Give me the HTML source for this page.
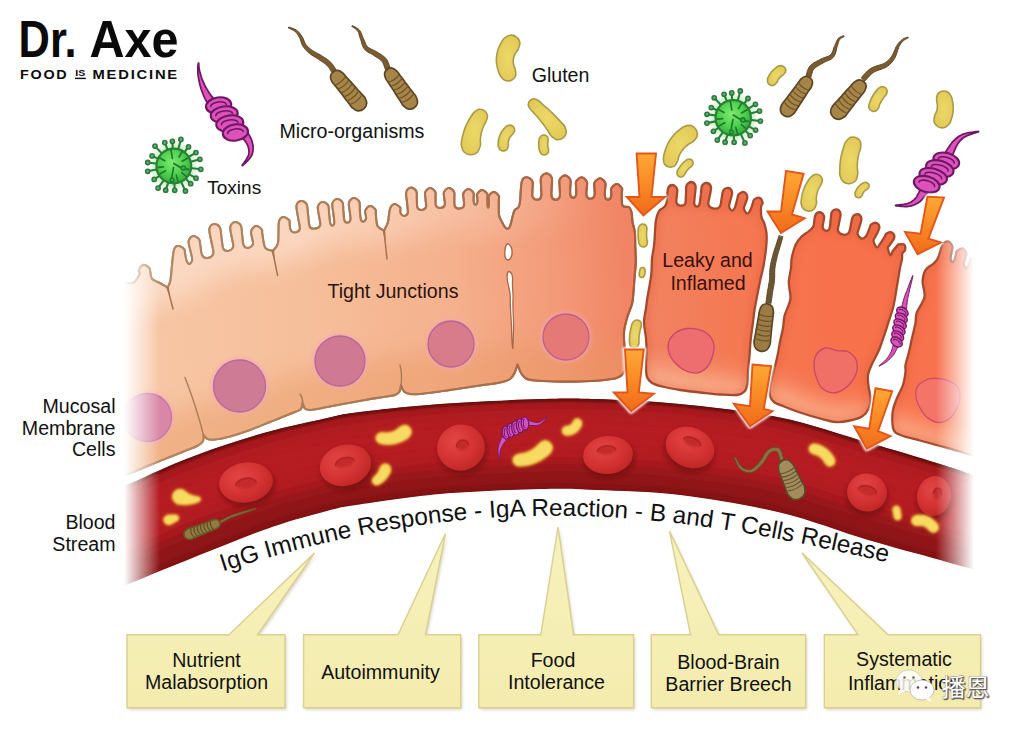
<!DOCTYPE html>
<html lang="en"><head><meta charset="utf-8"><title>Leaky Gut - Dr. Axe</title>
<style>
html,body{margin:0;padding:0;background:#fff;}
body{width:1024px;height:732px;overflow:hidden;font-family:"Liberation Sans",sans-serif;}
svg{display:block;}
</style></head><body>
<svg width="1024" height="732" viewBox="0 0 1024 732">
<defs>
<linearGradient id="gcell" gradientUnits="userSpaceOnUse" x1="120" y1="300" x2="960" y2="260">
 <stop offset="0" stop-color="#f7c7a5"/>
 <stop offset="0.22" stop-color="#f6bf9b"/>
 <stop offset="0.40" stop-color="#f5b08c"/>
 <stop offset="0.52" stop-color="#f39a78"/>
 <stop offset="0.60" stop-color="#f18565"/>
 <stop offset="0.72" stop-color="#f47a54"/>
 <stop offset="0.85" stop-color="#f7714b"/>
 <stop offset="1" stop-color="#f8744e"/>
</linearGradient>
<linearGradient id="gcellv" gradientUnits="userSpaceOnUse" x1="0" y1="200" x2="0" y2="460">
 <stop offset="0" stop-color="#f2a080" stop-opacity="0.25"/>
 <stop offset="0.5" stop-color="#f7c8a6" stop-opacity="0"/>
 <stop offset="1" stop-color="#fbd4b4" stop-opacity="0.35"/>
</linearGradient>
<linearGradient id="gstroke" gradientUnits="userSpaceOnUse" x1="120" y1="0" x2="640" y2="0">
 <stop offset="0" stop-color="#b48a64"/>
 <stop offset="0.6" stop-color="#a87450"/>
 <stop offset="1" stop-color="#a85c3c"/>
</linearGradient>

<clipPath id="hclip"><path d="M112 283C114 282.8 120.5 282 124 282C127.5 282 130.4 284.3 133 283C135.6 281.7 138.7 276.1 139.7 274C140.7 271.9 138.3 272 138.8 270.5C139.4 269 141.3 265.4 143 265C144.7 264.6 148.1 266.8 149.3 267.9C150.5 269 149.7 269.6 150.2 271.4C150.6 273.3 150.4 277.1 152 279C153.6 280.9 157.4 281.6 160 283C162.6 284.4 166.2 286.8 167.5 287.5C168 286.2 169.5 286 170.5 280C171.5 274 172.4 256.9 173.7 251.2C174.9 245.6 176.3 246.4 178 246C179.7 245.6 182.9 247.7 184.1 249C185.2 250.4 184.7 251.9 185.1 253.8C185.5 255.8 185.9 259.2 186.6 260.9C187.3 262.6 188.5 264.2 189.4 264C190.4 263.8 192 261.9 192.2 259.8C192.4 257.7 191.2 254.5 190.6 251.4C190 248.3 188.2 243.7 188.6 241.2C189 238.6 191.3 236.3 193 236C194.7 235.7 197.8 237.5 199 239.2C200.2 240.8 199.8 243.4 200.4 246.1C200.9 248.8 200.9 253.4 202.2 255.4C203.4 257.4 205.9 258.3 207.7 258C209.6 257.7 212.7 256.2 213.3 253.6C214 251 212.2 246.6 211.6 242.5C210.9 238.4 209 232.1 209.4 229C209.8 225.9 212.3 224.3 214 224C215.7 223.7 218.7 225.2 219.9 227.4C221.1 229.5 220.9 233.6 221.4 237.1C222 240.6 222.1 246 223.2 248.4C224.4 250.7 226.5 251.2 228.2 251C229.8 250.8 232.5 249.2 233.2 247C233.8 244.8 232.3 241.1 231.9 237.8C231.4 234.4 229.8 229.6 230.3 226.9C230.9 224.3 233.3 222.2 235 222C236.7 221.8 239.6 223.4 240.8 225.5C242 227.6 241.7 231.3 242.1 234.7C242.6 238 242.6 243.2 243.6 245.4C244.7 247.7 246.7 248.2 248.3 248C249.8 247.8 252.3 246 252.9 244.3C253.5 242.6 252.4 240.1 252.1 237.9C251.8 235.7 250.6 232.8 251.3 230.9C251.9 228.9 254.2 226.2 256 226C257.8 225.8 260.7 228.3 261.8 229.6C262.8 230.8 261.7 230.3 262.2 233.3C262.8 236.3 263.3 244.6 265 247.5C266.7 250.4 271.4 250.4 272.7 251C273.6 249.7 276.9 247.9 278 243C279.1 238.1 278.1 226.2 279 221.8C279.9 217.5 281.7 217.3 283.4 217C285.1 216.7 288 219.1 289.1 220.2C290.1 221.4 289.4 222.1 289.6 223.8C289.9 225.5 289.7 228.9 290.7 230.3C291.6 231.8 293.7 232.7 295.2 232.5C296.7 232.3 299.3 231.4 299.8 229C300.3 226.6 298.8 221.9 298.2 218.1C297.7 214.2 296.1 208.6 296.5 205.8C297 202.9 299.3 201.2 301 201C302.7 200.8 305.4 202.1 306.6 204.3C307.8 206.6 307.5 210.8 308 214.5C308.6 218.2 308.6 224.4 309.8 226.7C310.9 229.1 313.3 228.8 315 228.6C316.7 228.4 319.5 227.4 320.2 225.3C320.9 223.3 319.5 219.4 319.1 216.3C318.7 213.2 317.4 209.1 317.9 206.7C318.5 204.3 320.8 202.2 322.5 202C324.2 201.8 327 203.5 328.1 205.4C329.2 207.3 328.7 210.6 329.1 213.5C329.4 216.4 329.7 220.9 330.2 223C330.8 225 331.6 225.8 332.3 225.7C333 225.6 334.2 224.6 334.3 222.5C334.5 220.5 333.7 216.5 333.4 213.3C333 210.2 331.8 206 332.4 203.6C333 201.2 335.3 199.2 337 199C338.7 198.8 341.4 200.6 342.5 202.5C343.6 204.5 343 207.7 343.3 210.6C343.7 213.5 343.7 218 344.3 220.1C345 222.1 346.4 222.8 347.4 222.7C348.4 222.6 350.1 221.4 350.5 219.5C350.8 217.6 350 214 349.7 211.2C349.5 208.3 348.3 204.7 349 202.5C349.6 200.3 352 198.1 353.7 198C355.4 197.9 358.1 199.7 359.1 201.6C360.2 203.6 359.6 206.8 359.8 209.7C360.1 212.6 360.1 217.1 360.7 219.1C361.2 221 362.4 221.8 363.3 221.7C364.2 221.6 365.6 219.8 366 218.6C366.4 217.3 365.7 215.6 365.6 214.2C365.5 212.9 364.5 211.9 365.3 210.5C366 209.1 368.3 206.1 370 206C371.7 205.9 374.5 208.4 375.4 209.6C376.4 210.9 375.4 210.8 375.8 213.5C376.1 216.2 376.1 223.2 377.5 226C378.9 228.8 382.9 229.8 384 230.5C384.7 229.1 387 225.7 388 222C389 218.3 389 211.4 390.2 208.4C391.3 205.4 393.1 204.1 394.8 204C396.5 203.9 399.2 206.6 400.1 207.5C401 208.5 400.2 208.4 400.3 209.4C400.4 210.4 400 212.5 400.7 213.6C401.3 214.7 403 216.1 404.2 216C405.4 215.9 407.3 215.3 407.8 213.1C408.2 210.9 407.3 206.3 407.1 202.8C406.8 199.3 405.6 194.5 406.3 191.9C406.9 189.4 409.3 187.7 411 187.6C412.7 187.5 415.3 189.4 416.3 191.2C417.2 193.1 416.6 196.1 416.8 198.8C417 201.5 416.6 205.8 417.4 207.6C418.2 209.5 420.3 210.1 421.7 210C423.1 209.9 425.3 208.9 426 207.1C426.6 205.4 425.7 202.1 425.6 199.6C425.5 197.1 424.5 194.2 425.2 192.3C425.9 190.3 428.3 188.1 430 188C431.7 187.9 434.3 190.1 435.2 191.7C436.1 193.4 435.4 195.7 435.5 198C435.7 200.3 435.1 203.9 435.9 205.6C436.7 207.3 438.9 208.1 440.3 208C441.8 207.9 444 206.7 444.7 205.2C445.4 203.6 444.5 200.7 444.3 198.5C444.2 196.4 443.3 194 444 192.3C444.8 190.5 447.1 188.1 448.8 188C450.5 187.9 453.1 190 454 191.7C454.9 193.5 454.2 195.9 454.3 198.3C454.5 200.7 453.9 204.5 454.8 206.2C455.6 208 457.8 208.7 459.3 208.6C460.8 208.5 463.2 207.4 463.9 205.8C464.6 204.3 463.7 201.3 463.7 199.2C463.6 197.1 462.7 194.9 463.4 193.2C464.2 191.5 466.6 189.1 468.3 189C470 188.9 472.6 191.5 473.4 192.8C474.3 194.1 473.5 195.2 473.6 196.7C473.6 198.3 473.4 200.9 473.8 202.2C474.1 203.5 475 204.7 475.6 204.7C476.2 204.7 477.1 203.3 477.4 202.1C477.7 200.9 477.3 198.8 477.3 197.5C477.2 196.2 476.4 195.4 477.1 194.2C477.9 192.9 480.3 190.1 482 190C483.7 189.9 486.3 192.4 487.1 193.8C488 195.3 487.2 196.9 487.3 198.8C487.4 200.6 487.4 203.5 487.5 205C487.7 206.5 488 207.6 488.2 207.6C488.5 207.6 488.8 206.2 488.9 205C489 203.7 488.9 201.4 488.8 199.9C488.8 198.5 488 197.4 488.8 196.1C489.6 194.8 492 192 493.7 192C495.4 192 497.9 194.6 498.8 195.9C499.6 197.2 498.8 196.8 498.8 200C498.9 203.2 498.5 211.3 499 215C499.5 218.7 501 220 502 222C503 224 503.9 225.9 504.8 227C505.7 228.1 506.7 228.9 507.6 228.8C508.5 228.7 509.4 227.8 510 226.5C510.6 225.2 510.8 223.7 511.5 221C512.2 218.3 513.2 213.2 514.5 210.5C515.8 207.8 518.3 209.8 519.5 205C520.7 200.2 520.5 186.2 521.8 181.6C523 177 525.2 177.3 527 177.3C528.8 177.3 531.5 179.5 532.4 181.4C533.3 183.3 532.5 186.1 532.5 188.7C532.5 191.3 531.9 195 532.6 196.9C533.4 198.7 535.5 199.8 536.9 199.8C538.3 199.8 540.4 198.9 541.1 196.8C541.8 194.7 541.1 190.2 541.1 187C541.1 183.9 540.2 179.9 541.1 177.6C542 175.4 544.6 173.4 546.4 173.4C548.2 173.4 550.8 175.4 551.7 177.6C552.6 179.9 551.7 183.9 551.7 187C551.7 190.2 551 194.7 551.7 196.8C552.4 198.9 554.4 199.8 555.7 199.8C557 199.8 559 198.8 559.7 196.8C560.4 194.8 559.7 190.8 559.7 187.9C559.7 185.1 558.8 181.7 559.7 179.6C560.6 177.5 563.2 175.4 565 175.4C566.8 175.4 569.4 177.7 570.3 179.6C571.2 181.6 570.3 184.4 570.3 186.9C570.3 189.4 569.8 193.1 570.3 194.9C570.8 196.7 572.2 197.9 573.1 197.9C574.1 197.9 575.5 196.7 576 195C576.5 193.2 576.1 189.9 576.1 187.7C576.2 185.4 575.3 183.2 576.2 181.4C577.1 179.7 579.8 177.3 581.6 177.3C583.4 177.3 586 179.8 586.8 181.6C587.7 183.5 586.7 186 586.7 188.3C586.7 190.7 585.9 194 586.6 195.8C587.2 197.5 589.2 198.8 590.5 198.8C591.8 198.8 593.7 197.6 594.4 195.9C595.1 194.2 594.5 190.8 594.5 188.6C594.6 186.4 593.7 184.2 594.6 182.4C595.5 180.7 598.2 178.3 600 178.3C601.8 178.3 604.4 180.8 605.2 182.6C606.1 184.5 605.1 187 605.1 189.3C605.1 191.7 604.5 195 605 196.7C605.5 198.5 607 199.8 608 199.8C609 199.8 610.5 198.3 611 196.9C611.6 195.5 611.2 193.1 611.2 191.6C611.3 190.1 610.4 189.3 611.4 188.1C612.3 186.8 615 183.9 616.8 184C618.6 184.1 621.1 187.1 621.9 188.4C622.8 189.8 621.7 189.3 621.8 192.1C621.9 195 621.3 203 622.5 205.5C623.7 208 627.5 205.9 629 207C630.5 208.1 630.9 209.5 631.5 212C632.1 214.5 632 218.7 632.5 222C633 225.3 634.3 227.8 634.8 232C635.3 236.2 635.1 242 635.3 247C635.5 252 635.9 256.8 635.8 262C635.7 267.2 634.9 273 634.5 278C634.1 283 633.9 287.7 633.5 292C633.1 296.3 633.1 299.7 632 304C630.9 308.3 628.3 313.3 627 318C625.7 322.7 624.4 327.3 624 332C623.6 336.7 624.1 341.7 624.5 346C624.9 350.3 626.2 354.3 626.5 358C626.8 361.7 626.8 365.2 626 368C625.2 370.8 623.8 373.2 622 375C620.2 376.8 616.2 377.9 615 378.5C612.5 378.8 605.8 380 600 380.5C594.2 381 587.5 381.3 580 381.5C572.5 381.7 562.5 381.7 555 381.5C547.5 381.3 539.8 381 535 380.5C530.2 380 528.3 379.8 526 378.5C523.7 377.2 522.4 375.3 521 373C519.6 370.7 518.1 365.9 517.5 364.5C517 365.9 515.8 370.6 514.5 373C513.2 375.4 512.4 377.4 510 379C507.6 380.6 505 381.4 500 382.5C495 383.6 486.7 384.5 480 385.5C473.3 386.5 466.7 387.5 460 388.5C453.3 389.5 446.7 390.6 440 391.5C433.3 392.4 425 393.6 420 394C415 394.4 412.7 394.4 410 394C407.3 393.6 405.5 393 404 391.5C402.5 390 401.5 386.1 401 385C400.8 386.1 400.5 389.8 399.5 391.5C398.5 393.2 398.2 394 395 395C391.8 396 385 396.7 380 397.5C375 398.3 371.7 398.8 365 400C358.3 401.2 347.5 403.1 340 404.5C332.5 405.9 325 407.6 320 408.5C315 409.4 312.5 410 310 410C307.5 410 306.2 409.7 305 408.5C303.8 407.3 302.9 403.9 302.5 403C302.2 404 302.1 407.6 301 409C299.9 410.4 298.7 410.3 296 411.5C293.3 412.7 289.3 414.2 285 416C280.7 417.8 275.8 419.7 270 422C264.2 424.3 256.7 427.6 250 430C243.3 432.4 235.8 434.9 230 436.5C224.2 438.1 218.8 439.1 215 439.5C211.2 439.9 209.4 439.8 207.5 439C205.6 438.2 204.2 435.7 203.5 435C203.4 436 203.9 439.2 203 441C202.1 442.8 201 443.8 198 445.5C195 447.2 189.7 449.1 185 451C180.3 452.9 175.8 454.7 170 457C164.2 459.3 156.3 462.4 150 465C143.7 467.6 138.3 470 132 472.5C125.7 475 115.3 478.8 112 480L112 283Z"/></clipPath>
<linearGradient id="gmaskL" gradientUnits="userSpaceOnUse" x1="300" y1="0" x2="600" y2="0"><stop offset="0" stop-color="#fff"/><stop offset="1" stop-color="#000"/></linearGradient><mask id="maskL" maskUnits="userSpaceOnUse" x="0" y="0" width="1024" height="732"><rect width="1024" height="732" fill="url(#gmaskL)"/></mask>
<clipPath id="rclip0"><path d="M659 211C660.2 208.9 662.2 208.8 663.5 207.5C664.8 206.2 665.7 206.2 666.5 203C667.3 199.8 667 191.4 668.1 188.4C669.1 185.4 671.2 184.9 672.7 185C674.2 185.1 676.4 187 677.1 188.8C677.8 190.5 676.9 193.3 676.8 195.7C676.7 198 675.9 201.3 676.6 203C677.3 204.6 679.5 205.6 680.9 205.7C682.4 205.8 684.5 205.4 685.3 203.4C686.1 201.5 685.7 196.9 686 193.8C686.2 190.8 685.7 187.3 686.6 185.3C687.4 183.3 689.8 181.9 691.3 182C692.8 182.1 694.9 183.7 695.5 185.9C696.1 188.1 695.1 192 694.9 195C694.7 197.9 694 201.8 694.3 203.7C694.6 205.7 696 206.5 696.9 206.6C697.7 206.7 698.8 206.2 699.5 204.2C700.1 202.1 700.4 197.4 700.9 194.4C701.3 191.3 701 187.8 702 185.9C703.1 184 705.5 182.8 707 183C708.5 183.2 710.5 184.9 711 187.2C711.4 189.5 710 193.8 709.6 196.7C709.2 199.7 707.7 202.8 708.5 204.8C709.2 206.8 712.3 208.3 714.2 208.6C716.1 208.9 718.6 208.5 719.8 206.6C721.1 204.7 721.3 200 721.8 197.3C722.4 194.6 722.2 192.1 723.2 190.6C724.3 189 726.9 187.7 728.4 188C729.9 188.3 731.7 190.4 732.1 192.5C732.4 194.5 730.9 197.9 730.4 200.2C729.9 202.6 728.8 204.9 729.1 206.6C729.3 208.3 731 210.3 731.9 210.5C732.9 210.7 733.9 209.5 734.8 207.7C735.7 205.9 736.5 202 737.1 199.7C737.8 197.5 737.5 195.5 738.7 194.2C739.8 192.9 742.6 191.6 744 192C745.4 192.4 747.1 194.7 747.3 196.7C747.6 198.7 745.9 201.8 745.3 203.8C744.7 205.8 743.6 207.1 743.9 208.8C744.2 210.4 746 213.2 747 213.5C748.1 213.8 749.3 212.1 750.2 210.4C751.2 208.8 752.1 205.4 752.7 203.6C753.4 201.8 753 200.6 754.1 199.6C755.3 198.7 758.2 197.3 759.6 197.8C761 198.3 762.3 201.2 762.6 202.7C762.8 204.2 761.3 204.4 761.1 206.8C760.9 209.2 760.9 214.1 761.5 217C762.1 219.9 763.7 221.3 764.5 224C765.3 226.7 766.2 229.8 766.5 233C766.8 236.2 766.7 239.7 766.5 243C766.3 246.3 766 249.2 765.5 253C765 256.8 764.3 261.7 763.5 266C762.7 270.3 761.5 274.3 760.5 279C759.5 283.7 758.5 288.8 757.5 294C756.5 299.2 755.3 304.7 754.5 310C753.7 315.3 753.2 320.7 752.5 326C751.8 331.3 751 337 750.5 342C750 347 749.9 351 749.5 356C749.1 361 748.3 367.3 748 372C747.7 376.7 748.1 380.8 747.5 384C746.9 387.2 746.2 389.7 744.5 391.5C742.8 393.3 741.1 394.5 737 395C732.9 395.5 726.2 394.9 720 394.5C713.8 394.1 706.7 393.2 700 392.5C693.3 391.8 686.3 391 680 390C673.7 389 666.7 387.7 662 386.5C657.3 385.3 654.5 384.6 652 383C649.5 381.4 648 379.8 647 377C646 374.2 646.1 370.2 646 366C645.9 361.8 646.5 356.7 646.5 352C646.5 347.3 646.4 343 646 338C645.6 333 644 327 644 322C644 317 645.4 312.2 646 308C646.6 303.8 646.9 300.7 647.5 297C648.1 293.3 648.8 290.2 649.5 286C650.2 281.8 651.1 276.5 651.5 272C651.9 267.5 651.6 263.3 652 259C652.4 254.7 653.5 250.5 654 246C654.5 241.5 654.7 236.3 655 232C655.3 227.7 655.3 223.5 656 220C656.7 216.5 657.8 213.1 659 211Z"/></clipPath>
<clipPath id="rclip1"><path d="M801.5 236.6C803.8 234.3 807 232.8 809 231C811 229.2 812.5 228.6 813.5 226C814.5 223.4 814.2 217.5 815.3 215.2C816.3 212.9 818.5 212 820 212.2C821.5 212.4 823.4 214.5 824 216.2C824.6 217.8 823.6 220 823.4 222C823.2 223.9 822.3 226.3 822.8 227.8C823.2 229.2 825 230.7 826.1 230.8C827.2 230.9 828.7 230.4 829.5 228.5C830.2 226.7 830.3 222.3 830.7 219.5C831.1 216.8 830.8 213.9 831.8 212.2C832.7 210.5 835.1 209.1 836.6 209.3C838.1 209.5 840 211.1 840.5 213.4C840.9 215.7 839.5 220 839.1 222.9C838.7 225.8 837.3 228.9 838 230.9C838.7 232.9 841.6 234.4 843.4 234.7C845.2 235 847.6 234.5 848.9 232.6C850.2 230.7 850.5 225.9 851.2 223.2C851.9 220.5 851.7 218.1 852.9 216.6C854 215 856.6 213.8 858 214.2C859.4 214.6 861.2 216.5 861.4 218.7C861.6 220.9 859.9 224.9 859.2 227.4C858.6 230 857.2 232.2 857.6 234.1C858 235.9 860.4 238.2 861.8 238.6C863.2 239 864.7 237.9 866 236.2C867.3 234.5 868.7 230.2 869.5 228.2C870.4 226.3 870.1 225.3 871.2 224.4C872.4 223.6 875.4 222.4 876.7 223C878 223.6 879.5 225.8 879.3 228C879.1 230.2 876.6 234.1 875.6 236.2C874.7 238.4 873.3 239.1 873.5 241C873.7 242.8 875.8 247 876.9 247.4C878.1 247.8 879 245.4 880.3 243.5C881.6 241.7 883.7 238.2 884.8 236.5C885.8 234.8 885.4 234 886.7 233.4C888 232.7 891.1 231.9 892.3 232.7C893.5 233.5 894.6 236 894.2 238C893.8 240 891 243.1 889.9 244.8C888.9 246.5 887.8 246.4 887.9 248.1C887.9 249.8 889.6 254.8 890.4 255.2C891.3 255.6 891.9 252.4 893 250.7C894.2 249.1 896.5 246.6 897.4 245.5C898.3 244.4 897.3 244.5 898.4 244.4C899.5 244.2 902.9 243.6 904 244.5C905.1 245.4 905.4 248.5 905.1 250C904.8 251.5 902.8 251.9 902.3 253.4C901.8 254.9 902.4 256.6 902 259C901.6 261.4 900.7 264.5 900 268C899.3 271.5 898.8 275.5 898 280C897.2 284.5 896.3 290.3 895.5 295C894.7 299.7 894.2 303.5 893 308C891.8 312.5 890 317.3 888.5 322C887 326.7 885.6 331.3 884 336C882.4 340.7 881 345.3 879 350C877 354.7 873.8 359.8 872 364C870.2 368.2 868.6 371.3 868 375C867.4 378.7 868.1 382.2 868.5 386C868.9 389.8 870.5 394.2 870.5 398C870.5 401.8 869.9 405.9 868.5 409C867.1 412.1 865.1 414.6 862 416.5C858.9 418.4 854.3 419.6 850 420.5C845.7 421.4 841 422.3 836 422C831 421.7 826 420.1 820 418.5C814 416.9 806 414.5 800 412.5C794 410.5 788.3 408.2 784 406.5C779.7 404.8 776.3 403.8 774 402C771.7 400.2 770.7 398.3 770 396C769.3 393.7 769.5 391.7 770 388C770.5 384.3 771.8 379 773 374C774.2 369 775.8 363.3 777 358C778.2 352.7 779 347 780 342C781 337 782.2 332.3 783 328C783.8 323.7 783.5 320 784.5 316C785.5 312 788 307.2 789 304C790 300.8 790.5 300.7 790.5 297C790.5 293.3 788.7 286.8 788.8 282C788.9 277.2 790.5 272 791 268C791.5 264 791 261.8 791.7 258C792.5 254.2 793.9 248.6 795.5 245C797.1 241.4 799.2 238.9 801.5 236.6Z"/></clipPath>
<clipPath id="rclip2"><path d="M925.5 270C927.2 267.1 930.9 266 933 264C935.1 262 936.4 261.2 938 258C939.6 254.8 940.8 247.5 942.5 244.8C944.2 242 946.3 241.3 948 241.5C949.7 241.7 951.8 244.3 952.4 246.2C953 248 951.8 250.5 951.5 252.6C951.2 254.8 950.4 257.4 950.6 258.9C950.8 260.5 952 261.9 952.6 262C953.3 262.1 954.1 260.9 954.7 259.5C955.3 258.2 955.8 255.2 956.1 253.7C956.5 252.3 955.7 252 956.8 251.1C957.9 250.2 961 248 962.6 248.4C964.2 248.8 966.1 251.7 966.5 253.5C966.9 255.3 965.5 257.6 965 259.4C964.6 261.1 963.6 262.6 963.9 264C964.1 265.5 965.5 267.8 966.3 268C967.1 268.2 968 266.4 968.7 265.1C969.4 263.8 970.1 261.3 970.5 260.3C970.9 259.3 969.8 259.6 970.9 259C972 258.5 975.4 256.4 977 257C978.6 257.6 980 260.9 980.3 262.5C980.7 264 978.3 264.2 978.9 266.3C979.5 268.4 980.5 271.9 984 275C987.5 278.1 997.3 252.5 1000 285C1002.7 317.5 1002.5 440.8 1000 470C997.5 499.2 991.2 462.9 985 460C978.8 457.1 970.5 454.8 963 452.5C955.5 450.2 947.2 448 940 446C932.8 444 926.2 442.2 920 440.5C913.8 438.8 907.2 437.5 903 436C898.8 434.5 896.2 433.5 894.5 431.5C892.8 429.5 892.8 427.6 892.5 424C892.2 420.4 892.2 414.3 893 410C893.8 405.7 895.3 402.2 897 398C898.7 393.8 901.6 389.3 903 385C904.4 380.7 905.1 375.3 905.5 372C905.9 368.7 904.9 368.3 905.5 365C906.1 361.7 907.9 356.5 909 352C910.1 347.5 910.9 342.8 912 338C913.1 333.2 914.7 327.2 915.5 323C916.3 318.8 915.2 317.1 916.7 312.8C918.2 308.5 923.5 302.2 924.5 297C925.5 291.8 922.4 286 922.6 281.5C922.8 277 923.8 272.9 925.5 270Z"/></clipPath>

<filter id="blur2" x="-30%" y="-30%" width="160%" height="160%"><feGaussianBlur stdDeviation="2"/></filter>
<filter id="blur1" x="-30%" y="-30%" width="160%" height="160%"><feGaussianBlur stdDeviation="1"/></filter>
<filter id="blur3" x="-30%" y="-30%" width="160%" height="160%"><feGaussianBlur stdDeviation="3"/></filter>
<filter id="blur5" x="-30%" y="-30%" width="160%" height="160%"><feGaussianBlur stdDeviation="5"/></filter>
<filter id="blur12" x="-30%" y="-100%" width="160%" height="300%"><feGaussianBlur stdDeviation="12"/></filter>
<filter id="blur8" x="-30%" y="-60%" width="160%" height="220%"><feGaussianBlur stdDeviation="8"/></filter>

<clipPath id="bandclip"><path d="M100 495C105.4 492.9 120 487.8 132.5 482.5C145 477.2 159.6 469.8 175 463.5C190.4 457.2 208.3 450.6 225 445C241.7 439.4 258.3 434.4 275 430C291.7 425.6 311.5 421.4 325 418.5C338.5 415.6 336.8 414.9 356 412.5C375.2 410.1 409.3 406.2 440 404C470.7 401.8 514 399.8 540 399C566 398.2 572.7 398.2 596 399C619.3 399.8 649.3 400.9 680 404C710.7 407.1 748.7 411.1 780 417.5C811.3 423.9 841.3 434.8 868 442.5C894.7 450.2 918 457.1 940 464C962 470.9 990 480.7 1000 484L1000 577C990 574.2 962 566.2 940 560C918 553.8 894.7 547.9 868 540C841.3 532.1 811.3 520 780 512.5C748.7 505 710.7 498.8 680 495C649.3 491.2 619.3 491 596 490C572.7 489 566 488.3 540 489C514 489.7 470.7 491.3 440 494C409.3 496.7 375.2 502.1 356 505C336.8 507.9 338.5 508 325 511.5C311.5 515 291.7 520.4 275 526C258.3 531.6 241.7 538.5 225 545C208.3 551.5 190.4 558.8 175 565C159.6 571.2 145 577.3 132.5 582.5C120 587.7 105.4 593.8 100 596Z"/></clipPath>

<radialGradient id="grbc" cx="0.4" cy="0.35" r="0.7">
 <stop offset="0" stop-color="#e34646"/><stop offset="0.6" stop-color="#d43232"/><stop offset="1" stop-color="#bd2626"/>
</radialGradient>

<linearGradient id="fadeL" gradientUnits="userSpaceOnUse" x1="124" y1="0" x2="160" y2="0">
 <stop offset="0" stop-color="#fff" stop-opacity="1"/><stop offset="1" stop-color="#fff" stop-opacity="0"/></linearGradient>
<linearGradient id="fadeR" gradientUnits="userSpaceOnUse" x1="936" y1="0" x2="974" y2="0">
 <stop offset="0" stop-color="#fff" stop-opacity="0"/><stop offset="1" stop-color="#fff" stop-opacity="1"/></linearGradient>


<radialGradient id="gglu" cx="0.5" cy="0.5" r="0.6">
 <stop offset="0" stop-color="#ecd868"/><stop offset="1" stop-color="#e2c956"/></radialGradient>

<radialGradient id="gvir" cx="0.45" cy="0.4" r="0.65">
 <stop offset="0" stop-color="#7dea70"/><stop offset="0.55" stop-color="#4fd04c"/><stop offset="1" stop-color="#2ea83a"/></radialGradient>

<linearGradient id="garrow" x1="0" y1="0" x2="0" y2="1">
 <stop offset="0" stop-color="#fda836"/><stop offset="0.5" stop-color="#f98a25"/><stop offset="1" stop-color="#f06a1b"/></linearGradient>

<filter id="boxsh" x="-10%" y="-10%" width="120%" height="130%"><feGaussianBlur stdDeviation="1.6"/></filter>
<linearGradient id="gbox" x1="0" y1="0" x2="0" y2="1"><stop offset="0" stop-color="#f7f1bc"/><stop offset="1" stop-color="#f4ecae"/></linearGradient>

<path id="arc" d="M215 574.1C220.8 572.2 238.3 566.6 250 563.1C261.7 559.6 273.3 556.2 285 553.1C296.7 549.9 308.3 546.9 320 544.1C331.7 541.3 343.3 538.7 355 536.3C366.7 533.9 378.3 531.7 390 529.7C401.7 527.7 413.3 525.9 425 524.4C436.7 522.8 448.3 521.4 460 520.3C471.7 519.2 483.3 518.2 495 517.5C506.7 516.8 518.3 516.3 530 516C541.7 515.8 553.3 515.7 565 515.8C576.7 515.9 588.3 516.3 600 516.8C611.7 517.4 623.3 518.1 635 519C646.7 520 658.3 521.1 670 522.4C681.7 523.7 693.3 525.1 705 526.8C716.7 528.4 728.3 530.2 740 532.1C751.7 534 763.3 536.1 775 538.3C786.7 540.5 798.3 542.8 810 545.2C821.7 547.6 833.3 550.2 845 552.7C856.7 555.3 868.3 558 880 560.7C891.7 563.4 903.3 566.2 915 568.9C926.7 571.7 944.2 575.9 950 577.2"/></defs>
<rect width="1024" height="732" fill="#fff"/>
<g id="cells">
<path d="M112 283C114 282.8 120.5 282 124 282C127.5 282 130.4 284.3 133 283C135.6 281.7 138.7 276.1 139.7 274C140.7 271.9 138.3 272 138.8 270.5C139.4 269 141.3 265.4 143 265C144.7 264.6 148.1 266.8 149.3 267.9C150.5 269 149.7 269.6 150.2 271.4C150.6 273.3 150.4 277.1 152 279C153.6 280.9 157.4 281.6 160 283C162.6 284.4 166.2 286.8 167.5 287.5C168 286.2 169.5 286 170.5 280C171.5 274 172.4 256.9 173.7 251.2C174.9 245.6 176.3 246.4 178 246C179.7 245.6 182.9 247.7 184.1 249C185.2 250.4 184.7 251.9 185.1 253.8C185.5 255.8 185.9 259.2 186.6 260.9C187.3 262.6 188.5 264.2 189.4 264C190.4 263.8 192 261.9 192.2 259.8C192.4 257.7 191.2 254.5 190.6 251.4C190 248.3 188.2 243.7 188.6 241.2C189 238.6 191.3 236.3 193 236C194.7 235.7 197.8 237.5 199 239.2C200.2 240.8 199.8 243.4 200.4 246.1C200.9 248.8 200.9 253.4 202.2 255.4C203.4 257.4 205.9 258.3 207.7 258C209.6 257.7 212.7 256.2 213.3 253.6C214 251 212.2 246.6 211.6 242.5C210.9 238.4 209 232.1 209.4 229C209.8 225.9 212.3 224.3 214 224C215.7 223.7 218.7 225.2 219.9 227.4C221.1 229.5 220.9 233.6 221.4 237.1C222 240.6 222.1 246 223.2 248.4C224.4 250.7 226.5 251.2 228.2 251C229.8 250.8 232.5 249.2 233.2 247C233.8 244.8 232.3 241.1 231.9 237.8C231.4 234.4 229.8 229.6 230.3 226.9C230.9 224.3 233.3 222.2 235 222C236.7 221.8 239.6 223.4 240.8 225.5C242 227.6 241.7 231.3 242.1 234.7C242.6 238 242.6 243.2 243.6 245.4C244.7 247.7 246.7 248.2 248.3 248C249.8 247.8 252.3 246 252.9 244.3C253.5 242.6 252.4 240.1 252.1 237.9C251.8 235.7 250.6 232.8 251.3 230.9C251.9 228.9 254.2 226.2 256 226C257.8 225.8 260.7 228.3 261.8 229.6C262.8 230.8 261.7 230.3 262.2 233.3C262.8 236.3 263.3 244.6 265 247.5C266.7 250.4 271.4 250.4 272.7 251C273.6 249.7 276.9 247.9 278 243C279.1 238.1 278.1 226.2 279 221.8C279.9 217.5 281.7 217.3 283.4 217C285.1 216.7 288 219.1 289.1 220.2C290.1 221.4 289.4 222.1 289.6 223.8C289.9 225.5 289.7 228.9 290.7 230.3C291.6 231.8 293.7 232.7 295.2 232.5C296.7 232.3 299.3 231.4 299.8 229C300.3 226.6 298.8 221.9 298.2 218.1C297.7 214.2 296.1 208.6 296.5 205.8C297 202.9 299.3 201.2 301 201C302.7 200.8 305.4 202.1 306.6 204.3C307.8 206.6 307.5 210.8 308 214.5C308.6 218.2 308.6 224.4 309.8 226.7C310.9 229.1 313.3 228.8 315 228.6C316.7 228.4 319.5 227.4 320.2 225.3C320.9 223.3 319.5 219.4 319.1 216.3C318.7 213.2 317.4 209.1 317.9 206.7C318.5 204.3 320.8 202.2 322.5 202C324.2 201.8 327 203.5 328.1 205.4C329.2 207.3 328.7 210.6 329.1 213.5C329.4 216.4 329.7 220.9 330.2 223C330.8 225 331.6 225.8 332.3 225.7C333 225.6 334.2 224.6 334.3 222.5C334.5 220.5 333.7 216.5 333.4 213.3C333 210.2 331.8 206 332.4 203.6C333 201.2 335.3 199.2 337 199C338.7 198.8 341.4 200.6 342.5 202.5C343.6 204.5 343 207.7 343.3 210.6C343.7 213.5 343.7 218 344.3 220.1C345 222.1 346.4 222.8 347.4 222.7C348.4 222.6 350.1 221.4 350.5 219.5C350.8 217.6 350 214 349.7 211.2C349.5 208.3 348.3 204.7 349 202.5C349.6 200.3 352 198.1 353.7 198C355.4 197.9 358.1 199.7 359.1 201.6C360.2 203.6 359.6 206.8 359.8 209.7C360.1 212.6 360.1 217.1 360.7 219.1C361.2 221 362.4 221.8 363.3 221.7C364.2 221.6 365.6 219.8 366 218.6C366.4 217.3 365.7 215.6 365.6 214.2C365.5 212.9 364.5 211.9 365.3 210.5C366 209.1 368.3 206.1 370 206C371.7 205.9 374.5 208.4 375.4 209.6C376.4 210.9 375.4 210.8 375.8 213.5C376.1 216.2 376.1 223.2 377.5 226C378.9 228.8 382.9 229.8 384 230.5C384.7 229.1 387 225.7 388 222C389 218.3 389 211.4 390.2 208.4C391.3 205.4 393.1 204.1 394.8 204C396.5 203.9 399.2 206.6 400.1 207.5C401 208.5 400.2 208.4 400.3 209.4C400.4 210.4 400 212.5 400.7 213.6C401.3 214.7 403 216.1 404.2 216C405.4 215.9 407.3 215.3 407.8 213.1C408.2 210.9 407.3 206.3 407.1 202.8C406.8 199.3 405.6 194.5 406.3 191.9C406.9 189.4 409.3 187.7 411 187.6C412.7 187.5 415.3 189.4 416.3 191.2C417.2 193.1 416.6 196.1 416.8 198.8C417 201.5 416.6 205.8 417.4 207.6C418.2 209.5 420.3 210.1 421.7 210C423.1 209.9 425.3 208.9 426 207.1C426.6 205.4 425.7 202.1 425.6 199.6C425.5 197.1 424.5 194.2 425.2 192.3C425.9 190.3 428.3 188.1 430 188C431.7 187.9 434.3 190.1 435.2 191.7C436.1 193.4 435.4 195.7 435.5 198C435.7 200.3 435.1 203.9 435.9 205.6C436.7 207.3 438.9 208.1 440.3 208C441.8 207.9 444 206.7 444.7 205.2C445.4 203.6 444.5 200.7 444.3 198.5C444.2 196.4 443.3 194 444 192.3C444.8 190.5 447.1 188.1 448.8 188C450.5 187.9 453.1 190 454 191.7C454.9 193.5 454.2 195.9 454.3 198.3C454.5 200.7 453.9 204.5 454.8 206.2C455.6 208 457.8 208.7 459.3 208.6C460.8 208.5 463.2 207.4 463.9 205.8C464.6 204.3 463.7 201.3 463.7 199.2C463.6 197.1 462.7 194.9 463.4 193.2C464.2 191.5 466.6 189.1 468.3 189C470 188.9 472.6 191.5 473.4 192.8C474.3 194.1 473.5 195.2 473.6 196.7C473.6 198.3 473.4 200.9 473.8 202.2C474.1 203.5 475 204.7 475.6 204.7C476.2 204.7 477.1 203.3 477.4 202.1C477.7 200.9 477.3 198.8 477.3 197.5C477.2 196.2 476.4 195.4 477.1 194.2C477.9 192.9 480.3 190.1 482 190C483.7 189.9 486.3 192.4 487.1 193.8C488 195.3 487.2 196.9 487.3 198.8C487.4 200.6 487.4 203.5 487.5 205C487.7 206.5 488 207.6 488.2 207.6C488.5 207.6 488.8 206.2 488.9 205C489 203.7 488.9 201.4 488.8 199.9C488.8 198.5 488 197.4 488.8 196.1C489.6 194.8 492 192 493.7 192C495.4 192 497.9 194.6 498.8 195.9C499.6 197.2 498.8 196.8 498.8 200C498.9 203.2 498.5 211.3 499 215C499.5 218.7 501 220 502 222C503 224 503.9 225.9 504.8 227C505.7 228.1 506.7 228.9 507.6 228.8C508.5 228.7 509.4 227.8 510 226.5C510.6 225.2 510.8 223.7 511.5 221C512.2 218.3 513.2 213.2 514.5 210.5C515.8 207.8 518.3 209.8 519.5 205C520.7 200.2 520.5 186.2 521.8 181.6C523 177 525.2 177.3 527 177.3C528.8 177.3 531.5 179.5 532.4 181.4C533.3 183.3 532.5 186.1 532.5 188.7C532.5 191.3 531.9 195 532.6 196.9C533.4 198.7 535.5 199.8 536.9 199.8C538.3 199.8 540.4 198.9 541.1 196.8C541.8 194.7 541.1 190.2 541.1 187C541.1 183.9 540.2 179.9 541.1 177.6C542 175.4 544.6 173.4 546.4 173.4C548.2 173.4 550.8 175.4 551.7 177.6C552.6 179.9 551.7 183.9 551.7 187C551.7 190.2 551 194.7 551.7 196.8C552.4 198.9 554.4 199.8 555.7 199.8C557 199.8 559 198.8 559.7 196.8C560.4 194.8 559.7 190.8 559.7 187.9C559.7 185.1 558.8 181.7 559.7 179.6C560.6 177.5 563.2 175.4 565 175.4C566.8 175.4 569.4 177.7 570.3 179.6C571.2 181.6 570.3 184.4 570.3 186.9C570.3 189.4 569.8 193.1 570.3 194.9C570.8 196.7 572.2 197.9 573.1 197.9C574.1 197.9 575.5 196.7 576 195C576.5 193.2 576.1 189.9 576.1 187.7C576.2 185.4 575.3 183.2 576.2 181.4C577.1 179.7 579.8 177.3 581.6 177.3C583.4 177.3 586 179.8 586.8 181.6C587.7 183.5 586.7 186 586.7 188.3C586.7 190.7 585.9 194 586.6 195.8C587.2 197.5 589.2 198.8 590.5 198.8C591.8 198.8 593.7 197.6 594.4 195.9C595.1 194.2 594.5 190.8 594.5 188.6C594.6 186.4 593.7 184.2 594.6 182.4C595.5 180.7 598.2 178.3 600 178.3C601.8 178.3 604.4 180.8 605.2 182.6C606.1 184.5 605.1 187 605.1 189.3C605.1 191.7 604.5 195 605 196.7C605.5 198.5 607 199.8 608 199.8C609 199.8 610.5 198.3 611 196.9C611.6 195.5 611.2 193.1 611.2 191.6C611.3 190.1 610.4 189.3 611.4 188.1C612.3 186.8 615 183.9 616.8 184C618.6 184.1 621.1 187.1 621.9 188.4C622.8 189.8 621.7 189.3 621.8 192.1C621.9 195 621.3 203 622.5 205.5C623.7 208 627.5 205.9 629 207C630.5 208.1 630.9 209.5 631.5 212C632.1 214.5 632 218.7 632.5 222C633 225.3 634.3 227.8 634.8 232C635.3 236.2 635.1 242 635.3 247C635.5 252 635.9 256.8 635.8 262C635.7 267.2 634.9 273 634.5 278C634.1 283 633.9 287.7 633.5 292C633.1 296.3 633.1 299.7 632 304C630.9 308.3 628.3 313.3 627 318C625.7 322.7 624.4 327.3 624 332C623.6 336.7 624.1 341.7 624.5 346C624.9 350.3 626.2 354.3 626.5 358C626.8 361.7 626.8 365.2 626 368C625.2 370.8 623.8 373.2 622 375C620.2 376.8 616.2 377.9 615 378.5C612.5 378.8 605.8 380 600 380.5C594.2 381 587.5 381.3 580 381.5C572.5 381.7 562.5 381.7 555 381.5C547.5 381.3 539.8 381 535 380.5C530.2 380 528.3 379.8 526 378.5C523.7 377.2 522.4 375.3 521 373C519.6 370.7 518.1 365.9 517.5 364.5C517 365.9 515.8 370.6 514.5 373C513.2 375.4 512.4 377.4 510 379C507.6 380.6 505 381.4 500 382.5C495 383.6 486.7 384.5 480 385.5C473.3 386.5 466.7 387.5 460 388.5C453.3 389.5 446.7 390.6 440 391.5C433.3 392.4 425 393.6 420 394C415 394.4 412.7 394.4 410 394C407.3 393.6 405.5 393 404 391.5C402.5 390 401.5 386.1 401 385C400.8 386.1 400.5 389.8 399.5 391.5C398.5 393.2 398.2 394 395 395C391.8 396 385 396.7 380 397.5C375 398.3 371.7 398.8 365 400C358.3 401.2 347.5 403.1 340 404.5C332.5 405.9 325 407.6 320 408.5C315 409.4 312.5 410 310 410C307.5 410 306.2 409.7 305 408.5C303.8 407.3 302.9 403.9 302.5 403C302.2 404 302.1 407.6 301 409C299.9 410.4 298.7 410.3 296 411.5C293.3 412.7 289.3 414.2 285 416C280.7 417.8 275.8 419.7 270 422C264.2 424.3 256.7 427.6 250 430C243.3 432.4 235.8 434.9 230 436.5C224.2 438.1 218.8 439.1 215 439.5C211.2 439.9 209.4 439.8 207.5 439C205.6 438.2 204.2 435.7 203.5 435C203.4 436 203.9 439.2 203 441C202.1 442.8 201 443.8 198 445.5C195 447.2 189.7 449.1 185 451C180.3 452.9 175.8 454.7 170 457C164.2 459.3 156.3 462.4 150 465C143.7 467.6 138.3 470 132 472.5C125.7 475 115.3 478.8 112 480L112 283Z" fill="url(#gcell)" stroke="url(#gstroke)" stroke-width="2.1" stroke-linejoin="round"/>
<g clip-path="url(#hclip)">
<g mask="url(#maskL)"><path d="M100 290C111.3 287 148 279.7 168 272C188 264.3 202.7 250 220 244C237.3 238 253.7 240.7 272 236C290.3 231.3 311.3 219.7 330 216C348.7 212.3 364 216.7 384 214C404 211.3 429.5 201.3 450 200C470.5 198.7 487 207.7 507 206C527 204.3 547.8 191.7 570 190C592.2 188.3 628.3 195 640 196" fill="none" stroke="#fde4d4" stroke-width="60" filter="url(#blur12)" opacity="0.62"/></g>
<path d="M100 486C108.3 482.5 132.8 472.7 150 465C167.2 457.3 186.3 445.8 203 440C219.7 434.2 233.5 435.3 250 430C266.5 424.7 285.3 412.7 302 408C318.7 403.3 333.5 405 350 402C366.5 399 382.7 392.3 401 390C419.3 387.7 440.7 389.8 460 388C479.3 386.2 498.7 380.2 517 379C535.3 377.8 549.5 381.2 570 381C590.5 380.8 628.3 378.5 640 378" fill="none" stroke="#e8965f" stroke-width="70" filter="url(#blur12)" opacity="0.42"/>
</g>
<path d="M112 283C114 282.8 120.5 282 124 282C127.5 282 130.4 284.3 133 283C135.6 281.7 138.7 276.1 139.7 274C140.7 271.9 138.3 272 138.8 270.5C139.4 269 141.3 265.4 143 265C144.7 264.6 148.1 266.8 149.3 267.9C150.5 269 149.7 269.6 150.2 271.4C150.6 273.3 150.4 277.1 152 279C153.6 280.9 157.4 281.6 160 283C162.6 284.4 166.2 286.8 167.5 287.5C168 286.2 169.5 286 170.5 280C171.5 274 172.4 256.9 173.7 251.2C174.9 245.6 176.3 246.4 178 246C179.7 245.6 182.9 247.7 184.1 249C185.2 250.4 184.7 251.9 185.1 253.8C185.5 255.8 185.9 259.2 186.6 260.9C187.3 262.6 188.5 264.2 189.4 264C190.4 263.8 192 261.9 192.2 259.8C192.4 257.7 191.2 254.5 190.6 251.4C190 248.3 188.2 243.7 188.6 241.2C189 238.6 191.3 236.3 193 236C194.7 235.7 197.8 237.5 199 239.2C200.2 240.8 199.8 243.4 200.4 246.1C200.9 248.8 200.9 253.4 202.2 255.4C203.4 257.4 205.9 258.3 207.7 258C209.6 257.7 212.7 256.2 213.3 253.6C214 251 212.2 246.6 211.6 242.5C210.9 238.4 209 232.1 209.4 229C209.8 225.9 212.3 224.3 214 224C215.7 223.7 218.7 225.2 219.9 227.4C221.1 229.5 220.9 233.6 221.4 237.1C222 240.6 222.1 246 223.2 248.4C224.4 250.7 226.5 251.2 228.2 251C229.8 250.8 232.5 249.2 233.2 247C233.8 244.8 232.3 241.1 231.9 237.8C231.4 234.4 229.8 229.6 230.3 226.9C230.9 224.3 233.3 222.2 235 222C236.7 221.8 239.6 223.4 240.8 225.5C242 227.6 241.7 231.3 242.1 234.7C242.6 238 242.6 243.2 243.6 245.4C244.7 247.7 246.7 248.2 248.3 248C249.8 247.8 252.3 246 252.9 244.3C253.5 242.6 252.4 240.1 252.1 237.9C251.8 235.7 250.6 232.8 251.3 230.9C251.9 228.9 254.2 226.2 256 226C257.8 225.8 260.7 228.3 261.8 229.6C262.8 230.8 261.7 230.3 262.2 233.3C262.8 236.3 263.3 244.6 265 247.5C266.7 250.4 271.4 250.4 272.7 251C273.6 249.7 276.9 247.9 278 243C279.1 238.1 278.1 226.2 279 221.8C279.9 217.5 281.7 217.3 283.4 217C285.1 216.7 288 219.1 289.1 220.2C290.1 221.4 289.4 222.1 289.6 223.8C289.9 225.5 289.7 228.9 290.7 230.3C291.6 231.8 293.7 232.7 295.2 232.5C296.7 232.3 299.3 231.4 299.8 229C300.3 226.6 298.8 221.9 298.2 218.1C297.7 214.2 296.1 208.6 296.5 205.8C297 202.9 299.3 201.2 301 201C302.7 200.8 305.4 202.1 306.6 204.3C307.8 206.6 307.5 210.8 308 214.5C308.6 218.2 308.6 224.4 309.8 226.7C310.9 229.1 313.3 228.8 315 228.6C316.7 228.4 319.5 227.4 320.2 225.3C320.9 223.3 319.5 219.4 319.1 216.3C318.7 213.2 317.4 209.1 317.9 206.7C318.5 204.3 320.8 202.2 322.5 202C324.2 201.8 327 203.5 328.1 205.4C329.2 207.3 328.7 210.6 329.1 213.5C329.4 216.4 329.7 220.9 330.2 223C330.8 225 331.6 225.8 332.3 225.7C333 225.6 334.2 224.6 334.3 222.5C334.5 220.5 333.7 216.5 333.4 213.3C333 210.2 331.8 206 332.4 203.6C333 201.2 335.3 199.2 337 199C338.7 198.8 341.4 200.6 342.5 202.5C343.6 204.5 343 207.7 343.3 210.6C343.7 213.5 343.7 218 344.3 220.1C345 222.1 346.4 222.8 347.4 222.7C348.4 222.6 350.1 221.4 350.5 219.5C350.8 217.6 350 214 349.7 211.2C349.5 208.3 348.3 204.7 349 202.5C349.6 200.3 352 198.1 353.7 198C355.4 197.9 358.1 199.7 359.1 201.6C360.2 203.6 359.6 206.8 359.8 209.7C360.1 212.6 360.1 217.1 360.7 219.1C361.2 221 362.4 221.8 363.3 221.7C364.2 221.6 365.6 219.8 366 218.6C366.4 217.3 365.7 215.6 365.6 214.2C365.5 212.9 364.5 211.9 365.3 210.5C366 209.1 368.3 206.1 370 206C371.7 205.9 374.5 208.4 375.4 209.6C376.4 210.9 375.4 210.8 375.8 213.5C376.1 216.2 376.1 223.2 377.5 226C378.9 228.8 382.9 229.8 384 230.5C384.7 229.1 387 225.7 388 222C389 218.3 389 211.4 390.2 208.4C391.3 205.4 393.1 204.1 394.8 204C396.5 203.9 399.2 206.6 400.1 207.5C401 208.5 400.2 208.4 400.3 209.4C400.4 210.4 400 212.5 400.7 213.6C401.3 214.7 403 216.1 404.2 216C405.4 215.9 407.3 215.3 407.8 213.1C408.2 210.9 407.3 206.3 407.1 202.8C406.8 199.3 405.6 194.5 406.3 191.9C406.9 189.4 409.3 187.7 411 187.6C412.7 187.5 415.3 189.4 416.3 191.2C417.2 193.1 416.6 196.1 416.8 198.8C417 201.5 416.6 205.8 417.4 207.6C418.2 209.5 420.3 210.1 421.7 210C423.1 209.9 425.3 208.9 426 207.1C426.6 205.4 425.7 202.1 425.6 199.6C425.5 197.1 424.5 194.2 425.2 192.3C425.9 190.3 428.3 188.1 430 188C431.7 187.9 434.3 190.1 435.2 191.7C436.1 193.4 435.4 195.7 435.5 198C435.7 200.3 435.1 203.9 435.9 205.6C436.7 207.3 438.9 208.1 440.3 208C441.8 207.9 444 206.7 444.7 205.2C445.4 203.6 444.5 200.7 444.3 198.5C444.2 196.4 443.3 194 444 192.3C444.8 190.5 447.1 188.1 448.8 188C450.5 187.9 453.1 190 454 191.7C454.9 193.5 454.2 195.9 454.3 198.3C454.5 200.7 453.9 204.5 454.8 206.2C455.6 208 457.8 208.7 459.3 208.6C460.8 208.5 463.2 207.4 463.9 205.8C464.6 204.3 463.7 201.3 463.7 199.2C463.6 197.1 462.7 194.9 463.4 193.2C464.2 191.5 466.6 189.1 468.3 189C470 188.9 472.6 191.5 473.4 192.8C474.3 194.1 473.5 195.2 473.6 196.7C473.6 198.3 473.4 200.9 473.8 202.2C474.1 203.5 475 204.7 475.6 204.7C476.2 204.7 477.1 203.3 477.4 202.1C477.7 200.9 477.3 198.8 477.3 197.5C477.2 196.2 476.4 195.4 477.1 194.2C477.9 192.9 480.3 190.1 482 190C483.7 189.9 486.3 192.4 487.1 193.8C488 195.3 487.2 196.9 487.3 198.8C487.4 200.6 487.4 203.5 487.5 205C487.7 206.5 488 207.6 488.2 207.6C488.5 207.6 488.8 206.2 488.9 205C489 203.7 488.9 201.4 488.8 199.9C488.8 198.5 488 197.4 488.8 196.1C489.6 194.8 492 192 493.7 192C495.4 192 497.9 194.6 498.8 195.9C499.6 197.2 498.8 196.8 498.8 200C498.9 203.2 498.5 211.3 499 215C499.5 218.7 501 220 502 222C503 224 503.9 225.9 504.8 227C505.7 228.1 506.7 228.9 507.6 228.8C508.5 228.7 509.4 227.8 510 226.5C510.6 225.2 510.8 223.7 511.5 221C512.2 218.3 513.2 213.2 514.5 210.5C515.8 207.8 518.3 209.8 519.5 205C520.7 200.2 520.5 186.2 521.8 181.6C523 177 525.2 177.3 527 177.3C528.8 177.3 531.5 179.5 532.4 181.4C533.3 183.3 532.5 186.1 532.5 188.7C532.5 191.3 531.9 195 532.6 196.9C533.4 198.7 535.5 199.8 536.9 199.8C538.3 199.8 540.4 198.9 541.1 196.8C541.8 194.7 541.1 190.2 541.1 187C541.1 183.9 540.2 179.9 541.1 177.6C542 175.4 544.6 173.4 546.4 173.4C548.2 173.4 550.8 175.4 551.7 177.6C552.6 179.9 551.7 183.9 551.7 187C551.7 190.2 551 194.7 551.7 196.8C552.4 198.9 554.4 199.8 555.7 199.8C557 199.8 559 198.8 559.7 196.8C560.4 194.8 559.7 190.8 559.7 187.9C559.7 185.1 558.8 181.7 559.7 179.6C560.6 177.5 563.2 175.4 565 175.4C566.8 175.4 569.4 177.7 570.3 179.6C571.2 181.6 570.3 184.4 570.3 186.9C570.3 189.4 569.8 193.1 570.3 194.9C570.8 196.7 572.2 197.9 573.1 197.9C574.1 197.9 575.5 196.7 576 195C576.5 193.2 576.1 189.9 576.1 187.7C576.2 185.4 575.3 183.2 576.2 181.4C577.1 179.7 579.8 177.3 581.6 177.3C583.4 177.3 586 179.8 586.8 181.6C587.7 183.5 586.7 186 586.7 188.3C586.7 190.7 585.9 194 586.6 195.8C587.2 197.5 589.2 198.8 590.5 198.8C591.8 198.8 593.7 197.6 594.4 195.9C595.1 194.2 594.5 190.8 594.5 188.6C594.6 186.4 593.7 184.2 594.6 182.4C595.5 180.7 598.2 178.3 600 178.3C601.8 178.3 604.4 180.8 605.2 182.6C606.1 184.5 605.1 187 605.1 189.3C605.1 191.7 604.5 195 605 196.7C605.5 198.5 607 199.8 608 199.8C609 199.8 610.5 198.3 611 196.9C611.6 195.5 611.2 193.1 611.2 191.6C611.3 190.1 610.4 189.3 611.4 188.1C612.3 186.8 615 183.9 616.8 184C618.6 184.1 621.1 187.1 621.9 188.4C622.8 189.8 621.7 189.3 621.8 192.1C621.9 195 621.3 203 622.5 205.5C623.7 208 627.5 205.9 629 207C630.5 208.1 630.9 209.5 631.5 212C632.1 214.5 632 218.7 632.5 222C633 225.3 634.3 227.8 634.8 232C635.3 236.2 635.1 242 635.3 247C635.5 252 635.9 256.8 635.8 262C635.7 267.2 634.9 273 634.5 278C634.1 283 633.9 287.7 633.5 292C633.1 296.3 633.1 299.7 632 304C630.9 308.3 628.3 313.3 627 318C625.7 322.7 624.4 327.3 624 332C623.6 336.7 624.1 341.7 624.5 346C624.9 350.3 626.2 354.3 626.5 358C626.8 361.7 626.8 365.2 626 368C625.2 370.8 623.8 373.2 622 375C620.2 376.8 616.2 377.9 615 378.5C612.5 378.8 605.8 380 600 380.5C594.2 381 587.5 381.3 580 381.5C572.5 381.7 562.5 381.7 555 381.5C547.5 381.3 539.8 381 535 380.5C530.2 380 528.3 379.8 526 378.5C523.7 377.2 522.4 375.3 521 373C519.6 370.7 518.1 365.9 517.5 364.5C517 365.9 515.8 370.6 514.5 373C513.2 375.4 512.4 377.4 510 379C507.6 380.6 505 381.4 500 382.5C495 383.6 486.7 384.5 480 385.5C473.3 386.5 466.7 387.5 460 388.5C453.3 389.5 446.7 390.6 440 391.5C433.3 392.4 425 393.6 420 394C415 394.4 412.7 394.4 410 394C407.3 393.6 405.5 393 404 391.5C402.5 390 401.5 386.1 401 385C400.8 386.1 400.5 389.8 399.5 391.5C398.5 393.2 398.2 394 395 395C391.8 396 385 396.7 380 397.5C375 398.3 371.7 398.8 365 400C358.3 401.2 347.5 403.1 340 404.5C332.5 405.9 325 407.6 320 408.5C315 409.4 312.5 410 310 410C307.5 410 306.2 409.7 305 408.5C303.8 407.3 302.9 403.9 302.5 403C302.2 404 302.1 407.6 301 409C299.9 410.4 298.7 410.3 296 411.5C293.3 412.7 289.3 414.2 285 416C280.7 417.8 275.8 419.7 270 422C264.2 424.3 256.7 427.6 250 430C243.3 432.4 235.8 434.9 230 436.5C224.2 438.1 218.8 439.1 215 439.5C211.2 439.9 209.4 439.8 207.5 439C205.6 438.2 204.2 435.7 203.5 435C203.4 436 203.9 439.2 203 441C202.1 442.8 201 443.8 198 445.5C195 447.2 189.7 449.1 185 451C180.3 452.9 175.8 454.7 170 457C164.2 459.3 156.3 462.4 150 465C143.7 467.6 138.3 470 132 472.5C125.7 475 115.3 478.8 112 480L112 283Z" fill="none" stroke="url(#gstroke)" stroke-width="2.1" stroke-linejoin="round"/>
<path d="M659 211C660.2 208.9 662.2 208.8 663.5 207.5C664.8 206.2 665.7 206.2 666.5 203C667.3 199.8 667 191.4 668.1 188.4C669.1 185.4 671.2 184.9 672.7 185C674.2 185.1 676.4 187 677.1 188.8C677.8 190.5 676.9 193.3 676.8 195.7C676.7 198 675.9 201.3 676.6 203C677.3 204.6 679.5 205.6 680.9 205.7C682.4 205.8 684.5 205.4 685.3 203.4C686.1 201.5 685.7 196.9 686 193.8C686.2 190.8 685.7 187.3 686.6 185.3C687.4 183.3 689.8 181.9 691.3 182C692.8 182.1 694.9 183.7 695.5 185.9C696.1 188.1 695.1 192 694.9 195C694.7 197.9 694 201.8 694.3 203.7C694.6 205.7 696 206.5 696.9 206.6C697.7 206.7 698.8 206.2 699.5 204.2C700.1 202.1 700.4 197.4 700.9 194.4C701.3 191.3 701 187.8 702 185.9C703.1 184 705.5 182.8 707 183C708.5 183.2 710.5 184.9 711 187.2C711.4 189.5 710 193.8 709.6 196.7C709.2 199.7 707.7 202.8 708.5 204.8C709.2 206.8 712.3 208.3 714.2 208.6C716.1 208.9 718.6 208.5 719.8 206.6C721.1 204.7 721.3 200 721.8 197.3C722.4 194.6 722.2 192.1 723.2 190.6C724.3 189 726.9 187.7 728.4 188C729.9 188.3 731.7 190.4 732.1 192.5C732.4 194.5 730.9 197.9 730.4 200.2C729.9 202.6 728.8 204.9 729.1 206.6C729.3 208.3 731 210.3 731.9 210.5C732.9 210.7 733.9 209.5 734.8 207.7C735.7 205.9 736.5 202 737.1 199.7C737.8 197.5 737.5 195.5 738.7 194.2C739.8 192.9 742.6 191.6 744 192C745.4 192.4 747.1 194.7 747.3 196.7C747.6 198.7 745.9 201.8 745.3 203.8C744.7 205.8 743.6 207.1 743.9 208.8C744.2 210.4 746 213.2 747 213.5C748.1 213.8 749.3 212.1 750.2 210.4C751.2 208.8 752.1 205.4 752.7 203.6C753.4 201.8 753 200.6 754.1 199.6C755.3 198.7 758.2 197.3 759.6 197.8C761 198.3 762.3 201.2 762.6 202.7C762.8 204.2 761.3 204.4 761.1 206.8C760.9 209.2 760.9 214.1 761.5 217C762.1 219.9 763.7 221.3 764.5 224C765.3 226.7 766.2 229.8 766.5 233C766.8 236.2 766.7 239.7 766.5 243C766.3 246.3 766 249.2 765.5 253C765 256.8 764.3 261.7 763.5 266C762.7 270.3 761.5 274.3 760.5 279C759.5 283.7 758.5 288.8 757.5 294C756.5 299.2 755.3 304.7 754.5 310C753.7 315.3 753.2 320.7 752.5 326C751.8 331.3 751 337 750.5 342C750 347 749.9 351 749.5 356C749.1 361 748.3 367.3 748 372C747.7 376.7 748.1 380.8 747.5 384C746.9 387.2 746.2 389.7 744.5 391.5C742.8 393.3 741.1 394.5 737 395C732.9 395.5 726.2 394.9 720 394.5C713.8 394.1 706.7 393.2 700 392.5C693.3 391.8 686.3 391 680 390C673.7 389 666.7 387.7 662 386.5C657.3 385.3 654.5 384.6 652 383C649.5 381.4 648 379.8 647 377C646 374.2 646.1 370.2 646 366C645.9 361.8 646.5 356.7 646.5 352C646.5 347.3 646.4 343 646 338C645.6 333 644 327 644 322C644 317 645.4 312.2 646 308C646.6 303.8 646.9 300.7 647.5 297C648.1 293.3 648.8 290.2 649.5 286C650.2 281.8 651.1 276.5 651.5 272C651.9 267.5 651.6 263.3 652 259C652.4 254.7 653.5 250.5 654 246C654.5 241.5 654.7 236.3 655 232C655.3 227.7 655.3 223.5 656 220C656.7 216.5 657.8 213.1 659 211Z" fill="url(#gcell)"/>
<g clip-path="url(#rclip0)"><path d="M630 386C641.7 387.8 680.5 394.2 700 397C719.5 399.8 735.3 401.3 747 403C758.7 404.7 757.8 403.2 770 407C782.2 410.8 804.5 422.3 820 426C835.5 429.7 850.8 426.7 863 429C875.2 431.3 880.2 435.8 893 440C905.8 444.2 922.2 447.7 940 454C957.8 460.3 990 474 1000 478" fill="none" stroke="#fcc4a2" stroke-width="46" filter="url(#blur12)" opacity="0.7"/><path d="M659 211C660.2 208.9 662.2 208.8 663.5 207.5C664.8 206.2 665.7 206.2 666.5 203C667.3 199.8 667 191.4 668.1 188.4C669.1 185.4 671.2 184.9 672.7 185C674.2 185.1 676.4 187 677.1 188.8C677.8 190.5 676.9 193.3 676.8 195.7C676.7 198 675.9 201.3 676.6 203C677.3 204.6 679.5 205.6 680.9 205.7C682.4 205.8 684.5 205.4 685.3 203.4C686.1 201.5 685.7 196.9 686 193.8C686.2 190.8 685.7 187.3 686.6 185.3C687.4 183.3 689.8 181.9 691.3 182C692.8 182.1 694.9 183.7 695.5 185.9C696.1 188.1 695.1 192 694.9 195C694.7 197.9 694 201.8 694.3 203.7C694.6 205.7 696 206.5 696.9 206.6C697.7 206.7 698.8 206.2 699.5 204.2C700.1 202.1 700.4 197.4 700.9 194.4C701.3 191.3 701 187.8 702 185.9C703.1 184 705.5 182.8 707 183C708.5 183.2 710.5 184.9 711 187.2C711.4 189.5 710 193.8 709.6 196.7C709.2 199.7 707.7 202.8 708.5 204.8C709.2 206.8 712.3 208.3 714.2 208.6C716.1 208.9 718.6 208.5 719.8 206.6C721.1 204.7 721.3 200 721.8 197.3C722.4 194.6 722.2 192.1 723.2 190.6C724.3 189 726.9 187.7 728.4 188C729.9 188.3 731.7 190.4 732.1 192.5C732.4 194.5 730.9 197.9 730.4 200.2C729.9 202.6 728.8 204.9 729.1 206.6C729.3 208.3 731 210.3 731.9 210.5C732.9 210.7 733.9 209.5 734.8 207.7C735.7 205.9 736.5 202 737.1 199.7C737.8 197.5 737.5 195.5 738.7 194.2C739.8 192.9 742.6 191.6 744 192C745.4 192.4 747.1 194.7 747.3 196.7C747.6 198.7 745.9 201.8 745.3 203.8C744.7 205.8 743.6 207.1 743.9 208.8C744.2 210.4 746 213.2 747 213.5C748.1 213.8 749.3 212.1 750.2 210.4C751.2 208.8 752.1 205.4 752.7 203.6C753.4 201.8 753 200.6 754.1 199.6C755.3 198.7 758.2 197.3 759.6 197.8C761 198.3 762.3 201.2 762.6 202.7C762.8 204.2 761.3 204.4 761.1 206.8C760.9 209.2 760.9 214.1 761.5 217C762.1 219.9 763.7 221.3 764.5 224C765.3 226.7 766.2 229.8 766.5 233C766.8 236.2 766.7 239.7 766.5 243C766.3 246.3 766 249.2 765.5 253C765 256.8 764.3 261.7 763.5 266C762.7 270.3 761.5 274.3 760.5 279C759.5 283.7 758.5 288.8 757.5 294C756.5 299.2 755.3 304.7 754.5 310C753.7 315.3 753.2 320.7 752.5 326C751.8 331.3 751 337 750.5 342C750 347 749.9 351 749.5 356C749.1 361 748.3 367.3 748 372C747.7 376.7 748.1 380.8 747.5 384C746.9 387.2 746.2 389.7 744.5 391.5C742.8 393.3 741.1 394.5 737 395C732.9 395.5 726.2 394.9 720 394.5C713.8 394.1 706.7 393.2 700 392.5C693.3 391.8 686.3 391 680 390C673.7 389 666.7 387.7 662 386.5C657.3 385.3 654.5 384.6 652 383C649.5 381.4 648 379.8 647 377C646 374.2 646.1 370.2 646 366C645.9 361.8 646.5 356.7 646.5 352C646.5 347.3 646.4 343 646 338C645.6 333 644 327 644 322C644 317 645.4 312.2 646 308C646.6 303.8 646.9 300.7 647.5 297C648.1 293.3 648.8 290.2 649.5 286C650.2 281.8 651.1 276.5 651.5 272C651.9 267.5 651.6 263.3 652 259C652.4 254.7 653.5 250.5 654 246C654.5 241.5 654.7 236.3 655 232C655.3 227.7 655.3 223.5 656 220C656.7 216.5 657.8 213.1 659 211Z" fill="none" stroke="#e2583a" stroke-width="9" filter="url(#blur3)" opacity="0.32"/></g>
<path d="M659 211C660.2 208.9 662.2 208.8 663.5 207.5C664.8 206.2 665.7 206.2 666.5 203C667.3 199.8 667 191.4 668.1 188.4C669.1 185.4 671.2 184.9 672.7 185C674.2 185.1 676.4 187 677.1 188.8C677.8 190.5 676.9 193.3 676.8 195.7C676.7 198 675.9 201.3 676.6 203C677.3 204.6 679.5 205.6 680.9 205.7C682.4 205.8 684.5 205.4 685.3 203.4C686.1 201.5 685.7 196.9 686 193.8C686.2 190.8 685.7 187.3 686.6 185.3C687.4 183.3 689.8 181.9 691.3 182C692.8 182.1 694.9 183.7 695.5 185.9C696.1 188.1 695.1 192 694.9 195C694.7 197.9 694 201.8 694.3 203.7C694.6 205.7 696 206.5 696.9 206.6C697.7 206.7 698.8 206.2 699.5 204.2C700.1 202.1 700.4 197.4 700.9 194.4C701.3 191.3 701 187.8 702 185.9C703.1 184 705.5 182.8 707 183C708.5 183.2 710.5 184.9 711 187.2C711.4 189.5 710 193.8 709.6 196.7C709.2 199.7 707.7 202.8 708.5 204.8C709.2 206.8 712.3 208.3 714.2 208.6C716.1 208.9 718.6 208.5 719.8 206.6C721.1 204.7 721.3 200 721.8 197.3C722.4 194.6 722.2 192.1 723.2 190.6C724.3 189 726.9 187.7 728.4 188C729.9 188.3 731.7 190.4 732.1 192.5C732.4 194.5 730.9 197.9 730.4 200.2C729.9 202.6 728.8 204.9 729.1 206.6C729.3 208.3 731 210.3 731.9 210.5C732.9 210.7 733.9 209.5 734.8 207.7C735.7 205.9 736.5 202 737.1 199.7C737.8 197.5 737.5 195.5 738.7 194.2C739.8 192.9 742.6 191.6 744 192C745.4 192.4 747.1 194.7 747.3 196.7C747.6 198.7 745.9 201.8 745.3 203.8C744.7 205.8 743.6 207.1 743.9 208.8C744.2 210.4 746 213.2 747 213.5C748.1 213.8 749.3 212.1 750.2 210.4C751.2 208.8 752.1 205.4 752.7 203.6C753.4 201.8 753 200.6 754.1 199.6C755.3 198.7 758.2 197.3 759.6 197.8C761 198.3 762.3 201.2 762.6 202.7C762.8 204.2 761.3 204.4 761.1 206.8C760.9 209.2 760.9 214.1 761.5 217C762.1 219.9 763.7 221.3 764.5 224C765.3 226.7 766.2 229.8 766.5 233C766.8 236.2 766.7 239.7 766.5 243C766.3 246.3 766 249.2 765.5 253C765 256.8 764.3 261.7 763.5 266C762.7 270.3 761.5 274.3 760.5 279C759.5 283.7 758.5 288.8 757.5 294C756.5 299.2 755.3 304.7 754.5 310C753.7 315.3 753.2 320.7 752.5 326C751.8 331.3 751 337 750.5 342C750 347 749.9 351 749.5 356C749.1 361 748.3 367.3 748 372C747.7 376.7 748.1 380.8 747.5 384C746.9 387.2 746.2 389.7 744.5 391.5C742.8 393.3 741.1 394.5 737 395C732.9 395.5 726.2 394.9 720 394.5C713.8 394.1 706.7 393.2 700 392.5C693.3 391.8 686.3 391 680 390C673.7 389 666.7 387.7 662 386.5C657.3 385.3 654.5 384.6 652 383C649.5 381.4 648 379.8 647 377C646 374.2 646.1 370.2 646 366C645.9 361.8 646.5 356.7 646.5 352C646.5 347.3 646.4 343 646 338C645.6 333 644 327 644 322C644 317 645.4 312.2 646 308C646.6 303.8 646.9 300.7 647.5 297C648.1 293.3 648.8 290.2 649.5 286C650.2 281.8 651.1 276.5 651.5 272C651.9 267.5 651.6 263.3 652 259C652.4 254.7 653.5 250.5 654 246C654.5 241.5 654.7 236.3 655 232C655.3 227.7 655.3 223.5 656 220C656.7 216.5 657.8 213.1 659 211Z" fill="none" stroke="#a34a2c" stroke-width="2.3" stroke-linejoin="round"/>
<path d="M801.5 236.6C803.8 234.3 807 232.8 809 231C811 229.2 812.5 228.6 813.5 226C814.5 223.4 814.2 217.5 815.3 215.2C816.3 212.9 818.5 212 820 212.2C821.5 212.4 823.4 214.5 824 216.2C824.6 217.8 823.6 220 823.4 222C823.2 223.9 822.3 226.3 822.8 227.8C823.2 229.2 825 230.7 826.1 230.8C827.2 230.9 828.7 230.4 829.5 228.5C830.2 226.7 830.3 222.3 830.7 219.5C831.1 216.8 830.8 213.9 831.8 212.2C832.7 210.5 835.1 209.1 836.6 209.3C838.1 209.5 840 211.1 840.5 213.4C840.9 215.7 839.5 220 839.1 222.9C838.7 225.8 837.3 228.9 838 230.9C838.7 232.9 841.6 234.4 843.4 234.7C845.2 235 847.6 234.5 848.9 232.6C850.2 230.7 850.5 225.9 851.2 223.2C851.9 220.5 851.7 218.1 852.9 216.6C854 215 856.6 213.8 858 214.2C859.4 214.6 861.2 216.5 861.4 218.7C861.6 220.9 859.9 224.9 859.2 227.4C858.6 230 857.2 232.2 857.6 234.1C858 235.9 860.4 238.2 861.8 238.6C863.2 239 864.7 237.9 866 236.2C867.3 234.5 868.7 230.2 869.5 228.2C870.4 226.3 870.1 225.3 871.2 224.4C872.4 223.6 875.4 222.4 876.7 223C878 223.6 879.5 225.8 879.3 228C879.1 230.2 876.6 234.1 875.6 236.2C874.7 238.4 873.3 239.1 873.5 241C873.7 242.8 875.8 247 876.9 247.4C878.1 247.8 879 245.4 880.3 243.5C881.6 241.7 883.7 238.2 884.8 236.5C885.8 234.8 885.4 234 886.7 233.4C888 232.7 891.1 231.9 892.3 232.7C893.5 233.5 894.6 236 894.2 238C893.8 240 891 243.1 889.9 244.8C888.9 246.5 887.8 246.4 887.9 248.1C887.9 249.8 889.6 254.8 890.4 255.2C891.3 255.6 891.9 252.4 893 250.7C894.2 249.1 896.5 246.6 897.4 245.5C898.3 244.4 897.3 244.5 898.4 244.4C899.5 244.2 902.9 243.6 904 244.5C905.1 245.4 905.4 248.5 905.1 250C904.8 251.5 902.8 251.9 902.3 253.4C901.8 254.9 902.4 256.6 902 259C901.6 261.4 900.7 264.5 900 268C899.3 271.5 898.8 275.5 898 280C897.2 284.5 896.3 290.3 895.5 295C894.7 299.7 894.2 303.5 893 308C891.8 312.5 890 317.3 888.5 322C887 326.7 885.6 331.3 884 336C882.4 340.7 881 345.3 879 350C877 354.7 873.8 359.8 872 364C870.2 368.2 868.6 371.3 868 375C867.4 378.7 868.1 382.2 868.5 386C868.9 389.8 870.5 394.2 870.5 398C870.5 401.8 869.9 405.9 868.5 409C867.1 412.1 865.1 414.6 862 416.5C858.9 418.4 854.3 419.6 850 420.5C845.7 421.4 841 422.3 836 422C831 421.7 826 420.1 820 418.5C814 416.9 806 414.5 800 412.5C794 410.5 788.3 408.2 784 406.5C779.7 404.8 776.3 403.8 774 402C771.7 400.2 770.7 398.3 770 396C769.3 393.7 769.5 391.7 770 388C770.5 384.3 771.8 379 773 374C774.2 369 775.8 363.3 777 358C778.2 352.7 779 347 780 342C781 337 782.2 332.3 783 328C783.8 323.7 783.5 320 784.5 316C785.5 312 788 307.2 789 304C790 300.8 790.5 300.7 790.5 297C790.5 293.3 788.7 286.8 788.8 282C788.9 277.2 790.5 272 791 268C791.5 264 791 261.8 791.7 258C792.5 254.2 793.9 248.6 795.5 245C797.1 241.4 799.2 238.9 801.5 236.6Z" fill="url(#gcell)"/>
<g clip-path="url(#rclip1)"><path d="M630 386C641.7 387.8 680.5 394.2 700 397C719.5 399.8 735.3 401.3 747 403C758.7 404.7 757.8 403.2 770 407C782.2 410.8 804.5 422.3 820 426C835.5 429.7 850.8 426.7 863 429C875.2 431.3 880.2 435.8 893 440C905.8 444.2 922.2 447.7 940 454C957.8 460.3 990 474 1000 478" fill="none" stroke="#fcc4a2" stroke-width="46" filter="url(#blur12)" opacity="0.7"/><path d="M801.5 236.6C803.8 234.3 807 232.8 809 231C811 229.2 812.5 228.6 813.5 226C814.5 223.4 814.2 217.5 815.3 215.2C816.3 212.9 818.5 212 820 212.2C821.5 212.4 823.4 214.5 824 216.2C824.6 217.8 823.6 220 823.4 222C823.2 223.9 822.3 226.3 822.8 227.8C823.2 229.2 825 230.7 826.1 230.8C827.2 230.9 828.7 230.4 829.5 228.5C830.2 226.7 830.3 222.3 830.7 219.5C831.1 216.8 830.8 213.9 831.8 212.2C832.7 210.5 835.1 209.1 836.6 209.3C838.1 209.5 840 211.1 840.5 213.4C840.9 215.7 839.5 220 839.1 222.9C838.7 225.8 837.3 228.9 838 230.9C838.7 232.9 841.6 234.4 843.4 234.7C845.2 235 847.6 234.5 848.9 232.6C850.2 230.7 850.5 225.9 851.2 223.2C851.9 220.5 851.7 218.1 852.9 216.6C854 215 856.6 213.8 858 214.2C859.4 214.6 861.2 216.5 861.4 218.7C861.6 220.9 859.9 224.9 859.2 227.4C858.6 230 857.2 232.2 857.6 234.1C858 235.9 860.4 238.2 861.8 238.6C863.2 239 864.7 237.9 866 236.2C867.3 234.5 868.7 230.2 869.5 228.2C870.4 226.3 870.1 225.3 871.2 224.4C872.4 223.6 875.4 222.4 876.7 223C878 223.6 879.5 225.8 879.3 228C879.1 230.2 876.6 234.1 875.6 236.2C874.7 238.4 873.3 239.1 873.5 241C873.7 242.8 875.8 247 876.9 247.4C878.1 247.8 879 245.4 880.3 243.5C881.6 241.7 883.7 238.2 884.8 236.5C885.8 234.8 885.4 234 886.7 233.4C888 232.7 891.1 231.9 892.3 232.7C893.5 233.5 894.6 236 894.2 238C893.8 240 891 243.1 889.9 244.8C888.9 246.5 887.8 246.4 887.9 248.1C887.9 249.8 889.6 254.8 890.4 255.2C891.3 255.6 891.9 252.4 893 250.7C894.2 249.1 896.5 246.6 897.4 245.5C898.3 244.4 897.3 244.5 898.4 244.4C899.5 244.2 902.9 243.6 904 244.5C905.1 245.4 905.4 248.5 905.1 250C904.8 251.5 902.8 251.9 902.3 253.4C901.8 254.9 902.4 256.6 902 259C901.6 261.4 900.7 264.5 900 268C899.3 271.5 898.8 275.5 898 280C897.2 284.5 896.3 290.3 895.5 295C894.7 299.7 894.2 303.5 893 308C891.8 312.5 890 317.3 888.5 322C887 326.7 885.6 331.3 884 336C882.4 340.7 881 345.3 879 350C877 354.7 873.8 359.8 872 364C870.2 368.2 868.6 371.3 868 375C867.4 378.7 868.1 382.2 868.5 386C868.9 389.8 870.5 394.2 870.5 398C870.5 401.8 869.9 405.9 868.5 409C867.1 412.1 865.1 414.6 862 416.5C858.9 418.4 854.3 419.6 850 420.5C845.7 421.4 841 422.3 836 422C831 421.7 826 420.1 820 418.5C814 416.9 806 414.5 800 412.5C794 410.5 788.3 408.2 784 406.5C779.7 404.8 776.3 403.8 774 402C771.7 400.2 770.7 398.3 770 396C769.3 393.7 769.5 391.7 770 388C770.5 384.3 771.8 379 773 374C774.2 369 775.8 363.3 777 358C778.2 352.7 779 347 780 342C781 337 782.2 332.3 783 328C783.8 323.7 783.5 320 784.5 316C785.5 312 788 307.2 789 304C790 300.8 790.5 300.7 790.5 297C790.5 293.3 788.7 286.8 788.8 282C788.9 277.2 790.5 272 791 268C791.5 264 791 261.8 791.7 258C792.5 254.2 793.9 248.6 795.5 245C797.1 241.4 799.2 238.9 801.5 236.6Z" fill="none" stroke="#e2583a" stroke-width="9" filter="url(#blur3)" opacity="0.32"/></g>
<path d="M801.5 236.6C803.8 234.3 807 232.8 809 231C811 229.2 812.5 228.6 813.5 226C814.5 223.4 814.2 217.5 815.3 215.2C816.3 212.9 818.5 212 820 212.2C821.5 212.4 823.4 214.5 824 216.2C824.6 217.8 823.6 220 823.4 222C823.2 223.9 822.3 226.3 822.8 227.8C823.2 229.2 825 230.7 826.1 230.8C827.2 230.9 828.7 230.4 829.5 228.5C830.2 226.7 830.3 222.3 830.7 219.5C831.1 216.8 830.8 213.9 831.8 212.2C832.7 210.5 835.1 209.1 836.6 209.3C838.1 209.5 840 211.1 840.5 213.4C840.9 215.7 839.5 220 839.1 222.9C838.7 225.8 837.3 228.9 838 230.9C838.7 232.9 841.6 234.4 843.4 234.7C845.2 235 847.6 234.5 848.9 232.6C850.2 230.7 850.5 225.9 851.2 223.2C851.9 220.5 851.7 218.1 852.9 216.6C854 215 856.6 213.8 858 214.2C859.4 214.6 861.2 216.5 861.4 218.7C861.6 220.9 859.9 224.9 859.2 227.4C858.6 230 857.2 232.2 857.6 234.1C858 235.9 860.4 238.2 861.8 238.6C863.2 239 864.7 237.9 866 236.2C867.3 234.5 868.7 230.2 869.5 228.2C870.4 226.3 870.1 225.3 871.2 224.4C872.4 223.6 875.4 222.4 876.7 223C878 223.6 879.5 225.8 879.3 228C879.1 230.2 876.6 234.1 875.6 236.2C874.7 238.4 873.3 239.1 873.5 241C873.7 242.8 875.8 247 876.9 247.4C878.1 247.8 879 245.4 880.3 243.5C881.6 241.7 883.7 238.2 884.8 236.5C885.8 234.8 885.4 234 886.7 233.4C888 232.7 891.1 231.9 892.3 232.7C893.5 233.5 894.6 236 894.2 238C893.8 240 891 243.1 889.9 244.8C888.9 246.5 887.8 246.4 887.9 248.1C887.9 249.8 889.6 254.8 890.4 255.2C891.3 255.6 891.9 252.4 893 250.7C894.2 249.1 896.5 246.6 897.4 245.5C898.3 244.4 897.3 244.5 898.4 244.4C899.5 244.2 902.9 243.6 904 244.5C905.1 245.4 905.4 248.5 905.1 250C904.8 251.5 902.8 251.9 902.3 253.4C901.8 254.9 902.4 256.6 902 259C901.6 261.4 900.7 264.5 900 268C899.3 271.5 898.8 275.5 898 280C897.2 284.5 896.3 290.3 895.5 295C894.7 299.7 894.2 303.5 893 308C891.8 312.5 890 317.3 888.5 322C887 326.7 885.6 331.3 884 336C882.4 340.7 881 345.3 879 350C877 354.7 873.8 359.8 872 364C870.2 368.2 868.6 371.3 868 375C867.4 378.7 868.1 382.2 868.5 386C868.9 389.8 870.5 394.2 870.5 398C870.5 401.8 869.9 405.9 868.5 409C867.1 412.1 865.1 414.6 862 416.5C858.9 418.4 854.3 419.6 850 420.5C845.7 421.4 841 422.3 836 422C831 421.7 826 420.1 820 418.5C814 416.9 806 414.5 800 412.5C794 410.5 788.3 408.2 784 406.5C779.7 404.8 776.3 403.8 774 402C771.7 400.2 770.7 398.3 770 396C769.3 393.7 769.5 391.7 770 388C770.5 384.3 771.8 379 773 374C774.2 369 775.8 363.3 777 358C778.2 352.7 779 347 780 342C781 337 782.2 332.3 783 328C783.8 323.7 783.5 320 784.5 316C785.5 312 788 307.2 789 304C790 300.8 790.5 300.7 790.5 297C790.5 293.3 788.7 286.8 788.8 282C788.9 277.2 790.5 272 791 268C791.5 264 791 261.8 791.7 258C792.5 254.2 793.9 248.6 795.5 245C797.1 241.4 799.2 238.9 801.5 236.6Z" fill="none" stroke="#a34a2c" stroke-width="2.3" stroke-linejoin="round"/>
<path d="M925.5 270C927.2 267.1 930.9 266 933 264C935.1 262 936.4 261.2 938 258C939.6 254.8 940.8 247.5 942.5 244.8C944.2 242 946.3 241.3 948 241.5C949.7 241.7 951.8 244.3 952.4 246.2C953 248 951.8 250.5 951.5 252.6C951.2 254.8 950.4 257.4 950.6 258.9C950.8 260.5 952 261.9 952.6 262C953.3 262.1 954.1 260.9 954.7 259.5C955.3 258.2 955.8 255.2 956.1 253.7C956.5 252.3 955.7 252 956.8 251.1C957.9 250.2 961 248 962.6 248.4C964.2 248.8 966.1 251.7 966.5 253.5C966.9 255.3 965.5 257.6 965 259.4C964.6 261.1 963.6 262.6 963.9 264C964.1 265.5 965.5 267.8 966.3 268C967.1 268.2 968 266.4 968.7 265.1C969.4 263.8 970.1 261.3 970.5 260.3C970.9 259.3 969.8 259.6 970.9 259C972 258.5 975.4 256.4 977 257C978.6 257.6 980 260.9 980.3 262.5C980.7 264 978.3 264.2 978.9 266.3C979.5 268.4 980.5 271.9 984 275C987.5 278.1 997.3 252.5 1000 285C1002.7 317.5 1002.5 440.8 1000 470C997.5 499.2 991.2 462.9 985 460C978.8 457.1 970.5 454.8 963 452.5C955.5 450.2 947.2 448 940 446C932.8 444 926.2 442.2 920 440.5C913.8 438.8 907.2 437.5 903 436C898.8 434.5 896.2 433.5 894.5 431.5C892.8 429.5 892.8 427.6 892.5 424C892.2 420.4 892.2 414.3 893 410C893.8 405.7 895.3 402.2 897 398C898.7 393.8 901.6 389.3 903 385C904.4 380.7 905.1 375.3 905.5 372C905.9 368.7 904.9 368.3 905.5 365C906.1 361.7 907.9 356.5 909 352C910.1 347.5 910.9 342.8 912 338C913.1 333.2 914.7 327.2 915.5 323C916.3 318.8 915.2 317.1 916.7 312.8C918.2 308.5 923.5 302.2 924.5 297C925.5 291.8 922.4 286 922.6 281.5C922.8 277 923.8 272.9 925.5 270Z" fill="url(#gcell)"/>
<g clip-path="url(#rclip2)"><path d="M630 386C641.7 387.8 680.5 394.2 700 397C719.5 399.8 735.3 401.3 747 403C758.7 404.7 757.8 403.2 770 407C782.2 410.8 804.5 422.3 820 426C835.5 429.7 850.8 426.7 863 429C875.2 431.3 880.2 435.8 893 440C905.8 444.2 922.2 447.7 940 454C957.8 460.3 990 474 1000 478" fill="none" stroke="#fcc4a2" stroke-width="46" filter="url(#blur12)" opacity="0.7"/><path d="M925.5 270C927.2 267.1 930.9 266 933 264C935.1 262 936.4 261.2 938 258C939.6 254.8 940.8 247.5 942.5 244.8C944.2 242 946.3 241.3 948 241.5C949.7 241.7 951.8 244.3 952.4 246.2C953 248 951.8 250.5 951.5 252.6C951.2 254.8 950.4 257.4 950.6 258.9C950.8 260.5 952 261.9 952.6 262C953.3 262.1 954.1 260.9 954.7 259.5C955.3 258.2 955.8 255.2 956.1 253.7C956.5 252.3 955.7 252 956.8 251.1C957.9 250.2 961 248 962.6 248.4C964.2 248.8 966.1 251.7 966.5 253.5C966.9 255.3 965.5 257.6 965 259.4C964.6 261.1 963.6 262.6 963.9 264C964.1 265.5 965.5 267.8 966.3 268C967.1 268.2 968 266.4 968.7 265.1C969.4 263.8 970.1 261.3 970.5 260.3C970.9 259.3 969.8 259.6 970.9 259C972 258.5 975.4 256.4 977 257C978.6 257.6 980 260.9 980.3 262.5C980.7 264 978.3 264.2 978.9 266.3C979.5 268.4 980.5 271.9 984 275C987.5 278.1 997.3 252.5 1000 285C1002.7 317.5 1002.5 440.8 1000 470C997.5 499.2 991.2 462.9 985 460C978.8 457.1 970.5 454.8 963 452.5C955.5 450.2 947.2 448 940 446C932.8 444 926.2 442.2 920 440.5C913.8 438.8 907.2 437.5 903 436C898.8 434.5 896.2 433.5 894.5 431.5C892.8 429.5 892.8 427.6 892.5 424C892.2 420.4 892.2 414.3 893 410C893.8 405.7 895.3 402.2 897 398C898.7 393.8 901.6 389.3 903 385C904.4 380.7 905.1 375.3 905.5 372C905.9 368.7 904.9 368.3 905.5 365C906.1 361.7 907.9 356.5 909 352C910.1 347.5 910.9 342.8 912 338C913.1 333.2 914.7 327.2 915.5 323C916.3 318.8 915.2 317.1 916.7 312.8C918.2 308.5 923.5 302.2 924.5 297C925.5 291.8 922.4 286 922.6 281.5C922.8 277 923.8 272.9 925.5 270Z" fill="none" stroke="#e2583a" stroke-width="9" filter="url(#blur3)" opacity="0.32"/></g>
<path d="M925.5 270C927.2 267.1 930.9 266 933 264C935.1 262 936.4 261.2 938 258C939.6 254.8 940.8 247.5 942.5 244.8C944.2 242 946.3 241.3 948 241.5C949.7 241.7 951.8 244.3 952.4 246.2C953 248 951.8 250.5 951.5 252.6C951.2 254.8 950.4 257.4 950.6 258.9C950.8 260.5 952 261.9 952.6 262C953.3 262.1 954.1 260.9 954.7 259.5C955.3 258.2 955.8 255.2 956.1 253.7C956.5 252.3 955.7 252 956.8 251.1C957.9 250.2 961 248 962.6 248.4C964.2 248.8 966.1 251.7 966.5 253.5C966.9 255.3 965.5 257.6 965 259.4C964.6 261.1 963.6 262.6 963.9 264C964.1 265.5 965.5 267.8 966.3 268C967.1 268.2 968 266.4 968.7 265.1C969.4 263.8 970.1 261.3 970.5 260.3C970.9 259.3 969.8 259.6 970.9 259C972 258.5 975.4 256.4 977 257C978.6 257.6 980 260.9 980.3 262.5C980.7 264 978.3 264.2 978.9 266.3C979.5 268.4 980.5 271.9 984 275C987.5 278.1 997.3 252.5 1000 285C1002.7 317.5 1002.5 440.8 1000 470C997.5 499.2 991.2 462.9 985 460C978.8 457.1 970.5 454.8 963 452.5C955.5 450.2 947.2 448 940 446C932.8 444 926.2 442.2 920 440.5C913.8 438.8 907.2 437.5 903 436C898.8 434.5 896.2 433.5 894.5 431.5C892.8 429.5 892.8 427.6 892.5 424C892.2 420.4 892.2 414.3 893 410C893.8 405.7 895.3 402.2 897 398C898.7 393.8 901.6 389.3 903 385C904.4 380.7 905.1 375.3 905.5 372C905.9 368.7 904.9 368.3 905.5 365C906.1 361.7 907.9 356.5 909 352C910.1 347.5 910.9 342.8 912 338C913.1 333.2 914.7 327.2 915.5 323C916.3 318.8 915.2 317.1 916.7 312.8C918.2 308.5 923.5 302.2 924.5 297C925.5 291.8 922.4 286 922.6 281.5C922.8 277 923.8 272.9 925.5 270Z" fill="none" stroke="#a34a2c" stroke-width="2.3" stroke-linejoin="round"/>
<path d="M167.5 287.5L173 309" stroke="#a87450" stroke-width="1.5" stroke-linecap="round" fill="none"/>
<path d="M166.1 287L168.9 287L170.2 298.2Z" fill="#a87450"/>
<path d="M272.7 251L277.6 275.5" stroke="#a87450" stroke-width="1.5" stroke-linecap="round" fill="none"/>
<path d="M271.3 250.5L274.1 250.5L275.1 263.2Z" fill="#a87450"/>
<path d="M384 230.5L387 259" stroke="#a87450" stroke-width="1.5" stroke-linecap="round" fill="none"/>
<path d="M382.6 230L385.4 230L385.5 244.8Z" fill="#a87450"/>
<path d="M203.5 435Q196.2 406.2 185 377.5" stroke="#ac7c58" stroke-width="1.4" stroke-linecap="round" fill="none"/>
<path d="M302.5 403Q303.2 398.5 300 394" stroke="#ac7c58" stroke-width="1.4" stroke-linecap="round" fill="none"/>
<path d="M401 385Q402.5 375 400 365" stroke="#ac7c58" stroke-width="1.4" stroke-linecap="round" fill="none"/>
<path d="M508 243.8C511 245 512.5 250 512 254C511.5 258 509.5 260.5 507.5 260C505 259 504.5 254 505 250C505.5 246 506.5 243.5 508 243.8Z" fill="#fff" stroke="#a86848" stroke-width="1.4"/>
<path d="M509 271.5C511.5 272 513 276 512.5 281C512 287 513.5 293 513 300C512.5 310 514 320 513.5 330C513.3 338 513 345 512.8 349C511.5 342 511.8 334 511.5 326C511 316 510 306 510.3 298C510.5 291 508.5 287 507.5 281C506.8 276 507 271.5 509 271.5Z" fill="#fff" stroke="#a86848" stroke-width="1.3"/>
</g>
<g id="nuclei">
<circle cx="147.5" cy="417.5" r="26" fill="#f4a6b4" opacity="0.8" filter="url(#blur2)"/>
<circle cx="147.5" cy="417.5" r="24" fill="#d888a6" stroke="#c07aa8" stroke-width="1.3"/>
<circle cx="239.5" cy="386" r="28" fill="#f4a6b4" opacity="0.8" filter="url(#blur2)"/>
<circle cx="239.5" cy="386" r="26" fill="#ce7b96" stroke="#b56a9e" stroke-width="1.3"/>
<circle cx="340" cy="361" r="27" fill="#f4a6b4" opacity="0.8" filter="url(#blur2)"/>
<circle cx="340" cy="361" r="25" fill="#cf7992" stroke="#b5689a" stroke-width="1.3"/>
<circle cx="451" cy="344" r="25" fill="#f4a6b4" opacity="0.8" filter="url(#blur2)"/>
<circle cx="451" cy="344" r="23" fill="#d87b8a" stroke="#b56698" stroke-width="1.3"/>
<circle cx="566" cy="337" r="25" fill="#f4a6b4" opacity="0.8" filter="url(#blur2)"/>
<circle cx="566" cy="337" r="23" fill="#e57976" stroke="#c0608a" stroke-width="1.3"/>
<path d="M712.5 356C711.4 359.7 710.1 363.9 707.5 366.7C704.9 369.6 700.6 372.3 696.8 372.9C693.1 373.5 688.5 372 685 370.5C681.5 369 678.7 366.4 676.1 363.8C673.5 361.1 670.8 358 669.6 354.5C668.3 350.9 667.5 346.1 668.6 342.4C669.6 338.8 672.8 334.9 675.9 332.6C678.9 330.3 683.1 329.1 686.7 328.5C690.4 328 694.2 328.5 697.7 329.4C701.3 330.4 705.3 331.7 708 334.2C710.7 336.7 713.2 340.8 713.9 344.4C714.7 348 713.6 352.3 712.5 356Z" fill="#ee6e70" stroke="#c44870" stroke-width="1.3"/>
<path d="M856.9 371.2C856.2 374.8 854.2 378.3 852 381.3C849.9 384.2 847.3 387.1 844 389.1C840.8 391 836.3 393.1 832.6 392.9C828.9 392.6 824.3 390.2 821.6 387.7C818.9 385.1 817.6 380.9 816.3 377.4C815.1 374 814.2 370.6 814.1 366.9C814 363.2 814 358.4 815.9 355.3C817.8 352.1 822.1 348.8 825.5 348C829 347.3 833.2 350 836.8 350.6C840.5 351.2 844.4 350.1 847.6 351.5C850.7 353 854.4 356.3 856 359.5C857.5 362.8 857.5 367.6 856.9 371.2Z" fill="#f07068" stroke="#c84868" stroke-width="1.3"/>
<path d="M956.4 409.1C954.7 412.4 952.7 416 949.7 418.2C946.7 420.5 942.2 422.6 938.6 422.5C934.9 422.4 930.6 420 927.7 417.9C924.8 415.7 922.8 412.5 920.9 409.4C919.1 406.3 917.2 403.2 916.5 399.5C915.8 395.9 915.3 390.8 916.9 387.5C918.6 384.2 922.9 381.3 926.3 379.8C929.7 378.3 933.9 378.4 937.5 378.5C941.1 378.6 944.7 379.1 948.1 380.6C951.4 382 955.7 384 957.6 387C959.6 390 960.2 394.8 960 398.5C959.8 402.2 958.1 405.8 956.4 409.1Z" fill="#f47468" stroke="#cc4c6c" stroke-width="1.3"/>
</g>
<g id="blood" clip-path="url(#bandclip)">
<path d="M100 495C105.4 492.9 120 487.8 132.5 482.5C145 477.2 159.6 469.8 175 463.5C190.4 457.2 208.3 450.6 225 445C241.7 439.4 258.3 434.4 275 430C291.7 425.6 311.5 421.4 325 418.5C338.5 415.6 336.8 414.9 356 412.5C375.2 410.1 409.3 406.2 440 404C470.7 401.8 514 399.8 540 399C566 398.2 572.7 398.2 596 399C619.3 399.8 649.3 400.9 680 404C710.7 407.1 748.7 411.1 780 417.5C811.3 423.9 841.3 434.8 868 442.5C894.7 450.2 918 457.1 940 464C962 470.9 990 480.7 1000 484L1000 577C990 574.2 962 566.2 940 560C918 553.8 894.7 547.9 868 540C841.3 532.1 811.3 520 780 512.5C748.7 505 710.7 498.8 680 495C649.3 491.2 619.3 491 596 490C572.7 489 566 488.3 540 489C514 489.7 470.7 491.3 440 494C409.3 496.7 375.2 502.1 356 505C336.8 507.9 338.5 508 325 511.5C311.5 515 291.7 520.4 275 526C258.3 531.6 241.7 538.5 225 545C208.3 551.5 190.4 558.8 175 565C159.6 571.2 145 577.3 132.5 582.5C120 587.7 105.4 593.8 100 596Z" fill="#8e1618"/>
<path d="M100 533.4C105.4 531.2 120 525.7 132.5 520.5C145 515.3 159.6 508.3 175 502.1C190.4 495.8 208.3 488.9 225 483C241.7 477.1 258.3 471.3 275 466.5C291.7 461.6 311.5 457 325 453.8C338.5 450.7 336.8 450.3 356 447.6C375.2 445 409.3 440.6 440 438.2C470.7 435.8 514 434 540 433.2C566 432.4 572.7 432.7 596 433.6C619.3 434.5 649.3 435.2 680 438.6C710.7 441.9 748.7 446.8 780 453.6C811.3 460.4 841.3 471.7 868 479.6C894.7 487.4 918 493.8 940 500.5C962 507.1 990 516.2 1000 519.3" fill="none" stroke="#b21d20" stroke-width="62" filter="url(#blur8)" opacity="1"/>
<path d="M100 533.4C105.4 531.2 120 525.7 132.5 520.5C145 515.3 159.6 508.3 175 502.1C190.4 495.8 208.3 488.9 225 483C241.7 477.1 258.3 471.3 275 466.5C291.7 461.6 311.5 457 325 453.8C338.5 450.7 336.8 450.3 356 447.6C375.2 445 409.3 440.6 440 438.2C470.7 435.8 514 434 540 433.2C566 432.4 572.7 432.7 596 433.6C619.3 434.5 649.3 435.2 680 438.6C710.7 441.9 748.7 446.8 780 453.6C811.3 460.4 841.3 471.7 868 479.6C894.7 487.4 918 493.8 940 500.5C962 507.1 990 516.2 1000 519.3" fill="none" stroke="#b61f22" stroke-width="34" filter="url(#blur8)" opacity="0.75"/>
<path d="M100 495C105.4 492.9 120 487.8 132.5 482.5C145 477.2 159.6 469.8 175 463.5C190.4 457.2 208.3 450.6 225 445C241.7 439.4 258.3 434.4 275 430C291.7 425.6 311.5 421.4 325 418.5C338.5 415.6 336.8 414.9 356 412.5C375.2 410.1 409.3 406.2 440 404C470.7 401.8 514 399.8 540 399C566 398.2 572.7 398.2 596 399C619.3 399.8 649.3 400.9 680 404C710.7 407.1 748.7 411.1 780 417.5C811.3 423.9 841.3 434.8 868 442.5C894.7 450.2 918 457.1 940 464C962 470.9 990 480.7 1000 484" fill="none" stroke="#5e0a0a" stroke-width="5" filter="url(#blur1)" opacity="0.9"/>
<path d="M100 596C105.4 593.8 120 587.7 132.5 582.5C145 577.3 159.6 571.2 175 565C190.4 558.8 208.3 551.5 225 545C241.7 538.5 258.3 531.6 275 526C291.7 520.4 311.5 515 325 511.5C338.5 508 336.8 507.9 356 505C375.2 502.1 409.3 496.7 440 494C470.7 491.3 514 489.7 540 489C566 488.3 572.7 489 596 490C619.3 491 649.3 491.2 680 495C710.7 498.8 748.7 505 780 512.5C811.3 520 841.3 532.1 868 540C894.7 547.9 918 553.8 940 560C962 566.2 990 574.2 1000 577" fill="none" stroke="#7a1010" stroke-width="8" filter="url(#blur2)" opacity="0.7"/>
</g>
<g id="rbc">
<g transform="translate(246 482.5) rotate(-8)">
<ellipse cx="1" cy="4" rx="28" ry="21" fill="#6a0c0c" opacity="0.55" filter="url(#blur2)"/>
<ellipse cx="0" cy="0" rx="27" ry="20" fill="url(#grbc)"/>
<ellipse cx="0" cy="1" rx="10" ry="5.5" fill="#c42a2a" filter="url(#blur1)"/>
<path d="M-10 1.5A10 5.5 0 0 1 10 1.5" fill="none" stroke="#a81e1e" stroke-width="1.5" stroke-linecap="round" opacity="0.8"/>
</g>
<g transform="translate(345.5 465.3) rotate(-15)">
<ellipse cx="1" cy="4" rx="27" ry="21.5" fill="#6a0c0c" opacity="0.55" filter="url(#blur2)"/>
<ellipse cx="0" cy="0" rx="26" ry="20.5" fill="url(#grbc)"/>
<ellipse cx="0" cy="-3" rx="9.5" ry="5" fill="#c42a2a" filter="url(#blur1)"/>
<path d="M-9.5 -2.5A9.5 5 0 0 1 9.5 -2.5" fill="none" stroke="#a81e1e" stroke-width="1.5" stroke-linecap="round" opacity="0.8"/>
</g>
<g transform="translate(461 447.5) rotate(-10)">
<ellipse cx="1" cy="4" rx="25" ry="24" fill="#6a0c0c" opacity="0.55" filter="url(#blur2)"/>
<ellipse cx="0" cy="0" rx="24" ry="23" fill="url(#grbc)"/>
<ellipse cx="2" cy="-2" rx="6" ry="5.5" fill="#c42a2a" filter="url(#blur1)"/>
<path d="M-4 -1.5A6 5.5 0 0 1 8 -1.5" fill="none" stroke="#a81e1e" stroke-width="1.5" stroke-linecap="round" opacity="0.8"/>
</g>
<g transform="translate(608 455) rotate(-5)">
<ellipse cx="1" cy="4" rx="26" ry="20" fill="#6a0c0c" opacity="0.55" filter="url(#blur2)"/>
<ellipse cx="0" cy="0" rx="25" ry="19" fill="url(#grbc)"/>
<ellipse cx="-1" cy="-5" rx="9" ry="4.5" fill="#c42a2a" filter="url(#blur1)"/>
<path d="M-10 -4.5A9 4.5 0 0 1 8 -4.5" fill="none" stroke="#a81e1e" stroke-width="1.5" stroke-linecap="round" opacity="0.8"/>
</g>
<g transform="translate(690 447.5) rotate(22)">
<ellipse cx="1" cy="4" rx="26" ry="21" fill="#6a0c0c" opacity="0.55" filter="url(#blur2)"/>
<ellipse cx="0" cy="0" rx="25" ry="20" fill="url(#grbc)"/>
<ellipse cx="0" cy="-6" rx="9" ry="4.5" fill="#c42a2a" filter="url(#blur1)"/>
<path d="M-9 -5.5A9 4.5 0 0 1 9 -5.5" fill="none" stroke="#a81e1e" stroke-width="1.5" stroke-linecap="round" opacity="0.8"/>
</g>
<g transform="translate(867 492.5) rotate(15)">
<ellipse cx="1" cy="4" rx="21" ry="20" fill="#6a0c0c" opacity="0.55" filter="url(#blur2)"/>
<ellipse cx="0" cy="0" rx="20" ry="19" fill="url(#grbc)"/>
<ellipse cx="0" cy="-2" rx="9" ry="5" fill="#c42a2a" filter="url(#blur1)"/>
<path d="M-9 -1.5A9 5 0 0 1 9 -1.5" fill="none" stroke="#a81e1e" stroke-width="1.5" stroke-linecap="round" opacity="0.8"/>
</g>
<g transform="translate(934 496) rotate(10)">
<ellipse cx="1" cy="4" rx="18" ry="21" fill="#6a0c0c" opacity="0.55" filter="url(#blur2)"/>
<ellipse cx="0" cy="0" rx="17" ry="20" fill="url(#grbc)"/>
<ellipse cx="3" cy="-3" rx="4" ry="6" fill="#c42a2a" filter="url(#blur1)"/>
<path d="M-1 -2.5A4 6 0 0 1 7 -2.5" fill="none" stroke="#a81e1e" stroke-width="1.5" stroke-linecap="round" opacity="0.8"/>
</g>
</g>
<g id="bloodgluten">
<path d="M176.9 503.5C178.2 504.4 179.4 504.1 180.7 504.2C182 504.4 183.2 504.5 184.5 504.5C185.7 504.5 186.9 504.4 188.1 504.3C189.3 504.2 190.5 504 191.6 503.8C192.8 503.6 193.9 503.3 195 502.9C196.2 502.6 197.5 502.1 198.3 501.7C199.1 501.3 199.6 501.2 200 500.7C200.3 500.2 200.5 499.4 200.4 498.9C200.3 498.3 199.9 497.6 199.4 497.2C198.9 496.9 198.3 496.9 197.5 496.8C196.7 496.6 195.5 496.5 194.6 496.3C193.7 496.1 192.8 495.8 191.9 495.5C191.1 495.2 190.3 494.8 189.5 494.4C188.7 494 188 493.6 187.3 493.2C186.5 492.7 185.9 492.2 185.2 491.7C184.5 491.1 184.6 490.3 183.3 490C182 489.6 179.1 489.1 177.4 489.7C175.8 490.3 174 492 173.3 493.6C172.6 495.1 172.4 497.5 173 499.2C173.6 500.9 175.6 502.7 176.9 503.5Z" fill="#f5c83c" opacity="0.7" filter="url(#blur2)"/>
<path d="M176.9 503.5C178.2 504.4 179.4 504.1 180.7 504.2C182 504.4 183.2 504.5 184.5 504.5C185.7 504.5 186.9 504.4 188.1 504.3C189.3 504.2 190.5 504 191.6 503.8C192.8 503.6 193.9 503.3 195 502.9C196.2 502.6 197.5 502.1 198.3 501.7C199.1 501.3 199.6 501.2 200 500.7C200.3 500.2 200.5 499.4 200.4 498.9C200.3 498.3 199.9 497.6 199.4 497.2C198.9 496.9 198.3 496.9 197.5 496.8C196.7 496.6 195.5 496.5 194.6 496.3C193.7 496.1 192.8 495.8 191.9 495.5C191.1 495.2 190.3 494.8 189.5 494.4C188.7 494 188 493.6 187.3 493.2C186.5 492.7 185.9 492.2 185.2 491.7C184.5 491.1 184.6 490.3 183.3 490C182 489.6 179.1 489.1 177.4 489.7C175.8 490.3 174 492 173.3 493.6C172.6 495.1 172.4 497.5 173 499.2C173.6 500.9 175.6 502.7 176.9 503.5Z" fill="#f7da62" filter="url(#blur1)" stroke="#f0bc38" stroke-width="0.8"/>
<path d="M169.9 524.5C170.7 524.5 170.6 524.2 170.9 524C171.3 523.8 171.6 523.6 172 523.4C172.3 523.2 172.7 523.1 173 522.9C173.4 522.7 173.7 522.5 174.1 522.3C174.4 522.1 174.8 521.9 175.2 521.7C175.5 521.6 175.7 521.5 176.2 521.2C176.7 520.8 177.8 520.3 178.2 519.7C178.6 519 178.7 518 178.5 517.3C178.3 516.5 177.7 515.7 177 515.3C176.4 515 175.2 515.1 174.6 515C173.9 515 173.8 515 173.4 515C173 515.1 172.6 515.1 172.2 515.1C171.8 515.1 171.4 515.1 171 515.1C170.6 515.2 170.2 515.2 169.8 515.2C169.4 515.2 169 515.2 168.6 515.2C168.2 515.2 168.1 514.9 167.4 515.3C166.7 515.7 165 516.6 164.4 517.6C163.8 518.5 163.7 520.1 164 521.1C164.3 522.2 165.2 523.5 166.2 524C167.1 524.6 169.1 524.6 169.9 524.5Z" fill="#f5c83c" opacity="0.7" filter="url(#blur2)"/>
<path d="M169.9 524.5C170.7 524.5 170.6 524.2 170.9 524C171.3 523.8 171.6 523.6 172 523.4C172.3 523.2 172.7 523.1 173 522.9C173.4 522.7 173.7 522.5 174.1 522.3C174.4 522.1 174.8 521.9 175.2 521.7C175.5 521.6 175.7 521.5 176.2 521.2C176.7 520.8 177.8 520.3 178.2 519.7C178.6 519 178.7 518 178.5 517.3C178.3 516.5 177.7 515.7 177 515.3C176.4 515 175.2 515.1 174.6 515C173.9 515 173.8 515 173.4 515C173 515.1 172.6 515.1 172.2 515.1C171.8 515.1 171.4 515.1 171 515.1C170.6 515.2 170.2 515.2 169.8 515.2C169.4 515.2 169 515.2 168.6 515.2C168.2 515.2 168.1 514.9 167.4 515.3C166.7 515.7 165 516.6 164.4 517.6C163.8 518.5 163.7 520.1 164 521.1C164.3 522.2 165.2 523.5 166.2 524C167.1 524.6 169.1 524.6 169.9 524.5Z" fill="#f7da62" filter="url(#blur1)" stroke="#f0bc38" stroke-width="0.8"/>
<path d="M380.4 443.4C381.8 443.9 383.8 444.1 385.4 444.2C387.1 444.4 388.7 444.4 390.4 444.3C392 444.2 393.7 443.9 395.3 443.6C396.9 443.2 398.5 442.7 400.1 442.1C401.6 441.5 403.1 440.7 404.6 439.9C406.1 439 407.8 438.2 408.9 436.9C410 435.6 411.1 433.9 411.2 432.3C411.3 430.8 410.6 428.8 409.6 427.6C408.6 426.4 406.8 425.4 405.2 425.3C403.7 425.2 401.5 426.3 400.3 426.9C399 427.5 398.6 428.4 397.7 429.1C396.8 429.7 395.9 430.3 395 430.8C394.1 431.3 393.2 431.7 392.2 432C391.2 432.3 390.2 432.6 389.2 432.7C388.2 432.9 387.1 433 386 433C384.8 433 383.7 432.7 382.4 432.8C381.1 432.9 379.3 433 378.3 433.7C377.2 434.4 376.3 435.9 376.1 437.1C375.9 438.4 376.2 440.1 376.9 441.1C377.6 442.2 379 442.9 380.4 443.4Z" fill="#f5c83c" opacity="0.7" filter="url(#blur2)"/>
<path d="M380.4 443.4C381.8 443.9 383.8 444.1 385.4 444.2C387.1 444.4 388.7 444.4 390.4 444.3C392 444.2 393.7 443.9 395.3 443.6C396.9 443.2 398.5 442.7 400.1 442.1C401.6 441.5 403.1 440.7 404.6 439.9C406.1 439 407.8 438.2 408.9 436.9C410 435.6 411.1 433.9 411.2 432.3C411.3 430.8 410.6 428.8 409.6 427.6C408.6 426.4 406.8 425.4 405.2 425.3C403.7 425.2 401.5 426.3 400.3 426.9C399 427.5 398.6 428.4 397.7 429.1C396.8 429.7 395.9 430.3 395 430.8C394.1 431.3 393.2 431.7 392.2 432C391.2 432.3 390.2 432.6 389.2 432.7C388.2 432.9 387.1 433 386 433C384.8 433 383.7 432.7 382.4 432.8C381.1 432.9 379.3 433 378.3 433.7C377.2 434.4 376.3 435.9 376.1 437.1C375.9 438.4 376.2 440.1 376.9 441.1C377.6 442.2 379 442.9 380.4 443.4Z" fill="#f7da62" filter="url(#blur1)" stroke="#f0bc38" stroke-width="0.8"/>
<path d="M379.1 484.3C380.1 483.9 380.8 483.3 381.6 482.7C382.4 482.1 383.1 481.5 383.9 480.9C384.6 480.2 385.2 479.5 385.9 478.8C386.5 478.1 387.1 477.3 387.7 476.5C388.2 475.7 388.8 474.9 389.2 474C389.7 473.1 390.3 472.4 390.5 471.3C390.7 470.1 390.8 468.2 390.3 467C389.7 465.8 388.3 464.7 387.1 464.3C385.9 463.9 384.1 463.9 383 464.5C381.8 465 380.7 466.9 380.1 467.7C379.5 468.5 379.8 468.9 379.6 469.5C379.4 470 379.1 470.6 378.9 471.1C378.6 471.7 378.3 472.2 378 472.7C377.7 473.2 377.3 473.6 377 474.1C376.6 474.6 376.2 475 375.7 475.5C375.3 475.9 374.8 476 374.2 476.7C373.7 477.4 372.5 478.6 372.3 479.7C372 480.7 372.4 482.1 372.9 483C373.5 483.9 374.7 484.7 375.7 484.9C376.7 485.1 378.2 484.7 379.1 484.3Z" fill="#f5c83c" opacity="0.7" filter="url(#blur2)"/>
<path d="M379.1 484.3C380.1 483.9 380.8 483.3 381.6 482.7C382.4 482.1 383.1 481.5 383.9 480.9C384.6 480.2 385.2 479.5 385.9 478.8C386.5 478.1 387.1 477.3 387.7 476.5C388.2 475.7 388.8 474.9 389.2 474C389.7 473.1 390.3 472.4 390.5 471.3C390.7 470.1 390.8 468.2 390.3 467C389.7 465.8 388.3 464.7 387.1 464.3C385.9 463.9 384.1 463.9 383 464.5C381.8 465 380.7 466.9 380.1 467.7C379.5 468.5 379.8 468.9 379.6 469.5C379.4 470 379.1 470.6 378.9 471.1C378.6 471.7 378.3 472.2 378 472.7C377.7 473.2 377.3 473.6 377 474.1C376.6 474.6 376.2 475 375.7 475.5C375.3 475.9 374.8 476 374.2 476.7C373.7 477.4 372.5 478.6 372.3 479.7C372 480.7 372.4 482.1 372.9 483C373.5 483.9 374.7 484.7 375.7 484.9C376.7 485.1 378.2 484.7 379.1 484.3Z" fill="#f7da62" filter="url(#blur1)" stroke="#f0bc38" stroke-width="0.8"/>
<path d="M519.2 466C520.8 466.2 523.1 465.8 525 465.5C526.9 465.3 528.8 464.9 530.6 464.4C532.4 463.9 534.2 463.3 536 462.6C537.7 461.8 539.5 461 541.1 460C542.8 459 544.4 457.9 545.9 456.7C547.5 455.5 549.3 454.3 550.4 452.7C551.4 451.2 552.4 449.2 552.3 447.5C552.3 445.9 551.2 443.8 550 442.7C548.8 441.5 546.7 440.6 545 440.7C543.3 440.8 541.2 442.1 539.9 443C538.6 443.9 538 445.1 537 446.1C536 447 534.9 447.9 533.9 448.7C532.8 449.5 531.7 450.2 530.5 450.8C529.3 451.4 528.1 451.9 526.9 452.4C525.6 452.9 524.3 453.3 522.9 453.6C521.5 453.9 520 453.8 518.6 454.3C517.1 454.7 515.4 455.2 514.4 456.3C513.5 457.3 512.9 459.1 513 460.4C513.1 461.8 513.9 463.5 514.9 464.4C515.9 465.4 517.5 465.8 519.2 466Z" fill="#f5c83c" opacity="0.7" filter="url(#blur2)"/>
<path d="M519.2 466C520.8 466.2 523.1 465.8 525 465.5C526.9 465.3 528.8 464.9 530.6 464.4C532.4 463.9 534.2 463.3 536 462.6C537.7 461.8 539.5 461 541.1 460C542.8 459 544.4 457.9 545.9 456.7C547.5 455.5 549.3 454.3 550.4 452.7C551.4 451.2 552.4 449.2 552.3 447.5C552.3 445.9 551.2 443.8 550 442.7C548.8 441.5 546.7 440.6 545 440.7C543.3 440.8 541.2 442.1 539.9 443C538.6 443.9 538 445.1 537 446.1C536 447 534.9 447.9 533.9 448.7C532.8 449.5 531.7 450.2 530.5 450.8C529.3 451.4 528.1 451.9 526.9 452.4C525.6 452.9 524.3 453.3 522.9 453.6C521.5 453.9 520 453.8 518.6 454.3C517.1 454.7 515.4 455.2 514.4 456.3C513.5 457.3 512.9 459.1 513 460.4C513.1 461.8 513.9 463.5 514.9 464.4C515.9 465.4 517.5 465.8 519.2 466Z" fill="#f7da62" filter="url(#blur1)" stroke="#f0bc38" stroke-width="0.8"/>
<path d="M566.7 435.2C567.8 435.4 568.9 435.1 570 434.9C571 434.7 572.1 434.4 573.1 434C574 433.6 575 433.1 575.8 432.5C576.7 431.9 577.5 431.2 578.2 430.4C578.9 429.6 579.6 428.7 580.1 427.8C580.7 426.9 581.3 425.9 581.5 424.9C581.7 423.8 581.9 422.4 581.4 421.4C581 420.4 579.9 419.5 578.9 419.1C578 418.7 576.5 418.7 575.6 419.1C574.6 419.5 573.6 421 573.1 421.7C572.6 422.4 572.6 422.8 572.4 423.2C572.1 423.7 571.9 424 571.6 424.3C571.3 424.6 571 424.9 570.7 425.1C570.4 425.3 570 425.5 569.6 425.7C569.2 425.8 568.8 426 568.3 426.1C567.8 426.2 567.4 426 566.6 426.2C565.8 426.5 564.1 426.9 563.4 427.6C562.6 428.4 562.2 429.8 562.2 430.8C562.2 431.9 562.7 433.2 563.5 433.9C564.3 434.7 565.7 435.1 566.7 435.2Z" fill="#f5c83c" opacity="0.7" filter="url(#blur2)"/>
<path d="M566.7 435.2C567.8 435.4 568.9 435.1 570 434.9C571 434.7 572.1 434.4 573.1 434C574 433.6 575 433.1 575.8 432.5C576.7 431.9 577.5 431.2 578.2 430.4C578.9 429.6 579.6 428.7 580.1 427.8C580.7 426.9 581.3 425.9 581.5 424.9C581.7 423.8 581.9 422.4 581.4 421.4C581 420.4 579.9 419.5 578.9 419.1C578 418.7 576.5 418.7 575.6 419.1C574.6 419.5 573.6 421 573.1 421.7C572.6 422.4 572.6 422.8 572.4 423.2C572.1 423.7 571.9 424 571.6 424.3C571.3 424.6 571 424.9 570.7 425.1C570.4 425.3 570 425.5 569.6 425.7C569.2 425.8 568.8 426 568.3 426.1C567.8 426.2 567.4 426 566.6 426.2C565.8 426.5 564.1 426.9 563.4 427.6C562.6 428.4 562.2 429.8 562.2 430.8C562.2 431.9 562.7 433.2 563.5 433.9C564.3 434.7 565.7 435.1 566.7 435.2Z" fill="#f7da62" filter="url(#blur1)" stroke="#f0bc38" stroke-width="0.8"/>
<path d="M813 453.7C814 454.2 815 454.2 815.8 454.5C816.7 454.9 817.5 455.2 818.3 455.6C819 456.1 819.7 456.5 820.4 457C821.1 457.6 821.7 458.1 822.3 458.8C822.9 459.4 823.4 460.1 823.9 460.9C824.5 461.6 824.7 462.5 825.4 463.4C826.1 464.2 827.2 465.6 828.4 465.9C829.5 466.3 831.1 466.2 832.1 465.6C833.2 465.1 834.2 463.9 834.6 462.8C835 461.7 834.8 460.2 834.4 458.9C834 457.7 833 456.4 832.2 455.2C831.4 454.1 830.5 453 829.6 452C828.7 451 827.6 450 826.6 449.2C825.5 448.3 824.3 447.6 823.1 446.9C821.9 446.2 820.6 445.6 819.3 445.2C818 444.7 816.5 444 815.2 444C813.9 443.9 812.4 444 811.4 444.6C810.4 445.3 809.5 446.6 809.2 447.8C809 448.9 809.2 450.5 809.8 451.5C810.5 452.5 812.1 453.2 813 453.7Z" fill="#f5c83c" opacity="0.7" filter="url(#blur2)"/>
<path d="M813 453.7C814 454.2 815 454.2 815.8 454.5C816.7 454.9 817.5 455.2 818.3 455.6C819 456.1 819.7 456.5 820.4 457C821.1 457.6 821.7 458.1 822.3 458.8C822.9 459.4 823.4 460.1 823.9 460.9C824.5 461.6 824.7 462.5 825.4 463.4C826.1 464.2 827.2 465.6 828.4 465.9C829.5 466.3 831.1 466.2 832.1 465.6C833.2 465.1 834.2 463.9 834.6 462.8C835 461.7 834.8 460.2 834.4 458.9C834 457.7 833 456.4 832.2 455.2C831.4 454.1 830.5 453 829.6 452C828.7 451 827.6 450 826.6 449.2C825.5 448.3 824.3 447.6 823.1 446.9C821.9 446.2 820.6 445.6 819.3 445.2C818 444.7 816.5 444 815.2 444C813.9 443.9 812.4 444 811.4 444.6C810.4 445.3 809.5 446.6 809.2 447.8C809 448.9 809.2 450.5 809.8 451.5C810.5 452.5 812.1 453.2 813 453.7Z" fill="#f7da62" filter="url(#blur1)" stroke="#f0bc38" stroke-width="0.8"/>
<path d="M892.9 510.2C892.9 510.8 893.1 510.9 893.1 511.3C893.2 511.7 893.3 512.1 893.4 512.5C893.4 512.8 893.5 513.2 893.6 513.6C893.6 514 893.7 514.4 893.8 514.8C893.8 515.1 893.9 515.5 894 515.9C894 516.3 893.9 516.5 894.2 517.1C894.4 517.6 895 518.9 895.6 519.4C896.3 519.8 897.4 520 898.2 519.9C899 519.8 900 519.2 900.5 518.5C900.9 517.8 901 516.5 901.1 515.8C901.1 515.2 900.9 515.1 900.9 514.7C900.8 514.3 900.7 513.9 900.6 513.5C900.6 513.2 900.5 512.8 900.4 512.4C900.4 512 900.3 511.6 900.2 511.2C900.2 510.9 900.1 510.5 900 510.1C900 509.7 900.1 509.5 899.8 508.9C899.6 508.4 899 507.1 898.4 506.6C897.7 506.2 896.6 506 895.8 506.1C895 506.2 894 506.8 893.5 507.5C893.1 508.2 893 509.5 892.9 510.2Z" fill="#f5c83c" opacity="0.7" filter="url(#blur2)"/>
<path d="M892.9 510.2C892.9 510.8 893.1 510.9 893.1 511.3C893.2 511.7 893.3 512.1 893.4 512.5C893.4 512.8 893.5 513.2 893.6 513.6C893.6 514 893.7 514.4 893.8 514.8C893.8 515.1 893.9 515.5 894 515.9C894 516.3 893.9 516.5 894.2 517.1C894.4 517.6 895 518.9 895.6 519.4C896.3 519.8 897.4 520 898.2 519.9C899 519.8 900 519.2 900.5 518.5C900.9 517.8 901 516.5 901.1 515.8C901.1 515.2 900.9 515.1 900.9 514.7C900.8 514.3 900.7 513.9 900.6 513.5C900.6 513.2 900.5 512.8 900.4 512.4C900.4 512 900.3 511.6 900.2 511.2C900.2 510.9 900.1 510.5 900 510.1C900 509.7 900.1 509.5 899.8 508.9C899.6 508.4 899 507.1 898.4 506.6C897.7 506.2 896.6 506 895.8 506.1C895 506.2 894 506.8 893.5 507.5C893.1 508.2 893 509.5 892.9 510.2Z" fill="#f7da62" filter="url(#blur1)" stroke="#f0bc38" stroke-width="0.8"/>
<path d="M917.5 525.6C918.6 525.7 919.3 525.3 920.1 525.3C920.9 525.3 921.6 525.4 922.3 525.5C922.9 525.6 923.6 525.8 924.2 526C924.8 526.3 925.4 526.6 925.9 527C926.5 527.4 927.1 527.8 927.6 528.4C928.2 528.9 928.5 529.7 929.3 530.3C930.1 531 931.5 532.2 932.7 532.3C933.8 532.5 935.4 532.1 936.3 531.4C937.2 530.7 938.1 529.4 938.3 528.2C938.5 527 938 525.6 937.4 524.4C936.8 523.3 935.6 522.2 934.7 521.2C933.7 520.3 932.6 519.4 931.5 518.7C930.4 517.9 929.2 517.3 927.9 516.8C926.7 516.3 925.4 515.9 924 515.6C922.7 515.4 921.3 515.3 920 515.3C918.6 515.3 917 515.3 915.8 515.7C914.6 516.1 913.2 516.8 912.5 517.8C911.8 518.7 911.5 520.3 911.7 521.5C911.9 522.6 912.7 524 913.7 524.7C914.7 525.4 916.5 525.4 917.5 525.6Z" fill="#f5c83c" opacity="0.7" filter="url(#blur2)"/>
<path d="M917.5 525.6C918.6 525.7 919.3 525.3 920.1 525.3C920.9 525.3 921.6 525.4 922.3 525.5C922.9 525.6 923.6 525.8 924.2 526C924.8 526.3 925.4 526.6 925.9 527C926.5 527.4 927.1 527.8 927.6 528.4C928.2 528.9 928.5 529.7 929.3 530.3C930.1 531 931.5 532.2 932.7 532.3C933.8 532.5 935.4 532.1 936.3 531.4C937.2 530.7 938.1 529.4 938.3 528.2C938.5 527 938 525.6 937.4 524.4C936.8 523.3 935.6 522.2 934.7 521.2C933.7 520.3 932.6 519.4 931.5 518.7C930.4 517.9 929.2 517.3 927.9 516.8C926.7 516.3 925.4 515.9 924 515.6C922.7 515.4 921.3 515.3 920 515.3C918.6 515.3 917 515.3 915.8 515.7C914.6 516.1 913.2 516.8 912.5 517.8C911.8 518.7 911.5 520.3 911.7 521.5C911.9 522.6 912.7 524 913.7 524.7C914.7 525.4 916.5 525.4 917.5 525.6Z" fill="#f7da62" filter="url(#blur1)" stroke="#f0bc38" stroke-width="0.8"/>
</g>
<rect x="90" y="200" width="70" height="420" fill="url(#fadeL)"/>
<rect x="930" y="200" width="94" height="420" fill="url(#fadeR)"/>
<g id="gluten" fill="url(#gglu)" stroke="#a89a48" stroke-width="1.6">
<path d="M504 38.5C502.4 40.1 501.3 42.4 500.3 44.4C499.2 46.4 498.4 48.5 497.7 50.6C497.1 52.7 496.7 54.9 496.5 57.1C496.3 59.3 496.3 61.6 496.6 63.7C496.9 65.9 497.4 68.1 498.1 70.2C498.8 72.4 499.5 74.8 500.8 76.5C502 78.2 503.7 80 505.5 80.6C507.3 81.2 509.8 81 511.5 80.2C513.2 79.3 515 77.5 515.6 75.7C516.2 73.8 515.5 71 515.2 69.3C514.9 67.6 514.1 66.7 513.8 65.5C513.5 64.2 513.3 63.1 513.2 62C513.2 60.9 513.2 59.9 513.4 58.9C513.5 57.9 513.8 56.9 514.2 55.9C514.5 54.9 515 53.9 515.7 52.9C516.3 51.8 517.3 51.3 518 49.6C518.7 48 520.1 45 519.9 42.9C519.7 40.8 518.2 38.3 516.5 37.1C514.9 35.8 512.2 34.9 510.1 35.2C508 35.4 505.7 37 504 38.5Z"/>
<path d="M474 112.4C472.6 113.7 471.6 115.6 470.6 117.2C469.5 118.8 468.5 120.5 467.6 122.3C466.7 124 465.9 125.8 465.2 127.6C464.5 129.5 463.8 131.4 463.3 133.3C462.8 135.2 462.4 137.1 462 139.1C461.7 141.1 461 143 461.3 145.2C461.7 147.3 462.5 150.4 464.1 152C465.7 153.6 468.5 154.8 470.7 154.8C473 154.8 475.8 153.8 477.4 152.2C479 150.6 479.9 147.2 480.4 145.4C480.9 143.5 480.3 142.5 480.3 141.1C480.3 139.7 480.4 138.3 480.6 137C480.8 135.6 481 134.2 481.3 132.9C481.7 131.6 482.1 130.2 482.5 128.9C483 127.6 483.5 126.3 484.1 125C484.8 123.7 485.7 122.7 486.2 121.1C486.8 119.5 487.8 117.1 487.5 115.4C487.2 113.6 485.9 111.6 484.5 110.6C483 109.6 480.7 109 479 109.3C477.2 109.6 475.4 111.1 474 112.4Z"/>
<path d="M506.4 126.3C505.3 127 504.5 128.1 503.7 129C502.9 130 502.2 131 501.5 132C500.9 133.1 500.3 134.2 499.9 135.3C499.4 136.5 499 137.6 498.8 138.8C498.5 140 498.3 141.3 498.3 142.5C498.2 143.8 498 145.1 498.3 146.3C498.6 147.5 499.2 149 500.1 149.8C501 150.5 502.6 151 503.7 150.9C504.9 150.8 506.3 150.1 507.1 149.2C507.9 148.3 508.1 146.5 508.3 145.5C508.5 144.4 508.2 143.8 508.3 143.1C508.3 142.3 508.4 141.7 508.5 141C508.7 140.3 508.9 139.7 509.1 139.1C509.4 138.4 509.7 137.9 510 137.3C510.4 136.7 510.8 136.1 511.3 135.6C511.8 135 512.4 134.8 513 133.9C513.5 133 514.6 131.6 514.7 130.4C514.8 129.2 514.2 127.7 513.4 126.8C512.7 125.9 511.3 125.2 510.1 125.1C508.9 125 507.5 125.7 506.4 126.3Z"/>
<path d="M530.1 108.9C531.1 110.3 532.8 111.7 534.1 113.2C535.4 114.6 536.7 116.1 537.9 117.5C539.2 119 540.4 120.5 541.5 122C542.7 123.5 543.9 125.1 545 126.6C546.1 128.2 547.2 129.8 548.2 131.3C549.3 132.9 549.9 134.8 551.3 136.2C552.8 137.6 554.9 139.3 556.8 139.6C558.7 139.9 561.3 139.2 562.9 138.1C564.4 137 565.9 134.7 566.2 132.8C566.5 130.9 565.7 128.4 564.8 126.6C563.8 124.7 562 123.3 560.6 121.7C559.2 120.2 557.8 118.6 556.4 117.1C554.9 115.6 553.4 114.1 551.9 112.6C550.4 111.2 548.9 109.8 547.4 108.4C545.8 107 544.2 105.6 542.6 104.3C541 102.9 539.3 101.2 537.8 100.3C536.3 99.4 534.9 98.8 533.5 98.9C532.2 99 530.6 99.8 529.7 100.8C528.8 101.8 528.1 103.5 528.2 104.9C528.3 106.2 529.2 107.5 530.1 108.9Z"/>
<path d="M539.4 138.4C539 139.2 539.1 139.9 539 140.6C538.9 141.4 538.8 142.2 538.7 142.9C538.7 143.7 538.7 144.4 538.7 145.2C538.7 145.9 538.8 146.7 538.9 147.4C539 148.2 539.1 148.9 539.3 149.7C539.5 150.4 539.4 151.1 539.9 151.9C540.4 152.7 541.3 154.1 542.2 154.6C543.1 155 544.6 155.1 545.6 154.8C546.6 154.4 547.7 153.5 548.2 152.6C548.7 151.7 548.5 149.9 548.5 149.1C548.4 148.3 548.2 148.1 548.1 147.7C548 147.2 547.9 146.7 547.8 146.3C547.8 145.8 547.7 145.3 547.7 144.9C547.7 144.4 547.7 143.9 547.7 143.5C547.7 143 547.8 142.5 547.9 142.1C547.9 141.6 548.2 141.4 548.2 140.6C548.1 139.8 548.2 138 547.7 137.1C547.1 136.2 545.9 135.4 544.9 135.1C543.9 134.9 542.4 135.1 541.5 135.6C540.6 136.1 539.9 137.6 539.4 138.4Z"/>
<path d="M684.2 126.4C682.2 127.2 680.4 129 678.6 130.4C676.9 131.8 675.3 133.4 673.8 135C672.3 136.6 671 138.4 669.8 140.2C668.7 142.1 667.6 144 666.8 146C665.9 148 665.2 150.1 664.6 152.2C664 154.3 663.4 156.7 663.4 158.7C663.4 160.7 663.7 162.8 664.6 164.2C665.6 165.6 667.6 166.7 669.3 167C670.9 167.3 673.2 166.8 674.6 165.8C676 164.9 676.9 162.6 677.6 161.1C678.3 159.5 678.4 158 678.9 156.6C679.4 155.2 680 153.9 680.7 152.7C681.4 151.5 682.1 150.4 682.9 149.4C683.8 148.4 684.7 147.4 685.7 146.5C686.7 145.6 687.8 144.8 688.9 144C690.1 143.2 691.5 143.1 692.8 141.8C694.2 140.5 696.5 138.3 697.1 136.3C697.6 134.3 697.2 131.6 696.2 129.8C695.2 128 693 126.2 691 125.6C689 125.1 686.3 125.6 684.2 126.4Z"/>
<path d="M686.9 159.8C686 160.1 685.5 160.8 684.8 161.3C684.2 161.9 683.6 162.4 683 163C682.4 163.6 681.8 164.2 681.3 164.9C680.8 165.5 680.2 166.2 679.8 166.9C679.3 167.6 678.8 168.3 678.4 169C678 169.7 677.4 170.4 677.2 171.3C677 172.1 676.7 173.5 677.1 174.4C677.4 175.3 678.2 176.2 679.1 176.6C679.9 177 681.2 177.1 682.1 176.8C683 176.5 683.9 175.3 684.4 174.7C685 174.1 685 173.6 685.3 173C685.6 172.5 686 172 686.3 171.5C686.7 171 687 170.5 687.4 170C687.8 169.6 688.2 169.1 688.7 168.7C689.1 168.3 689.5 167.8 690 167.4C690.5 167 691 166.9 691.5 166.3C692 165.6 693 164.5 693.2 163.6C693.3 162.7 693 161.4 692.4 160.7C691.9 159.9 690.8 159.2 689.9 159.1C689 158.9 687.7 159.4 686.9 159.8Z"/>
<path d="M778.1 66.2C777.1 66.6 776.5 67.2 775.8 67.8C775.1 68.3 774.4 68.9 773.7 69.5C773 70.2 772.4 70.8 771.8 71.5C771.2 72.2 770.6 73 770.1 73.8C769.6 74.5 769.2 75.3 768.8 76.2C768.3 77 767.8 77.7 767.6 78.7C767.5 79.8 767.3 81.5 767.8 82.6C768.3 83.7 769.5 84.7 770.6 85.2C771.6 85.6 773.2 85.6 774.3 85.1C775.4 84.6 776.4 83 777 82.2C777.6 81.5 777.4 81.2 777.7 80.7C777.9 80.2 778.2 79.7 778.5 79.2C778.8 78.8 779.1 78.4 779.4 78C779.8 77.6 780.1 77.2 780.5 76.8C780.9 76.5 781.3 76.1 781.8 75.8C782.2 75.4 782.6 75.5 783.2 74.8C783.8 74.1 785.3 72.8 785.6 71.7C785.9 70.5 785.6 69 785 68C784.4 67 783.1 66 782 65.7C780.8 65.4 779.2 65.9 778.1 66.2Z"/>
<path d="M878.7 88.1C877.7 88.8 877.2 89.8 876.5 90.6C875.8 91.4 875.1 92.3 874.5 93.2C873.9 94.1 873.3 95 872.7 96C872.2 96.9 871.7 97.9 871.2 98.8C870.8 99.8 870.3 100.8 870 101.9C869.6 102.9 869 103.8 868.9 105C868.8 106.2 868.8 107.8 869.4 108.9C870 109.9 871.3 110.9 872.4 111.2C873.5 111.5 875.1 111.4 876.1 110.8C877.2 110.2 878 108.6 878.6 107.7C879.1 106.8 879 106.1 879.3 105.3C879.6 104.6 879.9 103.8 880.3 103.1C880.6 102.4 881 101.7 881.4 101C881.8 100.3 882.2 99.6 882.7 98.9C883.2 98.3 883.6 97.6 884.2 97C884.7 96.3 885.3 96 885.8 95.1C886.3 94.2 887.3 92.7 887.3 91.5C887.3 90.3 886.6 88.9 885.7 88C884.9 87.2 883.4 86.6 882.2 86.6C881.1 86.6 879.6 87.5 878.7 88.1Z"/>
<path d="M936.7 100.9C936.7 102.3 937.1 102.7 937.2 103.6C937.4 104.4 937.4 105.3 937.4 106.1C937.4 106.9 937.4 107.7 937.2 108.5C937.1 109.3 937 110 936.7 110.8C936.5 111.6 936.2 112.4 935.9 113.2C935.5 113.9 935 114 934.7 115.5C934.4 117 933.5 120.2 934.1 122.1C934.7 124 936.4 126 938.2 126.9C939.9 127.8 942.6 128.1 944.5 127.5C946.4 127 948.4 124.8 949.5 123.4C950.7 122 950.8 120.5 951.3 119C951.9 117.5 952.3 116 952.6 114.5C952.9 113 953.1 111.4 953.2 109.9C953.3 108.4 953.3 106.8 953.1 105.3C953 103.7 952.8 102.2 952.4 100.7C952.1 99.2 952 97.7 951.1 96.2C950.3 94.7 948.9 92.5 947.3 91.7C945.7 90.9 943.3 90.8 941.6 91.3C939.9 91.8 938 93.3 937.2 94.9C936.4 96.5 936.7 99.4 936.7 100.9Z"/>
<path d="M845.6 142.1C844.5 143.8 844.1 145.7 843.5 147.5C842.9 149.3 842.4 151.1 841.9 153C841.4 154.8 841 156.7 840.7 158.6C840.4 160.4 840.2 162.3 840 164.2C839.9 166.1 839.8 168.1 839.8 170C839.8 171.9 839.4 173.8 840 175.8C840.6 177.8 841.7 180.6 843.4 181.9C845 183.2 847.8 183.9 849.8 183.7C851.9 183.5 854.5 182.2 855.8 180.6C857.1 179 857.5 175.8 857.8 173.9C858 172.1 857.4 171 857.4 169.5C857.3 168.1 857.2 166.6 857.3 165.2C857.3 163.8 857.4 162.3 857.6 160.9C857.7 159.5 857.9 158.1 858.2 156.7C858.5 155.2 858.8 153.8 859.2 152.4C859.6 151 860.4 149.9 860.6 148.2C860.8 146.4 861.2 143.6 860.5 141.9C859.8 140.1 857.9 138.4 856.1 137.7C854.4 137 851.8 136.9 850 137.6C848.3 138.4 846.7 140.5 845.6 142.1Z"/>
<path d="M811.3 176.6C810.1 177.7 809.2 179.2 808.2 180.5C807.3 181.9 806.4 183.3 805.7 184.7C804.9 186.1 804.3 187.6 803.7 189.1C803.1 190.7 802.6 192.2 802.2 193.8C801.8 195.4 801.6 197.1 801.4 198.7C801.2 200.4 800.7 202 801.1 203.8C801.5 205.5 802.3 208 803.7 209.2C805 210.4 807.3 211.2 809.1 211.1C810.9 211 813.2 210 814.4 208.7C815.7 207.4 816.2 204.5 816.5 203C816.8 201.5 816.3 200.8 816.3 199.7C816.3 198.6 816.3 197.6 816.4 196.5C816.6 195.5 816.7 194.5 817 193.5C817.2 192.4 817.5 191.4 817.9 190.5C818.3 189.5 818.8 188.5 819.3 187.5C819.8 186.5 820.6 185.8 821.1 184.5C821.6 183.3 822.6 181.3 822.5 179.8C822.3 178.3 821.3 176.6 820.1 175.7C819 174.7 817.1 174.1 815.6 174.3C814.1 174.5 812.5 175.6 811.3 176.6Z"/>
<path d="M863.6 182.7C862.8 182.9 862.3 183.4 861.7 183.8C861 184.3 860.4 184.8 859.9 185.3C859.3 185.8 858.8 186.3 858.3 186.9C857.8 187.5 857.4 188.1 857 188.7C856.6 189.4 856.2 190 855.9 190.7C855.6 191.4 855.1 192 855.1 192.9C855 193.7 854.9 195 855.3 195.8C855.7 196.6 856.6 197.3 857.5 197.6C858.3 197.9 859.5 197.8 860.3 197.4C861.1 197 861.8 195.7 862.2 195.2C862.6 194.6 862.5 194.3 862.7 193.9C862.9 193.5 863.1 193.1 863.3 192.7C863.5 192.4 863.8 192 864 191.7C864.3 191.4 864.6 191.1 864.9 190.8C865.2 190.5 865.6 190.3 865.9 190C866.3 189.8 866.6 189.8 867.1 189.3C867.6 188.8 868.7 187.9 869 187C869.3 186.2 869.1 185 868.7 184.2C868.3 183.5 867.4 182.7 866.5 182.4C865.7 182.1 864.4 182.4 863.6 182.7Z"/>
<path d="M638.5 227.6C638.2 228.5 638.3 229.4 638.2 230.3C638.1 231.2 638.1 232.1 638.1 233C638 233.9 638 234.8 638.1 235.7C638.1 236.6 638.2 237.5 638.2 238.4C638.3 239.2 638.4 240.1 638.6 241C638.7 241.9 638.7 242.8 639.1 243.7C639.5 244.6 640.2 245.8 641 246.4C641.9 246.9 643.2 247.1 644.2 246.9C645.2 246.7 646.3 245.9 646.8 245.1C647.4 244.2 647.4 242.7 647.4 241.8C647.4 240.9 647.1 240.4 647 239.7C646.9 238.9 646.8 238.2 646.7 237.5C646.6 236.8 646.6 236.1 646.6 235.4C646.5 234.7 646.5 233.9 646.6 233.2C646.6 232.5 646.6 231.8 646.7 231.1C646.7 230.3 647 229.8 646.9 228.9C646.9 228 646.7 226.5 646.1 225.7C645.6 224.9 644.4 224.2 643.4 224.1C642.4 223.9 641.1 224.2 640.3 224.8C639.5 225.4 638.9 226.7 638.5 227.6Z"/>
<path d="M639.9 269.8C639.7 270.2 639.8 270.3 639.8 270.5C639.7 270.8 639.7 271 639.6 271.3C639.6 271.5 639.5 271.8 639.5 272C639.4 272.3 639.4 272.5 639.4 272.8C639.3 273 639.3 273.3 639.2 273.5C639.2 273.7 639 273.8 639.1 274.2C639.2 274.7 639.2 275.8 639.6 276.3C639.9 276.9 640.7 277.3 641.3 277.4C642 277.5 642.8 277.4 643.4 277C643.9 276.6 644.3 275.6 644.5 275.2C644.7 274.8 644.6 274.7 644.6 274.5C644.7 274.2 644.7 274 644.8 273.7C644.8 273.5 644.9 273.2 644.9 273C645 272.7 645 272.5 645 272.2C645.1 272 645.1 271.7 645.2 271.5C645.2 271.3 645.4 271.2 645.3 270.8C645.2 270.3 645.2 269.2 644.8 268.7C644.5 268.1 643.7 267.7 643.1 267.6C642.4 267.5 641.6 267.6 641 268C640.5 268.4 640.1 269.4 639.9 269.8Z"/>
<path d="M632.3 323.3C631.7 324.4 631.6 325.5 631.3 326.6C631 327.7 630.8 328.8 630.5 329.9C630.3 331 630.1 332.1 630 333.2C629.8 334.3 629.7 335.5 629.6 336.6C629.5 337.7 629.5 338.8 629.4 340C629.4 341.1 629.2 342.2 629.5 343.4C629.7 344.5 630.2 345.9 631 346.7C631.8 347.5 633.3 347.9 634.4 347.9C635.5 347.9 636.9 347.3 637.7 346.5C638.4 345.6 638.7 344 639 343C639.2 341.9 638.9 341.1 638.9 340.1C638.9 339.2 639 338.3 639.1 337.3C639.1 336.4 639.2 335.5 639.4 334.5C639.5 333.6 639.7 332.7 639.8 331.8C640 330.9 640.2 330 640.5 329.1C640.7 328.1 641.2 327.4 641.3 326.3C641.4 325.3 641.5 323.6 641 322.6C640.5 321.6 639.3 320.7 638.3 320.3C637.2 320 635.7 320 634.7 320.6C633.7 321.1 632.8 322.3 632.3 323.3Z"/>
</g>
<g id="flagellates">
<g opacity="1.0"><path d="M336.6 70.6L336.2 70.1L335.7 69.3L335.1 68.2L334.4 67.1L333.6 65.9L332.7 64.6L331.8 63.4L330.7 62.3L329.6 61.3L328.5 60.3L327.3 59.5L326.1 58.6L324.8 57.8L323.6 57L322.4 56.3L321.3 55.6L320 54.8L318.8 54.1L317.6 53.5L316.4 52.8L315.3 52.2L314.2 51.6L313.2 51L312.2 50.4L311.3 49.7L310.4 49L309.6 48.3L308.7 47.6L308 46.8L307.2 46.1L306.6 45.3L305.9 44.5L305.4 43.8L305 42.9L304.5 42L304.1 41L303.7 39.9L303.3 38.9L302.8 37.8L302.2 36.8L301.6 35.9L301 35L300.4 34.1L299.7 33.3L299 32.4L298.3 31.7L297.5 30.9L296.6 30.2L295.6 29.6L294.5 29.1L293.4 28.6L292.2 28.2L291.1 27.8L290.1 27.5L289.3 27.2L288.7 27L288.7 27L288.3 28L288.9 28.3L289.7 28.6L290.6 29L291.7 29.5L292.7 30L293.7 30.6L294.6 31.2L295.4 31.8L296.1 32.4L296.7 33.1L297.2 33.9L297.8 34.7L298.3 35.5L298.8 36.4L299.3 37.3L299.8 38.2L300.2 39L300.5 40L300.9 41L301.2 42L301.5 43.1L301.9 44.2L302.4 45.4L303.1 46.5L303.7 47.5L304.5 48.4L305.3 49.4L306.1 50.3L306.9 51.1L307.8 52L308.8 52.8L309.8 53.6L310.8 54.4L312 55.2L313.1 55.9L314.3 56.7L315.4 57.3L316.6 58L317.7 58.7L318.7 59.4L319.9 60.2L321.1 61L322.2 61.8L323.4 62.6L324.5 63.4L325.5 64.2L326.4 65L327.3 65.7L328 66.6L328.8 67.5L329.5 68.6L330.2 69.7L330.9 70.8L331.4 71.8L332 72.7L332.4 73.4L332.4 73.4Z" fill="#7a5c30" stroke="#5c4524" stroke-width="1" stroke-linejoin="round"/><path d="M332.1 81.8C332.9 83.4 334.4 84.7 335.5 86.1C336.6 87.6 337.7 89 338.9 90.5C340 91.9 341.1 93.4 342.3 94.8C343.4 96.3 344.5 97.7 345.6 99.2C346.8 100.6 347.9 102.1 349 103.5C350.1 105 350.9 106.6 352.4 107.8C353.9 109.1 356.1 110.6 358 110.8C359.9 110.9 362.4 110.1 363.8 108.8C365.3 107.6 366.5 105.4 366.7 103.5C366.9 101.6 365.7 99.1 364.8 97.4C363.9 95.7 362.4 94.7 361.1 93.3C359.9 92 358.7 90.6 357.4 89.3C356.2 87.9 355 86.5 353.7 85.2C352.5 83.8 351.3 82.5 350.1 81.1C348.8 79.7 347.6 78.4 346.4 77C345.1 75.6 344.1 74 342.7 72.9C341.3 71.8 339.5 70.6 337.9 70.4C336.3 70.3 334.2 71 333 72.1C331.7 73.1 330.6 75 330.5 76.7C330.4 78.3 331.3 80.2 332.1 81.8Z" fill="#a58548" stroke="#5c4524" stroke-width="1.7"/><path d="M345.3 76.8Q341.8 82.6 335.4 85" fill="none" stroke="#6e5226" stroke-width="1.2" stroke-linecap="round"/><path d="M348.5 80.5Q345 86.4 338.6 88.8" fill="none" stroke="#6e5226" stroke-width="1.2" stroke-linecap="round"/><path d="M351.7 84.3Q348.1 90.2 341.8 92.6" fill="none" stroke="#6e5226" stroke-width="1.2" stroke-linecap="round"/><path d="M354.9 88.1Q351.3 94 345 96.4" fill="none" stroke="#6e5226" stroke-width="1.2" stroke-linecap="round"/><path d="M358 91.9Q354.5 97.8 348.1 100.2" fill="none" stroke="#6e5226" stroke-width="1.2" stroke-linecap="round"/><path d="M361.2 95.7Q357.7 101.5 351.3 104" fill="none" stroke="#6e5226" stroke-width="1.2" stroke-linecap="round"/></g>
<g opacity="1.0"><path d="M390.3 68.6L390.1 68L389.8 67L389.4 65.7L388.9 64.3L388.3 62.8L387.7 61.3L386.9 59.8L385.9 58.5L384.8 57.3L383.6 56.3L382.4 55.4L381.1 54.5L379.8 53.7L378.6 53L377.4 52.3L376.2 51.6L374.9 50.9L373.6 50.2L372.4 49.6L371.1 49.1L370 48.5L369 47.9L368.1 47.3L367.4 46.7L366.8 46L366.3 45.1L365.7 44.2L365.3 43.1L364.8 42L364.4 40.8L363.9 39.6L363.4 38.4L362.9 37.4L362.5 36.3L362 35.2L361.6 34.1L361.1 32.9L360.6 31.9L360 30.8L359.3 29.9L358.4 29L357.5 28.3L356.4 27.7L355.4 27.1L354.4 26.6L353.5 26.2L352.8 25.8L352.3 25.6L352.3 25.6L351.7 26.4L352.3 26.8L353 27.2L353.8 27.8L354.7 28.3L355.6 29L356.4 29.7L357.1 30.4L357.7 31.1L358.2 31.9L358.6 32.8L358.9 33.8L359.2 34.9L359.5 36L359.9 37.2L360.2 38.4L360.6 39.6L361 40.7L361.3 41.8L361.7 43L362 44.3L362.5 45.5L363 46.8L363.7 48.1L364.6 49.3L365.6 50.4L366.8 51.3L368 52.1L369.2 52.8L370.5 53.4L371.6 54.1L372.7 54.7L373.8 55.4L375 56.2L376.2 57L377.4 57.7L378.5 58.5L379.6 59.2L380.6 60L381.4 60.8L382.1 61.5L382.7 62.4L383.2 63.4L383.7 64.7L384.2 66L384.6 67.3L385 68.5L385.4 69.5L385.7 70.4L385.7 70.4Z" fill="#7a5c30" stroke="#5c4524" stroke-width="1" stroke-linejoin="round"/><path d="M385.7 78.5C386.4 80.1 387.7 81.5 388.7 83.1C389.6 84.6 390.6 86.1 391.6 87.6C392.6 89.1 393.6 90.6 394.6 92.2C395.5 93.7 396.5 95.2 397.5 96.7C398.5 98.2 399.5 99.7 400.5 101.3C401.4 102.8 402.1 104.5 403.4 105.8C404.8 107.1 406.7 108.8 408.6 109.1C410.4 109.4 412.8 108.8 414.3 107.7C415.8 106.7 417.2 104.6 417.5 102.8C417.9 101 417 98.5 416.2 96.8C415.5 95.1 414.1 93.9 413 92.5C411.9 91.1 410.8 89.6 409.7 88.2C408.6 86.7 407.5 85.3 406.4 83.8C405.4 82.4 404.3 81 403.2 79.5C402.1 78.1 401 76.6 399.9 75.2C398.8 73.7 397.9 72 396.6 70.9C395.4 69.7 393.8 68.3 392.2 68.1C390.7 67.8 388.6 68.3 387.4 69.2C386.1 70.1 384.9 71.9 384.6 73.4C384.3 75 385 76.9 385.7 78.5Z" fill="#a58548" stroke="#5c4524" stroke-width="1.7"/><path d="M398.9 74.8Q395.1 80.2 388.7 82" fill="none" stroke="#6e5226" stroke-width="1.2" stroke-linecap="round"/><path d="M401.7 78.8Q397.8 84.2 391.5 86" fill="none" stroke="#6e5226" stroke-width="1.2" stroke-linecap="round"/><path d="M404.5 82.8Q400.6 88.2 394.3 90" fill="none" stroke="#6e5226" stroke-width="1.2" stroke-linecap="round"/><path d="M407.3 86.8Q403.4 92.2 397.1 94" fill="none" stroke="#6e5226" stroke-width="1.2" stroke-linecap="round"/><path d="M410.1 90.8Q406.2 96.2 399.9 98" fill="none" stroke="#6e5226" stroke-width="1.2" stroke-linecap="round"/><path d="M412.9 94.8Q409 100.2 402.7 102" fill="none" stroke="#6e5226" stroke-width="1.2" stroke-linecap="round"/></g>
<g opacity="1.0"><path d="M810.9 77.3L811.1 76.5L811.4 75.4L811.7 74.3L812 73.1L812.4 71.9L812.8 70.8L813.3 69.8L813.8 69.1L814.6 68.4L815.5 67.6L816.6 66.8L817.8 66L819.1 65.2L820.4 64.5L821.8 63.7L823.1 62.9L824.2 62.3L825.4 61.7L826.7 61.2L828.1 60.6L829.5 60L830.9 59.3L832.2 58.4L833.3 57.3L834.3 55.9L835 54.5L835.5 53.1L836 51.6L836.3 50.2L836.6 48.8L836.9 47.6L837.2 46.5L837.6 45.4L837.9 44.3L838.2 43.4L838.5 42.4L838.7 41.6L839 40.8L839.3 40.2L839.7 39.6L840.1 39L840.7 38.5L841.3 38.1L842 37.7L842.7 37.3L843.3 37L843.8 36.7L844.2 36.4L844.2 36.4L843.8 35.6L843.4 35.7L842.8 35.9L842.2 36.2L841.4 36.5L840.6 36.8L839.8 37.3L839 37.8L838.3 38.4L837.7 39.2L837.2 40L836.8 40.8L836.4 41.7L836 42.6L835.6 43.5L835.2 44.5L834.8 45.5L834.3 46.7L833.8 48L833.4 49.3L832.9 50.7L832.4 51.9L831.9 53L831.3 54L830.7 54.7L829.9 55.3L829 55.9L827.9 56.4L826.6 56.8L825.3 57.3L823.9 57.8L822.4 58.4L820.9 59.1L819.6 59.7L818.3 60.4L816.8 61.2L815.4 62L814 62.8L812.6 63.7L811.3 64.7L810.2 65.9L809.1 67.3L808.3 68.8L807.7 70.2L807.2 71.7L806.9 73L806.6 74.2L806.3 75.1L806.1 75.7L806.1 75.7Z" fill="#7a5c30" stroke="#5c4524" stroke-width="1" stroke-linejoin="round"/><path d="M800.9 79.2C799.7 80.4 798.8 82 797.7 83.5C796.6 84.9 795.5 86.3 794.5 87.7C793.4 89.1 792.3 90.6 791.3 92C790.2 93.4 789.1 94.8 788.1 96.2C787 97.7 785.9 99.1 784.8 100.5C783.8 101.9 782.4 103.1 781.6 104.8C780.9 106.4 780.1 108.8 780.4 110.5C780.7 112.3 782 114.3 783.5 115.3C784.9 116.3 787.3 116.9 789 116.6C790.8 116.3 792.7 114.7 794 113.4C795.3 112.2 796 110.5 796.9 109C797.9 107.5 798.9 106 799.8 104.5C800.8 103 801.8 101.5 802.7 100C803.7 98.5 804.7 97 805.6 95.5C806.6 94 807.6 92.6 808.5 91.1C809.5 89.6 810.8 88.2 811.5 86.6C812.1 85 812.8 83.2 812.5 81.7C812.3 80.2 811.1 78.5 809.9 77.6C808.6 76.8 806.6 76.2 805.1 76.5C803.6 76.8 802.1 78 800.9 79.2Z" fill="#a58548" stroke="#5c4524" stroke-width="1.7"/><path d="M808.5 90Q802.3 88.4 798.7 83.1" fill="none" stroke="#6e5226" stroke-width="1.2" stroke-linecap="round"/><path d="M805.8 93.9Q799.6 92.3 795.9 87" fill="none" stroke="#6e5226" stroke-width="1.2" stroke-linecap="round"/><path d="M803 97.9Q796.8 96.2 793.2 91" fill="none" stroke="#6e5226" stroke-width="1.2" stroke-linecap="round"/><path d="M800.3 101.8Q794.1 100.2 790.4 94.9" fill="none" stroke="#6e5226" stroke-width="1.2" stroke-linecap="round"/><path d="M797.5 105.7Q791.3 104.1 787.7 98.8" fill="none" stroke="#6e5226" stroke-width="1.2" stroke-linecap="round"/><path d="M794.8 109.7Q788.6 108 784.9 102.8" fill="none" stroke="#6e5226" stroke-width="1.2" stroke-linecap="round"/></g>
<g opacity="1.0"><path d="M864.8 81.2L865.5 80.4L866.4 79.4L867.4 78.3L868.5 77L869.7 75.7L870.9 74.5L872.1 73.4L873.3 72.5L874.6 71.8L876.1 71.1L877.8 70.5L879.6 69.8L881.4 69.2L883.2 68.5L885 67.7L886.6 66.8L887.9 65.9L889.1 65L890.2 64L891.2 63L892.1 62L892.9 60.9L893.7 59.7L894.5 58.5L895.3 57L896 55.4L896.6 53.8L897.1 52.2L897.6 50.6L898.1 49.1L898.6 47.7L899.1 46.6L899.6 45.6L900.2 44.7L900.7 43.9L901.3 43.1L901.8 42.4L902.4 41.8L903 41.2L903.5 40.6L904.1 40.2L904.7 39.7L905.4 39.3L906.1 39L906.7 38.7L907.3 38.4L907.8 38.2L908.2 38L908.2 38L907.8 37L907.4 37.2L906.9 37.3L906.3 37.5L905.6 37.8L904.8 38.1L904 38.4L903.2 38.8L902.5 39.4L901.8 39.9L901.1 40.5L900.4 41.1L899.7 41.8L899 42.5L898.3 43.4L897.6 44.3L896.9 45.4L896.2 46.7L895.5 48.1L894.9 49.6L894.2 51.1L893.6 52.7L892.9 54.1L892.2 55.4L891.5 56.5L890.7 57.6L889.9 58.5L889.2 59.4L888.4 60.2L887.5 61L886.6 61.7L885.5 62.5L884.4 63.2L883.2 63.8L881.7 64.4L880 64.9L878.1 65.5L876.2 66.1L874.3 66.7L872.5 67.5L870.7 68.5L869.1 69.6L867.5 70.9L866.1 72.3L864.8 73.7L863.6 75L862.6 76.2L861.8 77.1L861.2 77.8L861.2 77.8Z" fill="#7a5c30" stroke="#5c4524" stroke-width="1" stroke-linejoin="round"/><path d="M854 82.3C852.6 83.4 851.6 84.9 850.4 86.3C849.2 87.6 848 88.9 846.8 90.2C845.6 91.5 844.4 92.9 843.3 94.2C842.1 95.5 840.9 96.8 839.7 98.1C838.5 99.5 837.3 100.8 836.1 102.1C834.9 103.4 833.4 104.4 832.5 106.1C831.6 107.7 830.5 110.2 830.6 112.1C830.8 114 832.1 116.2 833.5 117.5C835 118.7 837.4 119.5 839.3 119.4C841.2 119.2 843.4 117.6 844.9 116.5C846.4 115.3 847.1 113.7 848.2 112.2C849.3 110.8 850.4 109.4 851.5 108C852.6 106.6 853.7 105.2 854.7 103.8C855.8 102.4 856.9 101 858 99.6C859.1 98.2 860.2 96.8 861.3 95.4C862.4 94 863.8 92.7 864.6 91.2C865.4 89.6 866.3 87.7 866.2 86C866 84.4 865 82.5 863.7 81.5C862.5 80.4 860.4 79.7 858.8 79.8C857.2 80 855.4 81.2 854 82.3Z" fill="#a58548" stroke="#5c4524" stroke-width="1.7"/><path d="M861.3 94.3Q855 91.9 851.5 86" fill="none" stroke="#6e5226" stroke-width="1.2" stroke-linecap="round"/><path d="M858.3 98Q851.9 95.5 848.4 89.7" fill="none" stroke="#6e5226" stroke-width="1.2" stroke-linecap="round"/><path d="M855.2 101.7Q848.8 99.2 845.3 93.4" fill="none" stroke="#6e5226" stroke-width="1.2" stroke-linecap="round"/><path d="M852.1 105.4Q845.7 102.9 842.2 97.1" fill="none" stroke="#6e5226" stroke-width="1.2" stroke-linecap="round"/><path d="M849 109Q842.6 106.6 839.1 100.7" fill="none" stroke="#6e5226" stroke-width="1.2" stroke-linecap="round"/><path d="M845.9 112.7Q839.6 110.2 836 104.4" fill="none" stroke="#6e5226" stroke-width="1.2" stroke-linecap="round"/></g>
<g opacity="1.0"><path d="M771.1 303.3L771.2 302.5L771.3 301.4L771.5 300.1L771.7 298.6L771.9 297L772.1 295.4L772.3 293.9L772.6 292.4L772.8 291L773 289.5L773.3 288L773.6 286.5L773.9 285L774.1 283.4L774.3 281.8L774.5 280.3L774.6 278.6L774.7 277.1L774.7 275.5L774.7 274L774.7 272.5L774.7 271.1L774.8 269.7L774.9 268.3L775.1 266.9L775.3 265.4L775.6 263.9L775.9 262.4L776.2 260.9L776.6 259.4L776.9 258L777.2 256.6L777.6 255.3L777.9 254L778.2 252.8L778.6 251.5L779 250.3L779.3 249.1L779.7 247.9L780.1 246.6L780.5 245.3L780.9 243.9L781.3 242.4L781.7 241L782.1 239.6L782.4 238.4L782.7 237.4L782.9 236.6L782.9 236.6L779.1 235.4L778.8 236.2L778.5 237.2L778.1 238.4L777.7 239.8L777.2 241.2L776.8 242.7L776.3 244.1L775.9 245.4L775.5 246.6L775.1 247.8L774.7 249L774.3 250.2L773.9 251.4L773.5 252.7L773.1 254.1L772.8 255.4L772.4 256.8L772 258.3L771.6 259.8L771.3 261.4L770.9 262.9L770.6 264.5L770.3 266.1L770.1 267.7L769.9 269.3L769.8 270.9L769.8 272.5L769.7 274L769.7 275.5L769.7 276.9L769.6 278.4L769.5 279.7L769.3 281.2L769.1 282.6L768.8 284.1L768.5 285.6L768.3 287.1L768 288.6L767.7 290.1L767.4 291.6L767.2 293.1L767 294.7L766.8 296.3L766.6 297.9L766.4 299.4L766.2 300.7L766 301.8L765.9 302.7L765.9 302.7Z" fill="#6a5634" stroke="#5c4524" stroke-width="1" stroke-linejoin="round"/><path d="M759.8 309.7C759.1 311.4 759.1 313.3 758.8 315.1C758.5 316.9 758.2 318.7 757.8 320.5C757.5 322.3 757.2 324.1 756.9 326C756.6 327.8 756.2 329.6 755.9 331.4C755.6 333.2 755.3 335 754.9 336.8C754.6 338.6 753.9 340.3 754 342.2C754.1 344.1 754.4 346.8 755.6 348.3C756.7 349.9 759 351.1 760.9 351.4C762.7 351.6 765.3 351.1 766.8 349.9C768.3 348.8 769.4 346.3 770 344.5C770.7 342.6 770.4 340.8 770.6 339C770.8 337.2 771 335.3 771.2 333.5C771.3 331.7 771.5 329.9 771.7 328C771.9 326.2 772.1 324.4 772.3 322.6C772.5 320.7 772.7 318.9 772.9 317.1C773.1 315.3 773.6 313.4 773.4 311.6C773.3 309.8 773 307.7 772.1 306.4C771.1 305.1 769.2 304.1 767.6 303.8C766 303.6 763.8 304.1 762.5 305.1C761.2 306 760.4 308 759.8 309.7Z" fill="#9a7c44" stroke="#5c4524" stroke-width="1.7"/><path d="M772.3 316.1Q765.6 317.4 759.6 314.3" fill="none" stroke="#6e5226" stroke-width="1.2" stroke-linecap="round"/><path d="M771.7 321Q765 322.3 758.9 319.2" fill="none" stroke="#6e5226" stroke-width="1.2" stroke-linecap="round"/><path d="M771 325.9Q764.3 327.2 758.2 324.1" fill="none" stroke="#6e5226" stroke-width="1.2" stroke-linecap="round"/><path d="M770.3 330.8Q763.6 332.1 757.5 329" fill="none" stroke="#6e5226" stroke-width="1.2" stroke-linecap="round"/><path d="M769.6 335.7Q762.9 337 756.8 333.9" fill="none" stroke="#6e5226" stroke-width="1.2" stroke-linecap="round"/><path d="M768.9 340.6Q762.2 341.9 756.1 338.8" fill="none" stroke="#6e5226" stroke-width="1.2" stroke-linecap="round"/></g>
</g>
<g id="spirals">
<g><path d="M218.7 104.4L218 103.6L217.2 102.7L216.2 101.5L215.1 100.3L213.9 99L212.8 97.6L211.8 96.4L210.9 95.2L210.1 94.1L209.3 93L208.6 91.9L207.9 90.7L207.2 89.6L206.5 88.4L205.8 87.3L205.2 86.1L204.6 84.9L204.1 83.7L203.5 82.5L203 81.3L202.5 80.1L202 78.9L201.6 77.8L201.2 76.6L200.9 75.6L200.6 74.6L200.3 73.6L200 72.6L199.8 71.6L199.6 70.7L199.4 69.8L199.2 68.9L199.1 68.1L199 67.2L198.9 66.3L198.8 65.5L198.8 64.7L198.8 64L198.7 63.5L198.7 63L198.7 63L198.3 63L198.3 63.4L198.2 64L198.1 64.7L198 65.5L197.9 66.3L197.8 67.2L197.8 68.1L197.8 69.1L197.8 70L197.8 70.9L197.8 71.9L197.9 72.9L198 74L198.1 75.1L198.2 76.2L198.4 77.4L198.6 78.6L198.8 79.8L199.1 81.1L199.3 82.4L199.7 83.8L200 85.2L200.4 86.5L200.8 87.9L201.2 89.2L201.7 90.6L202.2 91.9L202.7 93.3L203.2 94.6L203.8 96L204.4 97.4L205.1 98.8L205.9 100.3L206.7 101.8L207.6 103.4L208.6 105L209.4 106.4L210.2 107.7L210.9 108.8L211.3 109.6L211.3 109.6Z" fill="#db52ba" stroke="#6e1662" stroke-width="1.7" stroke-linejoin="round"/><path d="M236.6 133L237.3 133.6L238.2 134.4L239.2 135.3L240.3 136.2L241.5 137.2L242.5 138.2L243.4 139.1L244.2 139.9L244.8 140.7L245.4 141.5L246 142.3L246.5 143.2L247 144L247.4 144.8L247.7 145.7L248.1 146.5L248.3 147.4L248.6 148.3L248.7 149.2L248.9 150.1L248.9 151L249 151.9L249 152.8L248.9 153.6L248.8 154.3L248.6 155L248.3 155.7L247.9 156.4L247.6 157.2L247.1 157.9L246.7 158.7L246.2 159.4L245.8 160.2L245.2 161.1L244.6 161.9L244 162.8L243.5 163.6L242.9 164.3L242.5 164.9L242.1 165.4L242.1 165.4L242.5 165.6L242.9 165.3L243.4 164.7L244.1 164.1L244.8 163.5L245.6 162.8L246.4 162L247.1 161.3L247.8 160.6L248.4 159.9L248.9 159.3L249.5 158.6L250.1 157.9L250.7 157.1L251.2 156.3L251.7 155.4L252.1 154.4L252.4 153.4L252.7 152.3L252.9 151.3L253 150.1L253.1 149L253.1 147.8L253.1 146.6L252.9 145.5L252.8 144.3L252.5 143.2L252.2 142L251.9 140.8L251.5 139.7L251 138.5L250.4 137.3L249.8 136.1L249.1 134.8L248.2 133.4L247.2 132.1L246.2 130.8L245.3 129.6L244.5 128.5L243.8 127.6L243.4 127L243.4 127Z" fill="#db52ba" stroke="#6e1662" stroke-width="1.7" stroke-linejoin="round"/><ellipse cx="0" cy="0" rx="12.7" ry="8.1" transform="translate(218.6 105.5) rotate(172)" fill="#db52ba" stroke="#6e1662" stroke-width="2.1"/><path d="M-7.9 0A7.9 3.6 0 0 0 7.9 0" transform="translate(218.6 105.5) rotate(172)" fill="none" stroke="#6e1662" stroke-width="1.6" stroke-linecap="round"/><ellipse cx="0" cy="0" rx="13.6" ry="8.1" transform="translate(224.2 114.5) rotate(172)" fill="#db52ba" stroke="#6e1662" stroke-width="2.1"/><path d="M-8.4 0A8.4 3.6 0 0 0 8.4 0" transform="translate(224.2 114.5) rotate(172)" fill="none" stroke="#6e1662" stroke-width="1.6" stroke-linecap="round"/><ellipse cx="0" cy="0" rx="13.6" ry="8.1" transform="translate(229.8 123.5) rotate(172)" fill="#db52ba" stroke="#6e1662" stroke-width="2.1"/><path d="M-8.4 0A8.4 3.6 0 0 0 8.4 0" transform="translate(229.8 123.5) rotate(172)" fill="none" stroke="#6e1662" stroke-width="1.6" stroke-linecap="round"/><ellipse cx="0" cy="0" rx="12.7" ry="8.1" transform="translate(235.4 132.5) rotate(172)" fill="#db52ba" stroke="#6e1662" stroke-width="2.1"/><path d="M-7.9 0A7.9 3.6 0 0 0 7.9 0" transform="translate(235.4 132.5) rotate(172)" fill="none" stroke="#6e1662" stroke-width="1.6" stroke-linecap="round"/></g>
<g><path d="M950 162L950.4 161.1L950.8 160L951.3 158.7L951.8 157.3L952.4 155.8L953 154.3L953.5 152.9L954 151.7L954.5 150.5L955 149.4L955.5 148.3L955.9 147.3L956.4 146.4L956.8 145.5L957.3 144.6L957.9 143.7L958.6 142.8L959.3 141.8L960.1 140.9L960.8 140.1L961.6 139.3L962.5 138.5L963.5 137.7L964.7 137L966.1 136.2L967.9 135.4L969.9 134.7L972 133.9L974 133.2L975.8 132.6L977.4 132.1L978.6 131.7L978.6 131.7L978.4 131.3L977.3 131.5L975.6 131.7L973.7 132L971.5 132.3L969.3 132.6L967.1 133L965.1 133.5L963.3 134L961.8 134.7L960.4 135.4L959.2 136.1L958 136.9L956.9 137.7L955.9 138.6L955 139.4L954.1 140.3L953.1 141.3L952.2 142.2L951.5 143.3L950.7 144.3L950 145.3L949.3 146.3L948.7 147.3L948 148.3L947.2 149.6L946.3 150.9L945.4 152.3L944.6 153.7L943.7 155.1L943 156.3L942.4 157.3L942 158L942 158Z" fill="#db52ba" stroke="#6e1662" stroke-width="1.7" stroke-linejoin="round"/><path d="M923.2 183.6L922.8 184.3L922.4 185.2L921.9 186.3L921.4 187.5L920.8 188.7L920.2 189.9L919.6 191L919.1 192L918.6 193.1L918.1 194L917.6 194.9L917.2 195.7L916.8 196.5L916.4 197.2L915.9 197.8L915.4 198.5L914.6 199.2L913.8 199.9L912.9 200.6L912 201.3L911 201.9L909.9 202.5L908.8 203L907.7 203.5L906.3 203.9L904.7 204.2L903 204.5L901.2 204.7L899.4 204.9L897.8 205.1L896.5 205.2L895.5 205.3L895.5 205.3L895.5 205.7L896.5 205.8L897.8 206L899.4 206.1L901.2 206.3L903 206.5L904.9 206.6L906.7 206.6L908.3 206.5L909.8 206.2L911.2 205.9L912.6 205.5L913.9 205L915.2 204.4L916.4 203.8L917.6 203.2L918.6 202.5L919.7 201.8L920.7 200.9L921.5 200.1L922.3 199.2L923 198.3L923.6 197.5L924.2 196.7L924.9 196L925.7 195L926.5 193.9L927.4 192.8L928.3 191.7L929.1 190.7L929.8 189.7L930.4 188.9L930.8 188.4L930.8 188.4Z" fill="#db52ba" stroke="#6e1662" stroke-width="1.7" stroke-linejoin="round"/><ellipse cx="0" cy="0" rx="13.2" ry="7.8" transform="translate(946.3 160.8) rotate(196)" fill="#db52ba" stroke="#6e1662" stroke-width="2.1"/><path d="M-8.2 0A8.2 3.5 0 0 0 8.2 0" transform="translate(946.3 160.8) rotate(196)" fill="none" stroke="#6e1662" stroke-width="1.6" stroke-linecap="round"/><ellipse cx="0" cy="0" rx="14.1" ry="7.8" transform="translate(939.8 168.6) rotate(196)" fill="#db52ba" stroke="#6e1662" stroke-width="2.1"/><path d="M-8.7 0A8.7 3.5 0 0 0 8.7 0" transform="translate(939.8 168.6) rotate(196)" fill="none" stroke="#6e1662" stroke-width="1.6" stroke-linecap="round"/><ellipse cx="0" cy="0" rx="14.1" ry="7.8" transform="translate(933.2 176.4) rotate(196)" fill="#db52ba" stroke="#6e1662" stroke-width="2.1"/><path d="M-8.7 0A8.7 3.5 0 0 0 8.7 0" transform="translate(933.2 176.4) rotate(196)" fill="none" stroke="#6e1662" stroke-width="1.6" stroke-linecap="round"/><ellipse cx="0" cy="0" rx="13.2" ry="7.8" transform="translate(926.7 184.2) rotate(196)" fill="#db52ba" stroke="#6e1662" stroke-width="2.1"/><path d="M-8.2 0A8.2 3.5 0 0 0 8.2 0" transform="translate(926.7 184.2) rotate(196)" fill="none" stroke="#6e1662" stroke-width="1.6" stroke-linecap="round"/></g>
<g><path d="M906.5 308.5L906.6 307.7L906.7 306.6L906.8 305.4L907 304L907.1 302.6L907.3 301.1L907.5 299.7L907.7 298.4L908 297.2L908.2 296L908.5 294.8L908.8 293.6L909.1 292.3L909.4 291L909.7 289.7L910 288.3L910.4 286.8L910.8 285L911.2 283.2L911.7 281.4L912.1 279.7L912.4 278.1L912.8 276.7L913 275.8L913 275.8L912.6 275.6L912.2 276.6L911.8 277.9L911.2 279.4L910.5 281L909.8 282.8L909.2 284.5L908.5 286.2L908 287.7L907.5 289L907 290.3L906.5 291.5L906 292.7L905.5 293.9L905.1 295.1L904.7 296.3L904.3 297.6L903.8 298.9L903.4 300.3L903 301.8L902.7 303.2L902.3 304.6L902 305.8L901.7 306.8L901.5 307.5L901.5 307.5Z" fill="#db52ba" stroke="#6e1662" stroke-width="1" stroke-linejoin="round"/><path d="M893.2 345L893 345.7L892.7 346.6L892.4 347.6L892.1 348.8L891.8 349.9L891.4 351.1L891 352.1L890.5 353.1L890 354L889.5 354.9L888.9 355.9L888.2 356.8L887.5 357.7L886.8 358.6L886.1 359.5L885.4 360.3L884.6 361.1L883.7 361.9L882.8 362.7L881.8 363.5L880.9 364.2L880.1 364.9L879.4 365.4L878.9 365.8L878.9 365.8L879.1 366.2L879.7 365.8L880.5 365.4L881.4 364.9L882.4 364.4L883.5 363.8L884.6 363.1L885.7 362.4L886.6 361.7L887.5 361L888.4 360.2L889.3 359.4L890.2 358.6L891.1 357.7L891.9 356.8L892.7 355.9L893.5 354.9L894.2 353.9L894.9 352.7L895.5 351.5L896.1 350.4L896.7 349.3L897.1 348.3L897.5 347.5L897.8 347L897.8 347Z" fill="#db52ba" stroke="#6e1662" stroke-width="1" stroke-linejoin="round"/><ellipse cx="0" cy="0" rx="6.3" ry="4.3" transform="translate(902.4 312) rotate(213)" fill="#db52ba" stroke="#6e1662" stroke-width="1.3"/><path d="M-3.9 0A3.9 2 0 0 0 3.9 0" transform="translate(902.4 312) rotate(213)" fill="none" stroke="#6e1662" stroke-width="1" stroke-linecap="round"/><ellipse cx="0" cy="0" rx="6.6" ry="4.3" transform="translate(901.3 318) rotate(213)" fill="#db52ba" stroke="#6e1662" stroke-width="1.3"/><path d="M-4.1 0A4.1 2 0 0 0 4.1 0" transform="translate(901.3 318) rotate(213)" fill="none" stroke="#6e1662" stroke-width="1" stroke-linecap="round"/><ellipse cx="0" cy="0" rx="6.9" ry="4.3" transform="translate(900.1 324) rotate(213)" fill="#db52ba" stroke="#6e1662" stroke-width="1.3"/><path d="M-4.3 0A4.3 2 0 0 0 4.3 0" transform="translate(900.1 324) rotate(213)" fill="none" stroke="#6e1662" stroke-width="1" stroke-linecap="round"/><ellipse cx="0" cy="0" rx="6.9" ry="4.3" transform="translate(898.9 330) rotate(213)" fill="#db52ba" stroke="#6e1662" stroke-width="1.3"/><path d="M-4.3 0A4.3 2 0 0 0 4.3 0" transform="translate(898.9 330) rotate(213)" fill="none" stroke="#6e1662" stroke-width="1" stroke-linecap="round"/><ellipse cx="0" cy="0" rx="6.6" ry="4.3" transform="translate(897.7 336) rotate(213)" fill="#db52ba" stroke="#6e1662" stroke-width="1.3"/><path d="M-4.1 0A4.1 2 0 0 0 4.1 0" transform="translate(897.7 336) rotate(213)" fill="none" stroke="#6e1662" stroke-width="1" stroke-linecap="round"/><ellipse cx="0" cy="0" rx="6.3" ry="4.3" transform="translate(896.6 342) rotate(213)" fill="#db52ba" stroke="#6e1662" stroke-width="1.3"/><path d="M-3.9 0A3.9 2 0 0 0 3.9 0" transform="translate(896.6 342) rotate(213)" fill="none" stroke="#6e1662" stroke-width="1" stroke-linecap="round"/></g>
<g><path d="M524.1 424.1L524.5 424.2L525 424.3L525.6 424.5L526.4 424.7L527.3 424.9L528.2 425.1L529.1 425.3L530.1 425.4L531 425.5L532 425.5L533 425.6L534.1 425.6L535.2 425.6L536.3 425.5L537.3 425.4L538.2 425.1L539.1 424.9L539.9 424.5L540.7 424.1L541.3 423.6L541.9 423.1L542.5 422.6L543 422.1L543.5 421.6L544 421L544.5 420.4L545 419.7L545.4 419L545.8 418.3L546.2 417.8L546.4 417.3L546.7 416.9L546.7 416.9L546.3 416.7L546 417L545.7 417.4L545.2 417.9L544.7 418.5L544.2 419L543.6 419.5L543 420L542.5 420.4L541.9 420.8L541.4 421.2L540.8 421.5L540.2 421.8L539.6 422L539 422.2L538.4 422.4L537.8 422.5L537.1 422.5L536.3 422.4L535.4 422.3L534.4 422.1L533.5 421.9L532.6 421.7L531.7 421.4L530.9 421.2L530.2 421L529.5 420.7L528.8 420.4L528.1 420L527.5 419.7L526.9 419.4L526.4 419.1L525.9 418.9L525.9 418.9Z" fill="#d452c0" stroke="#74186c" stroke-width="1" stroke-linejoin="round"/><path d="M503.5 434.4L503.3 434.8L503 435.4L502.6 436.1L502.2 436.9L501.7 437.7L501.3 438.6L500.9 439.5L500.5 440.4L500.1 441.2L499.8 442.1L499.5 443L499.1 443.9L498.8 444.8L498.6 445.8L498.3 446.7L498.1 447.6L498 448.5L497.9 449.3L497.9 450.1L497.9 450.9L498 451.7L498 452.5L498.1 453.2L498.1 454L498.2 454.8L498.3 455.7L498.5 456.5L498.6 457.4L498.8 458.2L498.9 458.9L499 459.6L499.1 460L499.1 460L499.5 460L499.5 459.5L499.5 458.9L499.6 458.2L499.6 457.3L499.6 456.5L499.7 455.6L499.8 454.8L499.9 454L500 453.3L500 452.5L500.2 451.8L500.3 451.1L500.4 450.4L500.6 449.7L500.8 449.1L501.1 448.4L501.4 447.7L501.7 447L502.1 446.3L502.6 445.5L503.1 444.8L503.5 444L504 443.3L504.5 442.6L505 441.9L505.5 441.2L506.1 440.5L506.7 439.8L507.2 439.2L507.7 438.6L508.2 438.1L508.5 437.6L508.5 437.6Z" fill="#d452c0" stroke="#74186c" stroke-width="1" stroke-linejoin="round"/><ellipse cx="0" cy="0" rx="6.6" ry="3.8" transform="translate(506 432.6) rotate(86)" fill="#d452c0" stroke="#74186c" stroke-width="1.3"/><path d="M-4.1 0A4.1 1.7 0 0 0 4.1 0" transform="translate(506 432.6) rotate(86)" fill="none" stroke="#74186c" stroke-width="1" stroke-linecap="round"/><ellipse cx="0" cy="0" rx="6.9" ry="3.8" transform="translate(510.8 430.3) rotate(86)" fill="#d452c0" stroke="#74186c" stroke-width="1.3"/><path d="M-4.3 0A4.3 1.7 0 0 0 4.3 0" transform="translate(510.8 430.3) rotate(86)" fill="none" stroke="#74186c" stroke-width="1" stroke-linecap="round"/><ellipse cx="0" cy="0" rx="7.2" ry="3.8" transform="translate(515.5 428) rotate(86)" fill="#d452c0" stroke="#74186c" stroke-width="1.3"/><path d="M-4.5 0A4.5 1.7 0 0 0 4.5 0" transform="translate(515.5 428) rotate(86)" fill="none" stroke="#74186c" stroke-width="1" stroke-linecap="round"/><ellipse cx="0" cy="0" rx="6.9" ry="3.8" transform="translate(520.2 425.7) rotate(86)" fill="#d452c0" stroke="#74186c" stroke-width="1.3"/><path d="M-4.3 0A4.3 1.7 0 0 0 4.3 0" transform="translate(520.2 425.7) rotate(86)" fill="none" stroke="#74186c" stroke-width="1" stroke-linecap="round"/><ellipse cx="0" cy="0" rx="6.6" ry="3.8" transform="translate(525 423.4) rotate(86)" fill="#d452c0" stroke="#74186c" stroke-width="1.3"/><path d="M-4.1 0A4.1 1.7 0 0 0 4.1 0" transform="translate(525 423.4) rotate(86)" fill="none" stroke="#74186c" stroke-width="1" stroke-linecap="round"/></g>
</g>
<g id="bloodflag">
<g opacity="1.0"><path d="M784 459.3L783.7 458.6L783.4 457.4L783 455.9L782.6 454.3L782 452.6L781.3 451L780.4 449.5L779.2 448.3L777.8 447.6L776.3 447.3L774.9 447.2L773.4 447.4L771.9 447.7L770.5 448.3L769.1 449L767.8 449.9L766.5 451.2L765.4 452.6L764.3 454.2L763.4 455.9L762.5 457.5L761.5 459.1L760.6 460.6L759.6 461.8L758.5 463L757.4 464.3L756.2 465.5L755 466.6L753.8 467.6L752.7 468.4L751.6 469.1L750.6 469.4L749.6 469.6L748.5 469.7L747.4 469.5L746.2 469.2L745 468.8L743.9 468.3L742.8 467.7L741.9 467L741 466.1L740.1 465L739.3 463.6L738.4 462L737.6 460.5L737 459.1L736.4 457.9L735.9 457L735.9 457L734.1 458L734.5 458.8L735 460L735.6 461.5L736.3 463.1L737.1 464.7L738 466.3L739 467.8L740.1 469L741.3 469.9L742.5 470.8L743.9 471.5L745.3 472.1L746.8 472.5L748.3 472.7L749.8 472.8L751.4 472.6L752.9 472L754.4 471.3L755.9 470.3L757.3 469.2L758.6 468L759.9 466.7L761.2 465.5L762.4 464.2L763.6 462.8L764.7 461.1L765.8 459.5L766.7 457.8L767.7 456.3L768.6 454.9L769.5 453.8L770.2 453.1L771.1 452.5L772.1 452L773.1 451.7L774.1 451.4L775 451.3L775.8 451.4L776.4 451.5L776.8 451.7L777.1 452L777.6 452.8L778.1 454.1L778.6 455.5L779 457L779.4 458.5L779.7 459.7L780 460.7L780 460.7Z" fill="#8c7040" stroke="#5e4a2a" stroke-width="1" stroke-linejoin="round"/><path d="M778.8 470.8C779 472.4 779.8 473.4 780.3 474.7C780.8 476 781.3 477.3 781.7 478.6C782.2 479.9 782.7 481.2 783.2 482.5C783.7 483.8 784.2 485.1 784.7 486.4C785.2 487.7 785.7 489 786.2 490.3C786.7 491.6 786.6 492.7 787.7 494.2C788.8 495.6 790.9 498.3 792.9 499.1C794.9 499.8 797.9 499.7 799.8 498.8C801.8 497.9 803.9 495.9 804.6 493.8C805.4 491.8 804.8 488.5 804.5 486.7C804.1 484.9 803.2 484.2 802.6 483C801.9 481.7 801.3 480.5 800.7 479.3C800 478 799.4 476.8 798.8 475.5C798.1 474.3 797.5 473.1 796.9 471.8C796.2 470.6 795.6 469.4 795 468.1C794.3 466.9 794.1 465.7 793.1 464.4C792 463.1 790.3 460.9 788.6 460.2C786.9 459.6 784.4 459.7 782.7 460.4C781.1 461.2 779.3 462.9 778.6 464.7C778 466.4 778.5 469.1 778.8 470.8Z" fill="#a38c5c" stroke="#5e4a2a" stroke-width="1.7"/><path d="M794 467.8Q788.2 472.8 780.7 473.8" fill="none" stroke="#6a5632" stroke-width="1.2" stroke-linecap="round"/><path d="M795.5 471.2Q789.8 476.2 782.2 477.2" fill="none" stroke="#6a5632" stroke-width="1.2" stroke-linecap="round"/><path d="M797.1 474.7Q791.3 479.6 783.7 480.6" fill="none" stroke="#6a5632" stroke-width="1.2" stroke-linecap="round"/><path d="M798.6 478.1Q792.8 483.1 785.2 484" fill="none" stroke="#6a5632" stroke-width="1.2" stroke-linecap="round"/><path d="M800.1 481.5Q794.3 486.5 786.8 487.5" fill="none" stroke="#6a5632" stroke-width="1.2" stroke-linecap="round"/><path d="M801.6 484.9Q795.9 489.9 788.3 490.9" fill="none" stroke="#6a5632" stroke-width="1.2" stroke-linecap="round"/></g>
<g opacity="1.0"><path d="M221.1 523.1L221.8 522.7L222.8 522.1L223.9 521.5L225.2 520.8L226.5 520L227.9 519.3L229.2 518.6L230.5 518L231.7 517.5L232.9 517L234.2 516.6L235.4 516.1L236.7 515.7L237.9 515.2L239.2 514.8L240.3 514.4L241.4 514L242.4 513.7L243.4 513.4L244.4 513L245.3 512.7L246.3 512.4L247.2 512.1L248.2 511.7L249.3 511.4L250.4 511L251.6 510.6L252.7 510.2L253.8 509.8L254.7 509.5L255.5 509.2L256.1 509L256.1 509L255.9 508L255.2 508.2L254.4 508.4L253.4 508.7L252.3 509L251.2 509.3L250 509.6L248.8 510L247.8 510.3L246.8 510.5L245.8 510.8L244.8 511.1L243.9 511.3L242.9 511.6L241.9 511.9L240.8 512.2L239.7 512.6L238.5 512.9L237.3 513.3L236.1 513.7L234.8 514.1L233.4 514.5L232.1 515L230.8 515.4L229.5 516L228.2 516.5L226.8 517.2L225.4 517.9L224.1 518.7L222.8 519.4L221.6 520L220.6 520.6L219.9 520.9L219.9 520.9Z" fill="#8a6a38" stroke="#6a5428" stroke-width="1" stroke-linejoin="round"/><path d="M213.9 519.7C212.6 519.9 211 520.7 209.5 521.2C208 521.8 206.6 522.3 205.1 522.8C203.6 523.3 202.2 523.8 200.7 524.3C199.2 524.8 197.8 525.4 196.3 525.9C194.8 526.4 193.4 526.9 191.9 527.4C190.4 527.9 188.7 528.2 187.5 529C186.3 529.7 185 530.7 184.4 531.9C183.9 533 183.9 534.8 184.4 536C184.8 537.1 186 538.4 187.2 538.9C188.3 539.5 189.9 539.3 191.4 539.1C192.8 538.8 194.2 537.9 195.7 537.3C197.1 536.7 198.5 536.1 200 535.5C201.4 534.9 202.9 534.3 204.3 533.7C205.7 533.1 207.2 532.5 208.6 531.9C210 531.3 211.5 530.7 212.9 530.1C214.3 529.5 216.1 529 217.2 528.3C218.4 527.6 219.4 526.8 219.8 525.8C220.3 524.8 220.2 523.3 219.9 522.3C219.5 521.3 218.5 520.2 217.5 519.8C216.5 519.3 215.3 519.4 213.9 519.7Z" fill="#8f7c42" stroke="#6a5428" stroke-width="1.7"/><path d="M213.5 529.4Q209.9 526.2 210.4 521.4" fill="none" stroke="#5e4c24" stroke-width="1.2" stroke-linecap="round"/><path d="M210.2 530.7Q206.6 527.4 207.1 522.6" fill="none" stroke="#5e4c24" stroke-width="1.2" stroke-linecap="round"/><path d="M206.9 531.9Q203.3 528.7 203.8 523.9" fill="none" stroke="#5e4c24" stroke-width="1.2" stroke-linecap="round"/><path d="M203.6 533.2Q200.1 529.9 200.6 525.1" fill="none" stroke="#5e4c24" stroke-width="1.2" stroke-linecap="round"/><path d="M200.4 534.4Q196.8 531.2 197.3 526.4" fill="none" stroke="#5e4c24" stroke-width="1.2" stroke-linecap="round"/><path d="M197.1 535.7Q193.5 532.4 194 527.6" fill="none" stroke="#5e4c24" stroke-width="1.2" stroke-linecap="round"/><path d="M193.8 536.9Q190.3 533.7 190.8 528.9" fill="none" stroke="#5e4c24" stroke-width="1.2" stroke-linecap="round"/></g>
</g>
<g id="viruses">
<g><circle cx="173.8" cy="166" r="22.4" fill="#b4f2ac" opacity="0.7" filter="url(#blur2)"/><path d="M190.1 168L200.8 169.3" stroke="#2c7a3c" stroke-width="2.1"/><circle cx="200.8" cy="169.3" r="2.1" fill="#6aa878" stroke="#2c7a3c" stroke-width="1.6"/><path d="M188.2 173.9L196 178.2" stroke="#2c7a3c" stroke-width="2.1"/><circle cx="196" cy="178.2" r="2.1" fill="#6aa878" stroke="#2c7a3c" stroke-width="1.6"/><path d="M185.1 177.9L190.7 183.7" stroke="#2c7a3c" stroke-width="2.1"/><circle cx="190.7" cy="183.7" r="2.1" fill="#6aa878" stroke="#2c7a3c" stroke-width="1.6"/><path d="M180.7 180.9L185.4 191" stroke="#2c7a3c" stroke-width="2.1"/><circle cx="185.4" cy="191" r="2.1" fill="#6aa878" stroke="#2c7a3c" stroke-width="1.6"/><path d="M174.4 182.4L174.7 190.3" stroke="#2c7a3c" stroke-width="2.1"/><circle cx="174.7" cy="190.3" r="2.1" fill="#6aa878" stroke="#2c7a3c" stroke-width="1.6"/><path d="M168.6 181.6L165.7 190.2" stroke="#2c7a3c" stroke-width="2.1"/><circle cx="165.7" cy="190.2" r="2.1" fill="#6aa878" stroke="#2c7a3c" stroke-width="1.6"/><path d="M164.3 179.4L158.1 188.1" stroke="#2c7a3c" stroke-width="2.1"/><circle cx="158.1" cy="188.1" r="2.1" fill="#6aa878" stroke="#2c7a3c" stroke-width="1.6"/><path d="M160.3 175.3L154.2 179.4" stroke="#2c7a3c" stroke-width="2.1"/><circle cx="154.2" cy="179.4" r="2.1" fill="#6aa878" stroke="#2c7a3c" stroke-width="1.6"/><path d="M157.7 169.2L147.7 171.3" stroke="#2c7a3c" stroke-width="2.1"/><circle cx="147.7" cy="171.3" r="2.1" fill="#6aa878" stroke="#2c7a3c" stroke-width="1.6"/><path d="M157.5 163.8L147.8 162.5" stroke="#2c7a3c" stroke-width="2.1"/><circle cx="147.8" cy="162.5" r="2.1" fill="#6aa878" stroke="#2c7a3c" stroke-width="1.6"/><path d="M158.9 159.1L152.1 155.9" stroke="#2c7a3c" stroke-width="2.1"/><circle cx="152.1" cy="155.9" r="2.1" fill="#6aa878" stroke="#2c7a3c" stroke-width="1.6"/><path d="M162.5 154.1L155 146.1" stroke="#2c7a3c" stroke-width="2.1"/><circle cx="155" cy="146.1" r="2.1" fill="#6aa878" stroke="#2c7a3c" stroke-width="1.6"/><path d="M167.9 150.7L164.8 142.6" stroke="#2c7a3c" stroke-width="2.1"/><circle cx="164.8" cy="142.6" r="2.1" fill="#6aa878" stroke="#2c7a3c" stroke-width="1.6"/><path d="M172.8 149.6L172.4 141.3" stroke="#2c7a3c" stroke-width="2.1"/><circle cx="172.4" cy="141.3" r="2.1" fill="#6aa878" stroke="#2c7a3c" stroke-width="1.6"/><path d="M178 150.2L180.9 139.4" stroke="#2c7a3c" stroke-width="2.1"/><circle cx="180.9" cy="139.4" r="2.1" fill="#6aa878" stroke="#2c7a3c" stroke-width="1.6"/><path d="M183.8 153L188.5 146.9" stroke="#2c7a3c" stroke-width="2.1"/><circle cx="188.5" cy="146.9" r="2.1" fill="#6aa878" stroke="#2c7a3c" stroke-width="1.6"/><path d="M187.8 157.5L195.9 152.6" stroke="#2c7a3c" stroke-width="2.1"/><circle cx="195.9" cy="152.6" r="2.1" fill="#6aa878" stroke="#2c7a3c" stroke-width="1.6"/><path d="M189.7 161.9L199.9 159.3" stroke="#2c7a3c" stroke-width="2.1"/><circle cx="199.9" cy="159.3" r="2.1" fill="#6aa878" stroke="#2c7a3c" stroke-width="1.6"/><circle cx="173.8" cy="166" r="17.4" fill="url(#gvir)" stroke="#2a8038" stroke-width="2.2"/><path d="M170.9 149.7L172.4 158.3" stroke="#1f7a30" stroke-width="1.7" stroke-linecap="round"/><path d="M182.1 151.7L179 157" stroke="#1f7a30" stroke-width="1.7" stroke-linecap="round"/><path d="M187.4 158.2L182.1 161.2" stroke="#1f7a30" stroke-width="1.7" stroke-linecap="round"/><path d="M159.5 157.7L164.8 160.8" stroke="#1f7a30" stroke-width="1.7" stroke-linecap="round"/><path d="M158.2 167.4L163.4 166.9" stroke="#1f7a30" stroke-width="1.7" stroke-linecap="round"/><path d="M160.2 173.8L165.5 170.8" stroke="#1f7a30" stroke-width="1.7" stroke-linecap="round"/><path d="M170.9 182.3L173.5 167.7" stroke="#1f7a30" stroke-width="1.7" stroke-linecap="round"/><path d="M178.1 182L176.3 175.2" stroke="#1f7a30" stroke-width="1.7" stroke-linecap="round"/><path d="M186.5 176.6L181.8 172.7" stroke="#1f7a30" stroke-width="1.7" stroke-linecap="round"/><path d="M173.8 163.4L181.6 168.1L188.6 169.5" stroke="#1f7a30" stroke-width="1.8" stroke-linecap="round" fill="none"/><circle cx="183.4" cy="168.1" r="2.2" fill="#3fae48" stroke="#1f7a30" stroke-width="1.4"/><circle cx="172.1" cy="179.9" r="1.9" fill="#3fae48" stroke="#1f7a30" stroke-width="1.3"/></g>
<g><circle cx="733.2" cy="117.8" r="22.7" fill="#b4f2ac" opacity="0.7" filter="url(#blur2)"/><path d="M749.8 119.8L760.4 121.1" stroke="#2c7a3c" stroke-width="2.1"/><circle cx="760.4" cy="121.1" r="2.1" fill="#6aa878" stroke="#2c7a3c" stroke-width="1.6"/><path d="M747.8 125.9L755.6 130.1" stroke="#2c7a3c" stroke-width="2.1"/><circle cx="755.6" cy="130.1" r="2.1" fill="#6aa878" stroke="#2c7a3c" stroke-width="1.6"/><path d="M744.7 129.9L750.2 135.6" stroke="#2c7a3c" stroke-width="2.1"/><circle cx="750.2" cy="135.6" r="2.1" fill="#6aa878" stroke="#2c7a3c" stroke-width="1.6"/><path d="M740.3 132.9L744.9 142.9" stroke="#2c7a3c" stroke-width="2.1"/><circle cx="744.9" cy="142.9" r="2.1" fill="#6aa878" stroke="#2c7a3c" stroke-width="1.6"/><path d="M733.8 134.5L734.1 142.3" stroke="#2c7a3c" stroke-width="2.1"/><circle cx="734.1" cy="142.3" r="2.1" fill="#6aa878" stroke="#2c7a3c" stroke-width="1.6"/><path d="M727.9 133.6L725.1 142.2" stroke="#2c7a3c" stroke-width="2.1"/><circle cx="725.1" cy="142.2" r="2.1" fill="#6aa878" stroke="#2c7a3c" stroke-width="1.6"/><path d="M723.5 131.4L717.3 140.1" stroke="#2c7a3c" stroke-width="2.1"/><circle cx="717.3" cy="140.1" r="2.1" fill="#6aa878" stroke="#2c7a3c" stroke-width="1.6"/><path d="M719.4 127.2L713.4 131.3" stroke="#2c7a3c" stroke-width="2.1"/><circle cx="713.4" cy="131.3" r="2.1" fill="#6aa878" stroke="#2c7a3c" stroke-width="1.6"/><path d="M716.8 121.1L706.9 123.1" stroke="#2c7a3c" stroke-width="2.1"/><circle cx="706.9" cy="123.1" r="2.1" fill="#6aa878" stroke="#2c7a3c" stroke-width="1.6"/><path d="M716.6 115.6L707 114.3" stroke="#2c7a3c" stroke-width="2.1"/><circle cx="707" cy="114.3" r="2.1" fill="#6aa878" stroke="#2c7a3c" stroke-width="1.6"/><path d="M718.1 110.8L711.3 107.6" stroke="#2c7a3c" stroke-width="2.1"/><circle cx="711.3" cy="107.6" r="2.1" fill="#6aa878" stroke="#2c7a3c" stroke-width="1.6"/><path d="M721.7 105.7L714.2 97.8" stroke="#2c7a3c" stroke-width="2.1"/><circle cx="714.2" cy="97.8" r="2.1" fill="#6aa878" stroke="#2c7a3c" stroke-width="1.6"/><path d="M727.2 102.2L724.1 94.3" stroke="#2c7a3c" stroke-width="2.1"/><circle cx="724.1" cy="94.3" r="2.1" fill="#6aa878" stroke="#2c7a3c" stroke-width="1.6"/><path d="M732.2 101.1L731.7 92.9" stroke="#2c7a3c" stroke-width="2.1"/><circle cx="731.7" cy="92.9" r="2.1" fill="#6aa878" stroke="#2c7a3c" stroke-width="1.6"/><path d="M737.5 101.7L740.3 91" stroke="#2c7a3c" stroke-width="2.1"/><circle cx="740.3" cy="91" r="2.1" fill="#6aa878" stroke="#2c7a3c" stroke-width="1.6"/><path d="M743.4 104.6L748 98.5" stroke="#2c7a3c" stroke-width="2.1"/><circle cx="748" cy="98.5" r="2.1" fill="#6aa878" stroke="#2c7a3c" stroke-width="1.6"/><path d="M747.5 109.1L755.4 104.3" stroke="#2c7a3c" stroke-width="2.1"/><circle cx="755.4" cy="104.3" r="2.1" fill="#6aa878" stroke="#2c7a3c" stroke-width="1.6"/><path d="M749.4 113.7L759.5 111.1" stroke="#2c7a3c" stroke-width="2.1"/><circle cx="759.5" cy="111.1" r="2.1" fill="#6aa878" stroke="#2c7a3c" stroke-width="1.6"/><circle cx="733.2" cy="117.8" r="17.7" fill="url(#gvir)" stroke="#2a8038" stroke-width="2.2"/><path d="M730.3 101.2L731.8 110" stroke="#1f7a30" stroke-width="1.7" stroke-linecap="round"/><path d="M741.6 103.2L738.5 108.6" stroke="#1f7a30" stroke-width="1.7" stroke-linecap="round"/><path d="M747 109.8L741.6 112.9" stroke="#1f7a30" stroke-width="1.7" stroke-linecap="round"/><path d="M718.6 109.4L724 112.5" stroke="#1f7a30" stroke-width="1.7" stroke-linecap="round"/><path d="M717.3 119.2L722.6 118.7" stroke="#1f7a30" stroke-width="1.7" stroke-linecap="round"/><path d="M719.4 125.8L724.8 122.7" stroke="#1f7a30" stroke-width="1.7" stroke-linecap="round"/><path d="M730.3 134.4L732.9 119.5" stroke="#1f7a30" stroke-width="1.7" stroke-linecap="round"/><path d="M737.6 134L735.7 127.2" stroke="#1f7a30" stroke-width="1.7" stroke-linecap="round"/><path d="M746.1 128.6L741.3 124.6" stroke="#1f7a30" stroke-width="1.7" stroke-linecap="round"/><path d="M733.2 115.1L741.2 119.9L748.2 121.3" stroke="#1f7a30" stroke-width="1.8" stroke-linecap="round" fill="none"/><circle cx="742.9" cy="119.9" r="2.2" fill="#3fae48" stroke="#1f7a30" stroke-width="1.4"/><circle cx="731.4" cy="132" r="1.9" fill="#3fae48" stroke="#1f7a30" stroke-width="1.3"/></g>
</g>
<g id="arrows">
<path d="M636.6 153.5L656 153.5L651.5 197L665 197L643.4 215.4L626.8 197L639.5 197Z" fill="#fff" stroke="#fff" stroke-width="5" stroke-linejoin="round" filter="url(#blur1)" opacity="0.95"/>
<path d="M636.6 153.5L656 153.5L651.5 197L665 197L643.4 215.4L626.8 197L639.5 197Z" fill="url(#garrow)" stroke="#e4551a" stroke-width="1.9" stroke-linejoin="miter"/>
<path d="M786 171L803.6 173.8L792 214.5L804.6 218.4L781 233L767.5 211.5L781 211.5Z" fill="#fff" stroke="#fff" stroke-width="5" stroke-linejoin="round" filter="url(#blur1)" opacity="0.95"/>
<path d="M786 171L803.6 173.8L792 214.5L804.6 218.4L781 233L767.5 211.5L781 211.5Z" fill="url(#garrow)" stroke="#e4551a" stroke-width="1.9" stroke-linejoin="miter"/>
<path d="M927.5 196.6L944 197.6L928.4 238.6L941 242.5L917.7 254.2L905 231.8L920.6 233.7Z" fill="#fff" stroke="#fff" stroke-width="5" stroke-linejoin="round" filter="url(#blur1)" opacity="0.95"/>
<path d="M927.5 196.6L944 197.6L928.4 238.6L941 242.5L917.7 254.2L905 231.8L920.6 233.7Z" fill="url(#garrow)" stroke="#e4551a" stroke-width="1.9" stroke-linejoin="miter"/>
<path d="M625 349.5L643.8 349.5L638.8 392.5L653.8 393.8L631.2 411.2L613.8 392.5L627.5 392.5Z" fill="#fff" stroke="#fff" stroke-width="5" stroke-linejoin="round" filter="url(#blur1)" opacity="0.95"/>
<path d="M625 349.5L643.8 349.5L638.8 392.5L653.8 393.8L631.2 411.2L613.8 392.5L627.5 392.5Z" fill="url(#garrow)" stroke="#e4551a" stroke-width="1.9" stroke-linejoin="miter"/>
<path d="M752.5 364.5L771.2 366.2L763.8 408.8L772.5 411.2L750 426.2L733.8 403.8L750 406.2Z" fill="#fff" stroke="#fff" stroke-width="5" stroke-linejoin="round" filter="url(#blur1)" opacity="0.95"/>
<path d="M752.5 364.5L771.2 366.2L763.8 408.8L772.5 411.2L750 426.2L733.8 403.8L750 406.2Z" fill="url(#garrow)" stroke="#e4551a" stroke-width="1.9" stroke-linejoin="miter"/>
<path d="M875.5 388.2L892.2 391.2L878 431.2L890.5 436.2L866.8 448.8L854.2 426.2L869.2 428.8Z" fill="#fff" stroke="#fff" stroke-width="5" stroke-linejoin="round" filter="url(#blur1)" opacity="0.95"/>
<path d="M875.5 388.2L892.2 391.2L878 431.2L890.5 436.2L866.8 448.8L854.2 426.2L869.2 428.8Z" fill="url(#garrow)" stroke="#e4551a" stroke-width="1.9" stroke-linejoin="miter"/>
</g>
<g id="callouts">
<path d="M127 634.7L229 634.7L314.5 553L257.5 634.7L285 634.7L285 707.8L127 707.8Z" fill="#b8b090" opacity="0.55" filter="url(#boxsh)" transform="translate(1.5 2)"/>
<path d="M127 634.7L229 634.7L314.5 553L257.5 634.7L285 634.7L285 707.8L127 707.8Z" fill="url(#gbox)" stroke="#d9cf8e" stroke-width="1.4" stroke-linejoin="miter"/>
<path d="M303.6 634.7L398 634.7L445.5 533.5L425.5 634.7L460.7 634.7L460.7 707.8L303.6 707.8Z" fill="#b8b090" opacity="0.55" filter="url(#boxsh)" transform="translate(1.5 2)"/>
<path d="M303.6 634.7L398 634.7L445.5 533.5L425.5 634.7L460.7 634.7L460.7 707.8L303.6 707.8Z" fill="url(#gbox)" stroke="#d9cf8e" stroke-width="1.4" stroke-linejoin="miter"/>
<path d="M478.8 634.7L540.8 634.7L558 527L573.6 634.7L633.6 634.7L633.6 707.8L478.8 707.8Z" fill="#b8b090" opacity="0.55" filter="url(#boxsh)" transform="translate(1.5 2)"/>
<path d="M478.8 634.7L540.8 634.7L558 527L573.6 634.7L633.6 634.7L633.6 707.8L478.8 707.8Z" fill="url(#gbox)" stroke="#d9cf8e" stroke-width="1.4" stroke-linejoin="miter"/>
<path d="M651.3 634.7L690.5 634.7L669.5 531L718.7 634.7L805.6 634.7L805.6 707.8L651.3 707.8Z" fill="#b8b090" opacity="0.55" filter="url(#boxsh)" transform="translate(1.5 2)"/>
<path d="M651.3 634.7L690.5 634.7L669.5 531L718.7 634.7L805.6 634.7L805.6 707.8L651.3 707.8Z" fill="url(#gbox)" stroke="#d9cf8e" stroke-width="1.4" stroke-linejoin="miter"/>
<path d="M824.3 634.7L858 634.7L802 553L888 634.7L980.5 634.7L980.5 707.8L824.3 707.8Z" fill="#b8b090" opacity="0.55" filter="url(#boxsh)" transform="translate(1.5 2)"/>
<path d="M824.3 634.7L858 634.7L802 553L888 634.7L980.5 634.7L980.5 707.8L824.3 707.8Z" fill="url(#gbox)" stroke="#d9cf8e" stroke-width="1.4" stroke-linejoin="miter"/>
</g>
<g id="labels" font-family="'Liberation Sans', sans-serif" fill="#111">
<text x="531.7" y="81.7" text-anchor="start" font-size="19.6" >Gluten</text>
<text x="279.5" y="137.5" text-anchor="start" font-size="19.6" >Micro-organisms</text>
<text x="207.3" y="193.8" text-anchor="start" font-size="19.0" >Toxins</text>
<text x="327.4" y="298" text-anchor="start" font-size="19.6" fill="#2a1410">Tight Junctions</text>
<text x="707.5" y="267.2" text-anchor="middle" font-size="19.6" fill="#3a100c">Leaky and</text>
<text x="708" y="289.6" text-anchor="middle" font-size="19.6" fill="#3a100c">Inflamed</text>
<text x="115.5" y="412.5" text-anchor="end" font-size="19.6" >Mucosal</text>
<text x="115.5" y="434.5" text-anchor="end" font-size="19.6" >Membrane</text>
<text x="115.5" y="456.3" text-anchor="end" font-size="19.6" >Cells</text>
<text x="115.5" y="528.8" text-anchor="end" font-size="19.6" >Blood</text>
<text x="115.5" y="550.8" text-anchor="end" font-size="19.6" >Stream</text>
<text x="206.5" y="667" text-anchor="middle" font-size="19.6" >Nutrient</text>
<text x="206.5" y="689.3" text-anchor="middle" font-size="19.6" >Malabsorption</text>
<text x="380.5" y="678.5" text-anchor="middle" font-size="19.6" >Autoimmunity</text>
<text x="553" y="667" text-anchor="middle" font-size="19.6" >Food</text>
<text x="556.5" y="689.3" text-anchor="middle" font-size="19.6" >Intolerance</text>
<text x="728.5" y="669" text-anchor="middle" font-size="19.6" >Blood-Brain</text>
<text x="728.5" y="691.3" text-anchor="middle" font-size="19.6" >Barrier Breech</text>
<text x="904" y="666" text-anchor="middle" font-size="19.6" >Systematic</text>
<text x="904" y="689.5" text-anchor="middle" font-size="19.6" >Inflammation</text>
<text font-size="24.39"><textPath href="#arc" startOffset="8.4">IgG Immune Response - IgA Reaction - B and T Cells Release</textPath></text>
</g>
<g id="logo" font-family="'Liberation Sans', sans-serif" font-weight="bold" fill="#0a0a0a">
<text x="18.5" y="57" font-size="51.5" textLength="58" lengthAdjust="spacingAndGlyphs">Dr.</text>
<text x="89.5" y="57" font-size="51.5" textLength="89" lengthAdjust="spacingAndGlyphs">Axe</text>
<text x="20" y="79" font-size="13.2" textLength="48.5" lengthAdjust="spacingAndGlyphs" letter-spacing="1.6">FOOD</text>
<text x="75.3" y="76.3" font-size="8.2" textLength="10" lengthAdjust="spacingAndGlyphs">IS</text>
<rect x="75" y="77.7" width="10.8" height="1.4"/>
<text x="92.5" y="79" font-size="13.2" textLength="86.5" lengthAdjust="spacingAndGlyphs" letter-spacing="1.6">MEDICINE</text>
</g>
<g id="wm">
<ellipse cx="909" cy="681" rx="13" ry="11" fill="#fff" fill-opacity="0.82" stroke="#bbb" stroke-width="0.6"/>
<path d="M900 689L898 695L905 691Z" fill="#fff"/>
<ellipse cx="922" cy="690" rx="12" ry="10" fill="#fff" stroke="#aaa" stroke-width="0.7"/>
<path d="M929 697L932 702L925 699Z" fill="#fff"/>
<circle cx="904.5" cy="677.5" r="1.3" fill="#666"/><circle cx="913.5" cy="677.5" r="1.3" fill="#666"/>
<circle cx="918" cy="687.5" r="1.2" fill="#444"/><circle cx="926" cy="687.5" r="1.2" fill="#444"/>
<text x="941.5" y="695.5" font-family="'Liberation Sans', 'Noto Sans CJK SC', sans-serif" font-size="24" fill="#fff" stroke="#777" stroke-width="0.7" paint-order="stroke" style="text-shadow:1px 1px 1px #555">播恩</text>
</g>
</svg>
</body></html>
